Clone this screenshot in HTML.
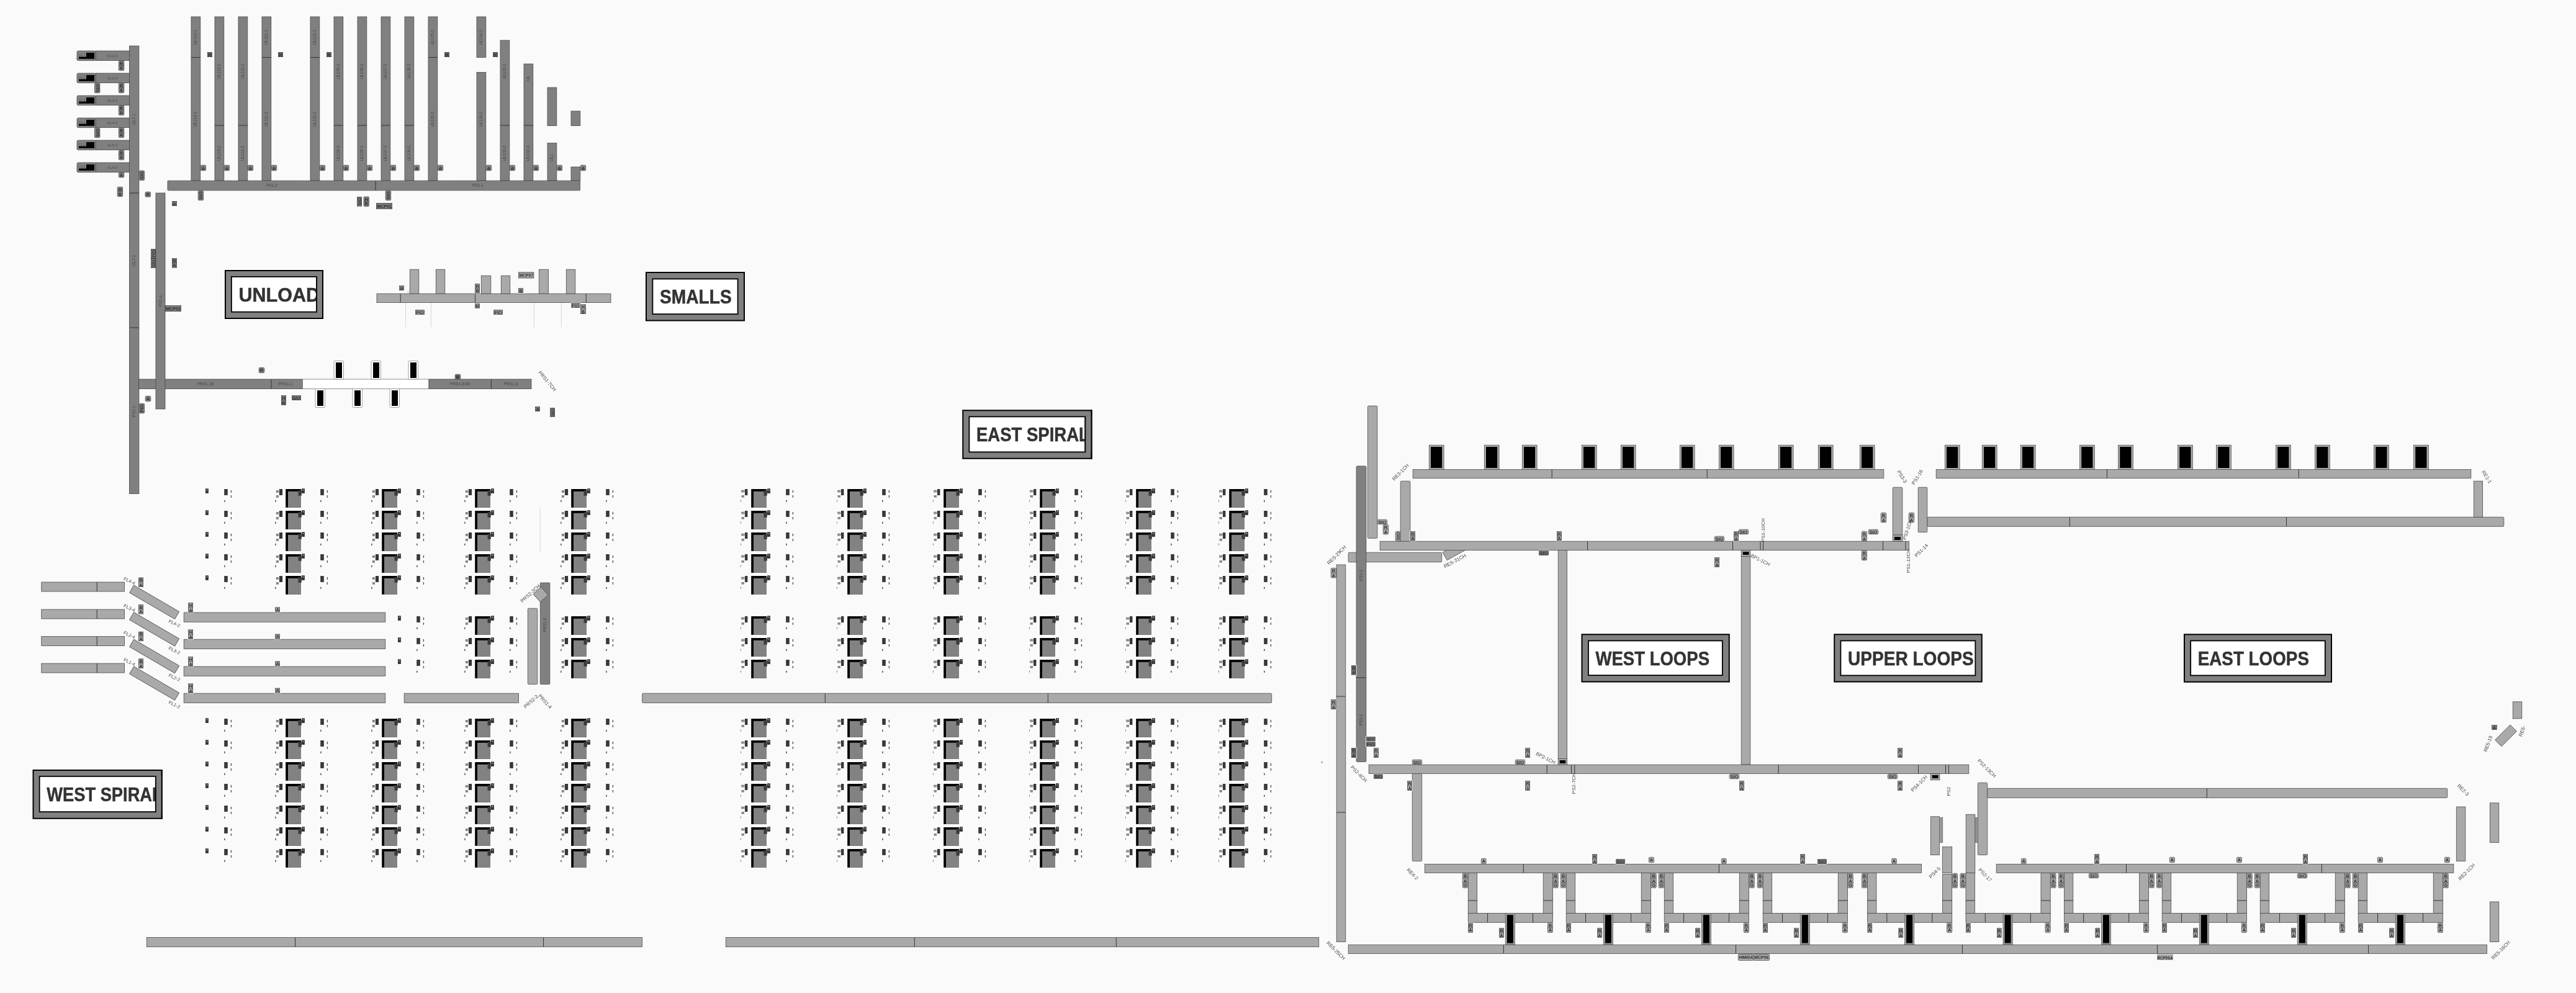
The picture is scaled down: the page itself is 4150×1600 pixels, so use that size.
<!DOCTYPE html>
<html><head><meta charset="utf-8"><title>Conveyor Overview</title>
<style>
html,body{margin:0;padding:0;background:#fafafa;}
body{width:4150px;height:1600px;overflow:hidden;font-family:"Liberation Sans",sans-serif;}
svg{display:block;font-family:"Liberation Sans",sans-serif;}
</style></head><body>
<svg width="4150" height="1600" viewBox="0 0 4150 1600">
<rect width="4150" height="1600" fill="#fafafa"/>
<g opacity="0.999">
<rect x="124" y="82" width="30.3" height="15.6" fill="#808080" stroke="#4a4a4a" stroke-width="0.8" rx="2"/>
<rect x="154.3" y="82" width="54.1" height="15.6" fill="#808080" stroke="#4a4a4a" stroke-width="0.8"/>
<text x="181" y="92" font-size="6" fill="#4c4c4c" text-anchor="middle">GL1-3</text>
<rect x="127" y="85" width="25" height="9.8" fill="#000"/>
<rect x="124.6" y="82.6" width="14.4" height="9" fill="#808080"/>
<text x="132" y="90.6" font-size="6" fill="#5a5a5a" text-anchor="middle">GL1</text>
<rect x="191.3" y="98.1" width="8.5" height="15.5" fill="#808080" stroke="#555" stroke-width="0.8" rx="1.5"/>
<text x="195.55" y="104.65" font-size="7.5" fill="#2e2e2e" font-weight="bold" text-anchor="middle">R</text>
<path d="M191.3 105.85L199.8 105.85" stroke="#444" stroke-width="0.7"/>
<text x="195.55" y="112.4" font-size="7.5" fill="#2e2e2e" font-weight="bold" text-anchor="middle">A</text>
<rect x="124" y="118" width="30.3" height="15.6" fill="#808080" stroke="#4a4a4a" stroke-width="0.8" rx="2"/>
<rect x="154.3" y="118" width="54.1" height="15.6" fill="#808080" stroke="#4a4a4a" stroke-width="0.8"/>
<text x="181" y="128" font-size="6" fill="#4c4c4c" text-anchor="middle">GL2-3</text>
<rect x="127" y="121" width="25" height="9.8" fill="#000"/>
<rect x="124.6" y="118.6" width="14.4" height="9" fill="#808080"/>
<text x="132" y="126.6" font-size="6" fill="#5a5a5a" text-anchor="middle">GL2</text>
<rect x="191.3" y="134.1" width="8.5" height="15.5" fill="#808080" stroke="#555" stroke-width="0.8" rx="1.5"/>
<text x="195.55" y="140.65" font-size="7.5" fill="#2e2e2e" font-weight="bold" text-anchor="middle">R</text>
<path d="M191.3 141.85L199.8 141.85" stroke="#444" stroke-width="0.7"/>
<text x="195.55" y="148.4" font-size="7.5" fill="#2e2e2e" font-weight="bold" text-anchor="middle">A</text>
<rect x="152.4" y="134.2" width="8.5" height="15.5" fill="#808080" stroke="#555" stroke-width="0.8" rx="1.5"/>
<text x="159.6" y="141.95" font-size="7.5" font-weight="bold" fill="#2e2e2e" text-anchor="middle" textLength="13" lengthAdjust="spacingAndGlyphs" transform="rotate(-90 159.6 141.95)">SIO</text>
<rect x="124" y="154" width="30.3" height="15.6" fill="#808080" stroke="#4a4a4a" stroke-width="0.8" rx="2"/>
<rect x="154.3" y="154" width="54.1" height="15.6" fill="#808080" stroke="#4a4a4a" stroke-width="0.8"/>
<text x="181" y="164" font-size="6" fill="#4c4c4c" text-anchor="middle">GL3-3</text>
<rect x="127" y="157" width="25" height="9.8" fill="#000"/>
<rect x="124.6" y="154.6" width="14.4" height="9" fill="#808080"/>
<text x="132" y="162.6" font-size="6" fill="#5a5a5a" text-anchor="middle">GL3</text>
<rect x="191.3" y="170.1" width="8.5" height="15.5" fill="#808080" stroke="#555" stroke-width="0.8" rx="1.5"/>
<text x="195.55" y="176.65" font-size="7.5" fill="#2e2e2e" font-weight="bold" text-anchor="middle">R</text>
<path d="M191.3 177.85L199.8 177.85" stroke="#444" stroke-width="0.7"/>
<text x="195.55" y="184.4" font-size="7.5" fill="#2e2e2e" font-weight="bold" text-anchor="middle">A</text>
<rect x="124" y="190" width="30.3" height="15.6" fill="#808080" stroke="#4a4a4a" stroke-width="0.8" rx="2"/>
<rect x="154.3" y="190" width="54.1" height="15.6" fill="#808080" stroke="#4a4a4a" stroke-width="0.8"/>
<text x="181" y="200" font-size="6" fill="#4c4c4c" text-anchor="middle">GL4-3</text>
<rect x="127" y="193" width="25" height="9.8" fill="#000"/>
<rect x="124.6" y="190.6" width="14.4" height="9" fill="#808080"/>
<text x="132" y="198.6" font-size="6" fill="#5a5a5a" text-anchor="middle">GL4</text>
<rect x="191.3" y="206.1" width="8.5" height="15.5" fill="#808080" stroke="#555" stroke-width="0.8" rx="1.5"/>
<text x="195.55" y="212.65" font-size="7.5" fill="#2e2e2e" font-weight="bold" text-anchor="middle">R</text>
<path d="M191.3 213.85L199.8 213.85" stroke="#444" stroke-width="0.7"/>
<text x="195.55" y="220.4" font-size="7.5" fill="#2e2e2e" font-weight="bold" text-anchor="middle">A</text>
<rect x="152.4" y="206.2" width="8.5" height="15.5" fill="#808080" stroke="#555" stroke-width="0.8" rx="1.5"/>
<text x="159.6" y="213.95" font-size="7.5" font-weight="bold" fill="#2e2e2e" text-anchor="middle" textLength="13" lengthAdjust="spacingAndGlyphs" transform="rotate(-90 159.6 213.95)">SIO</text>
<rect x="124" y="226" width="30.3" height="15.6" fill="#808080" stroke="#4a4a4a" stroke-width="0.8" rx="2"/>
<rect x="154.3" y="226" width="54.1" height="15.6" fill="#808080" stroke="#4a4a4a" stroke-width="0.8"/>
<text x="181" y="236" font-size="6" fill="#4c4c4c" text-anchor="middle">GL5-3</text>
<rect x="127" y="229" width="25" height="9.8" fill="#000"/>
<rect x="124.6" y="226.6" width="14.4" height="9" fill="#808080"/>
<text x="132" y="234.6" font-size="6" fill="#5a5a5a" text-anchor="middle">GL5</text>
<rect x="191.3" y="242.1" width="8.5" height="15.5" fill="#808080" stroke="#555" stroke-width="0.8" rx="1.5"/>
<text x="195.55" y="248.65" font-size="7.5" fill="#2e2e2e" font-weight="bold" text-anchor="middle">R</text>
<path d="M191.3 249.85L199.8 249.85" stroke="#444" stroke-width="0.7"/>
<text x="195.55" y="256.4" font-size="7.5" fill="#2e2e2e" font-weight="bold" text-anchor="middle">A</text>
<rect x="124" y="262" width="30.3" height="15.6" fill="#808080" stroke="#4a4a4a" stroke-width="0.8" rx="2"/>
<rect x="154.3" y="262" width="54.1" height="15.6" fill="#808080" stroke="#4a4a4a" stroke-width="0.8"/>
<text x="181" y="272" font-size="6" fill="#4c4c4c" text-anchor="middle">GL6-3</text>
<rect x="127" y="265" width="25" height="9.8" fill="#000"/>
<rect x="124.6" y="262.6" width="14.4" height="9" fill="#808080"/>
<text x="132" y="270.6" font-size="6" fill="#5a5a5a" text-anchor="middle">GL6</text>
<rect x="191.3" y="278.1" width="8.5" height="7.75" fill="#808080" stroke="#555" stroke-width="0.8" rx="1.5"/>
<text x="195.55" y="284.65" font-size="7.5" fill="#2e2e2e" font-weight="bold" text-anchor="middle">A</text>
<path d="M121 94.5h3" stroke="#e0a868" stroke-width="0.8"/>
<rect x="208.4" y="74" width="15.5" height="721.5" fill="#808080" stroke="#4a4a4a" stroke-width="0.8"/>
<path d="M208.4 311L223.9 311" stroke="#333" stroke-width="1"/>
<path d="M208.4 528L223.9 528" stroke="#333" stroke-width="1"/>
<text x="218.15" y="192" font-size="6.5" fill="#464646" text-anchor="middle" transform="rotate(-90 218.15 192)">GL7-1</text>
<text x="218.15" y="420" font-size="6.5" fill="#464646" text-anchor="middle" transform="rotate(-90 218.15 420)">GL7-2</text>
<text x="218.15" y="663" font-size="6.5" fill="#464646" text-anchor="middle" transform="rotate(-90 218.15 663)">PS2-1</text>
<rect x="308" y="27" width="14.8" height="264" fill="#808080" stroke="#4a4a4a" stroke-width="0.8"/>
<path d="M308 92.5L322.8 92.5" stroke="#333" stroke-width="1"/>
<text x="317.4" y="60" font-size="6.5" fill="#464646" text-anchor="middle" transform="rotate(-90 317.4 60)">UL114-1</text>
<text x="317.4" y="192" font-size="6.5" fill="#464646" text-anchor="middle" transform="rotate(-90 317.4 192)">UL114-2</text>
<rect x="323.2" y="266.2" width="8.5" height="8.6" fill="#808080" stroke="#555" stroke-width="0.8" rx="1.5"/>
<text x="327.45" y="273.6" font-size="7.5" fill="#2e2e2e" font-weight="bold" text-anchor="middle">A</text>
<rect x="346" y="27" width="14.8" height="264" fill="#808080" stroke="#4a4a4a" stroke-width="0.8"/>
<path d="M346 202L360.8 202" stroke="#333" stroke-width="1"/>
<text x="355.4" y="115" font-size="6.5" fill="#464646" text-anchor="middle" transform="rotate(-90 355.4 115)">UL113-1</text>
<text x="355.4" y="247" font-size="6.5" fill="#464646" text-anchor="middle" transform="rotate(-90 355.4 247)">UL113-2</text>
<rect x="361.2" y="266.2" width="8.5" height="8.6" fill="#808080" stroke="#555" stroke-width="0.8" rx="1.5"/>
<text x="365.45" y="273.6" font-size="7.5" fill="#2e2e2e" font-weight="bold" text-anchor="middle">A</text>
<rect x="384" y="27" width="14.8" height="264" fill="#808080" stroke="#4a4a4a" stroke-width="0.8"/>
<path d="M384 202L398.8 202" stroke="#333" stroke-width="1"/>
<text x="393.4" y="115" font-size="6.5" fill="#464646" text-anchor="middle" transform="rotate(-90 393.4 115)">UL112-1</text>
<text x="393.4" y="247" font-size="6.5" fill="#464646" text-anchor="middle" transform="rotate(-90 393.4 247)">UL112-2</text>
<rect x="399.2" y="266.2" width="8.5" height="8.6" fill="#808080" stroke="#555" stroke-width="0.8" rx="1.5"/>
<text x="403.45" y="273.6" font-size="7.5" fill="#2e2e2e" font-weight="bold" text-anchor="middle">A</text>
<rect x="422" y="27" width="14.8" height="264" fill="#808080" stroke="#4a4a4a" stroke-width="0.8"/>
<path d="M422 92.5L436.8 92.5" stroke="#333" stroke-width="1"/>
<text x="431.4" y="60" font-size="6.5" fill="#464646" text-anchor="middle" transform="rotate(-90 431.4 60)">UL111-1</text>
<text x="431.4" y="192" font-size="6.5" fill="#464646" text-anchor="middle" transform="rotate(-90 431.4 192)">UL111-2</text>
<rect x="437.2" y="266.2" width="8.5" height="8.6" fill="#808080" stroke="#555" stroke-width="0.8" rx="1.5"/>
<text x="441.45" y="273.6" font-size="7.5" fill="#2e2e2e" font-weight="bold" text-anchor="middle">A</text>
<rect x="500" y="27" width="14.8" height="264" fill="#808080" stroke="#4a4a4a" stroke-width="0.8"/>
<path d="M500 92.5L514.8 92.5" stroke="#333" stroke-width="1"/>
<text x="509.4" y="60" font-size="6.5" fill="#464646" text-anchor="middle" transform="rotate(-90 509.4 60)">UL110-1</text>
<text x="509.4" y="192" font-size="6.5" fill="#464646" text-anchor="middle" transform="rotate(-90 509.4 192)">UL110-2</text>
<rect x="515.2" y="266.2" width="8.5" height="8.6" fill="#808080" stroke="#555" stroke-width="0.8" rx="1.5"/>
<text x="519.45" y="273.6" font-size="7.5" fill="#2e2e2e" font-weight="bold" text-anchor="middle">A</text>
<rect x="538" y="27" width="14.8" height="264" fill="#808080" stroke="#4a4a4a" stroke-width="0.8"/>
<path d="M538 202L552.8 202" stroke="#333" stroke-width="1"/>
<text x="547.4" y="115" font-size="6.5" fill="#464646" text-anchor="middle" transform="rotate(-90 547.4 115)">UL109-1</text>
<text x="547.4" y="247" font-size="6.5" fill="#464646" text-anchor="middle" transform="rotate(-90 547.4 247)">UL109-2</text>
<rect x="553.2" y="266.2" width="8.5" height="8.6" fill="#808080" stroke="#555" stroke-width="0.8" rx="1.5"/>
<text x="557.45" y="273.6" font-size="7.5" fill="#2e2e2e" font-weight="bold" text-anchor="middle">A</text>
<rect x="576" y="27" width="14.8" height="264" fill="#808080" stroke="#4a4a4a" stroke-width="0.8"/>
<path d="M576 202L590.8 202" stroke="#333" stroke-width="1"/>
<text x="585.4" y="115" font-size="6.5" fill="#464646" text-anchor="middle" transform="rotate(-90 585.4 115)">UL108-1</text>
<text x="585.4" y="247" font-size="6.5" fill="#464646" text-anchor="middle" transform="rotate(-90 585.4 247)">UL108-2</text>
<rect x="591.2" y="266.2" width="8.5" height="8.6" fill="#808080" stroke="#555" stroke-width="0.8" rx="1.5"/>
<text x="595.45" y="273.6" font-size="7.5" fill="#2e2e2e" font-weight="bold" text-anchor="middle">A</text>
<rect x="614" y="27" width="14.8" height="264" fill="#808080" stroke="#4a4a4a" stroke-width="0.8"/>
<path d="M614 202L628.8 202" stroke="#333" stroke-width="1"/>
<text x="623.4" y="115" font-size="6.5" fill="#464646" text-anchor="middle" transform="rotate(-90 623.4 115)">UL107-1</text>
<text x="623.4" y="247" font-size="6.5" fill="#464646" text-anchor="middle" transform="rotate(-90 623.4 247)">UL107-2</text>
<rect x="629.2" y="266.2" width="8.5" height="8.6" fill="#808080" stroke="#555" stroke-width="0.8" rx="1.5"/>
<text x="633.45" y="273.6" font-size="7.5" fill="#2e2e2e" font-weight="bold" text-anchor="middle">A</text>
<rect x="652" y="27" width="14.8" height="264" fill="#808080" stroke="#4a4a4a" stroke-width="0.8"/>
<path d="M652 202L666.8 202" stroke="#333" stroke-width="1"/>
<text x="661.4" y="115" font-size="6.5" fill="#464646" text-anchor="middle" transform="rotate(-90 661.4 115)">UL106-1</text>
<text x="661.4" y="247" font-size="6.5" fill="#464646" text-anchor="middle" transform="rotate(-90 661.4 247)">UL106-2</text>
<rect x="667.2" y="266.2" width="8.5" height="8.6" fill="#808080" stroke="#555" stroke-width="0.8" rx="1.5"/>
<text x="671.45" y="273.6" font-size="7.5" fill="#2e2e2e" font-weight="bold" text-anchor="middle">A</text>
<rect x="690" y="27" width="14.8" height="264" fill="#808080" stroke="#4a4a4a" stroke-width="0.8"/>
<path d="M690 92.5L704.8 92.5" stroke="#333" stroke-width="1"/>
<text x="699.4" y="60" font-size="6.5" fill="#464646" text-anchor="middle" transform="rotate(-90 699.4 60)">UL105-1</text>
<text x="699.4" y="192" font-size="6.5" fill="#464646" text-anchor="middle" transform="rotate(-90 699.4 192)">UL105-2</text>
<rect x="705.2" y="266.2" width="8.5" height="8.6" fill="#808080" stroke="#555" stroke-width="0.8" rx="1.5"/>
<text x="709.45" y="273.6" font-size="7.5" fill="#2e2e2e" font-weight="bold" text-anchor="middle">A</text>
<rect x="768" y="27" width="14.8" height="65.5" fill="#808080" stroke="#4a4a4a" stroke-width="0.8"/>
<text x="777.4" y="60" font-size="6.5" fill="#464646" text-anchor="middle" transform="rotate(-90 777.4 60)">UL104-1</text>
<rect x="768" y="116.5" width="14.8" height="174.5" fill="#808080" stroke="#4a4a4a" stroke-width="0.8"/>
<text x="777.4" y="192" font-size="6.5" fill="#464646" text-anchor="middle" transform="rotate(-90 777.4 192)">UL104-2</text>
<rect x="783.2" y="266.2" width="8.5" height="8.6" fill="#808080" stroke="#555" stroke-width="0.8" rx="1.5"/>
<text x="787.45" y="273.6" font-size="7.5" fill="#2e2e2e" font-weight="bold" text-anchor="middle">A</text>
<rect x="806" y="65" width="14.8" height="226" fill="#808080" stroke="#4a4a4a" stroke-width="0.8"/>
<path d="M806 202L820.8 202" stroke="#333" stroke-width="1"/>
<text x="815.4" y="115" font-size="6.5" fill="#464646" text-anchor="middle" transform="rotate(-90 815.4 115)">UL103-1</text>
<text x="815.4" y="247" font-size="6.5" fill="#464646" text-anchor="middle" transform="rotate(-90 815.4 247)">UL103-2</text>
<rect x="821.2" y="266.2" width="8.5" height="8.6" fill="#808080" stroke="#555" stroke-width="0.8" rx="1.5"/>
<text x="825.45" y="273.6" font-size="7.5" fill="#2e2e2e" font-weight="bold" text-anchor="middle">A</text>
<rect x="844" y="103" width="14.8" height="188" fill="#808080" stroke="#4a4a4a" stroke-width="0.8"/>
<path d="M844 202L858.8 202" stroke="#333" stroke-width="1"/>
<text x="853.4" y="126" font-size="6.5" fill="#464646" text-anchor="middle" transform="rotate(-90 853.4 126)">UL</text>
<text x="853.4" y="247" font-size="6.5" fill="#464646" text-anchor="middle" transform="rotate(-90 853.4 247)">UL102-2</text>
<rect x="859.2" y="266.2" width="8.5" height="8.6" fill="#808080" stroke="#555" stroke-width="0.8" rx="1.5"/>
<text x="863.45" y="273.6" font-size="7.5" fill="#2e2e2e" font-weight="bold" text-anchor="middle">A</text>
<rect x="882" y="141" width="14.8" height="61.5" fill="#808080" stroke="#4a4a4a" stroke-width="0.8"/>
<rect x="882" y="230.5" width="14.8" height="60.5" fill="#808080" stroke="#4a4a4a" stroke-width="0.8"/>
<text x="891.4" y="254" font-size="6.5" fill="#464646" text-anchor="middle" transform="rotate(-90 891.4 254)">UL1</text>
<rect x="897.2" y="266.2" width="8.5" height="8.6" fill="#808080" stroke="#555" stroke-width="0.8" rx="1.5"/>
<text x="901.45" y="273.6" font-size="7.5" fill="#2e2e2e" font-weight="bold" text-anchor="middle">A</text>
<rect x="920" y="179" width="14.8" height="23.5" fill="#808080" stroke="#4a4a4a" stroke-width="0.8"/>
<rect x="920" y="269" width="14.8" height="22" fill="#808080" stroke="#4a4a4a" stroke-width="0.8"/>
<rect x="935.2" y="266.2" width="8.5" height="8.6" fill="#808080" stroke="#555" stroke-width="0.8" rx="1.5"/>
<text x="939.45" y="273.6" font-size="7.5" fill="#2e2e2e" font-weight="bold" text-anchor="middle">A</text>
<rect x="333.2" y="83.2" width="9.6" height="9.6" fill="#ffffff"/>
<rect x="334.4" y="84.4" width="7.2" height="7.2" fill="#6e6e6e" stroke="#3a3a3a" stroke-width="0.8"/>
<text x="338" y="90.7" font-size="7.5" fill="#2e2e2e" font-weight="bold" text-anchor="middle">R</text>
<rect x="447.2" y="83.2" width="9.6" height="9.6" fill="#ffffff"/>
<rect x="448.4" y="84.4" width="7.2" height="7.2" fill="#6e6e6e" stroke="#3a3a3a" stroke-width="0.8"/>
<text x="452" y="90.7" font-size="7.5" fill="#2e2e2e" font-weight="bold" text-anchor="middle">R</text>
<rect x="525.2" y="83.2" width="9.6" height="9.6" fill="#ffffff"/>
<rect x="526.4" y="84.4" width="7.2" height="7.2" fill="#6e6e6e" stroke="#3a3a3a" stroke-width="0.8"/>
<text x="530" y="90.7" font-size="7.5" fill="#2e2e2e" font-weight="bold" text-anchor="middle">R</text>
<rect x="715.2" y="83.2" width="9.6" height="9.6" fill="#ffffff"/>
<rect x="716.4" y="84.4" width="7.2" height="7.2" fill="#6e6e6e" stroke="#3a3a3a" stroke-width="0.8"/>
<text x="720" y="90.7" font-size="7.5" fill="#2e2e2e" font-weight="bold" text-anchor="middle">R</text>
<rect x="793.2" y="83.2" width="9.6" height="9.6" fill="#ffffff"/>
<rect x="794.4" y="84.4" width="7.2" height="7.2" fill="#6e6e6e" stroke="#3a3a3a" stroke-width="0.8"/>
<text x="798" y="90.7" font-size="7.5" fill="#2e2e2e" font-weight="bold" text-anchor="middle">R</text>
<rect x="270" y="291.2" width="664.5" height="15.6" fill="#808080" stroke="#4a4a4a" stroke-width="0.8" rx="1"/>
<path d="M605 291.2L605 306.8" stroke="#333" stroke-width="1"/>
<text x="438" y="301" font-size="6.5" fill="#464646" text-anchor="middle">PS1-2</text>
<text x="770" y="301" font-size="6.5" fill="#464646" text-anchor="middle">PS1-1</text>
<rect x="224.2" y="275" width="8.5" height="15.5" fill="#808080" stroke="#555" stroke-width="0.8" rx="1.5"/>
<text x="231.4" y="282.75" font-size="7.5" font-weight="bold" fill="#2e2e2e" text-anchor="middle" textLength="13" lengthAdjust="spacingAndGlyphs" transform="rotate(-90 231.4 282.75)">SIO</text>
<rect x="189.2" y="301.2" width="8.5" height="15.5" fill="#808080" stroke="#555" stroke-width="0.8" rx="1.5"/>
<text x="193.45" y="307.75" font-size="7.5" fill="#2e2e2e" font-weight="bold" text-anchor="middle">H</text>
<path d="M189.2 308.95L197.7 308.95" stroke="#444" stroke-width="0.7"/>
<text x="193.45" y="315.5" font-size="7.5" fill="#2e2e2e" font-weight="bold" text-anchor="middle">R</text>
<rect x="234" y="309.2" width="8.6" height="8" fill="#808080" stroke="#555" stroke-width="0.8" rx="1.5"/>
<text x="238.3" y="315.9" font-size="7.5" fill="#2e2e2e" font-weight="bold" text-anchor="middle">R</text>
<rect x="276.2" y="323.2" width="9.6" height="9.6" fill="#ffffff"/>
<rect x="277.4" y="324.4" width="7.2" height="7.2" fill="#808080" stroke="#3a3a3a" stroke-width="0.8"/>
<text x="281" y="330.7" font-size="7.5" fill="#2e2e2e" font-weight="bold" text-anchor="middle">A</text>
<rect x="319.2" y="307.2" width="8.5" height="15.5" fill="#808080" stroke="#555" stroke-width="0.8" rx="1.5"/>
<text x="326.4" y="314.95" font-size="7.5" font-weight="bold" fill="#2e2e2e" text-anchor="middle" textLength="13" lengthAdjust="spacingAndGlyphs" transform="rotate(-90 326.4 314.95)">SIO</text>
<rect x="574.2" y="316.2" width="9.6" height="17.1" fill="#ffffff"/>
<rect x="575.4" y="317.4" width="7.2" height="14.7" fill="#808080" stroke="#3a3a3a" stroke-width="0.8"/>
<text x="581.7" y="324.75" font-size="7.5" font-weight="bold" fill="#2e2e2e" text-anchor="middle" textLength="12.5" lengthAdjust="spacingAndGlyphs" transform="rotate(-90 581.7 324.75)">SIO</text>
<rect x="586" y="317" width="8.5" height="15.5" fill="#808080" stroke="#555" stroke-width="0.8" rx="1.5"/>
<text x="590.25" y="323.55" font-size="7.5" fill="#2e2e2e" font-weight="bold" text-anchor="middle">H</text>
<path d="M586 324.75L594.5 324.75" stroke="#444" stroke-width="0.7"/>
<text x="590.25" y="331.3" font-size="7.5" fill="#2e2e2e" font-weight="bold" text-anchor="middle">R</text>
<rect x="621.2" y="307.2" width="8.5" height="15.5" fill="#808080" stroke="#555" stroke-width="0.8" rx="1.5"/>
<text x="628.4" y="314.95" font-size="7.5" font-weight="bold" fill="#2e2e2e" text-anchor="middle" textLength="13" lengthAdjust="spacingAndGlyphs" transform="rotate(-90 628.4 314.95)">SIO</text>
<rect x="605.2" y="326.2" width="27.6" height="11.6" fill="#ffffff"/>
<rect x="606.4" y="327.4" width="25.2" height="9.2" fill="#808080" stroke="#3a3a3a" stroke-width="0.8"/>
<text x="619" y="334.88" font-size="8" fill="#2e2e2e" font-weight="bold" text-anchor="middle" textLength="23.5" lengthAdjust="spacingAndGlyphs">MCP01</text>
<rect x="242.2" y="400.2" width="9.6" height="32.6" fill="#ffffff"/>
<rect x="243.4" y="401.4" width="7.2" height="30.2" fill="#808080" stroke="#3a3a3a" stroke-width="0.8"/>
<text x="249.7" y="408.75" font-size="7.5" font-weight="bold" fill="#2e2e2e" text-anchor="middle" textLength="12.5" lengthAdjust="spacingAndGlyphs" transform="rotate(-90 249.7 408.75)">FIO</text>
<path d="M243 416.5L251 416.5" stroke="#2a2a2a" stroke-width="1"/>
<text x="249.7" y="424.25" font-size="7.5" font-weight="bold" fill="#2e2e2e" text-anchor="middle" textLength="12.5" lengthAdjust="spacingAndGlyphs" transform="rotate(-90 249.7 424.25)">SIO</text>
<rect x="276.2" y="415.2" width="9.6" height="17.1" fill="#ffffff"/>
<rect x="277.4" y="416.4" width="7.2" height="14.7" fill="#808080" stroke="#3a3a3a" stroke-width="0.8"/>
<text x="281" y="422.55" font-size="7.5" fill="#2e2e2e" font-weight="bold" text-anchor="middle">R</text>
<path d="M277 423.75L285 423.75" stroke="#444" stroke-width="0.7"/>
<text x="281" y="430.3" font-size="7.5" fill="#2e2e2e" font-weight="bold" text-anchor="middle">A</text>
<rect x="265.2" y="491.2" width="27.6" height="11.6" fill="#ffffff"/>
<rect x="266.4" y="492.4" width="25.2" height="9.2" fill="#808080" stroke="#3a3a3a" stroke-width="0.8"/>
<text x="279" y="499.88" font-size="8" fill="#2e2e2e" font-weight="bold" text-anchor="middle" textLength="23.5" lengthAdjust="spacingAndGlyphs">MCP02</text>
<rect x="223.5" y="611" width="264" height="15.5" fill="#808080" stroke="#4a4a4a" stroke-width="0.8"/>
<path d="M437 611L437 626.5" stroke="#333" stroke-width="1"/>
<text x="331" y="620.75" font-size="6.5" fill="#464646" text-anchor="middle">PRS1-1B</text>
<text x="460" y="620.75" font-size="6.5" fill="#464646" text-anchor="middle">PRS1-1</text>
<rect x="251" y="311" width="15" height="348" fill="#808080" stroke="#4a4a4a" stroke-width="0.8"/>
<text x="260.5" y="485" font-size="6.5" fill="#464646" text-anchor="middle" transform="rotate(-90 260.5 485)">PS1-4</text>
<rect x="487.5" y="611" width="203.5" height="15.5" fill="#ffffff" stroke="#777" stroke-width="0.8"/>
<rect x="691" y="611" width="165" height="15.5" fill="#808080" stroke="#4a4a4a" stroke-width="0.8"/>
<path d="M791.3 611L791.3 626.5" stroke="#333" stroke-width="1"/>
<text x="741" y="620.75" font-size="6.5" fill="#464646" text-anchor="middle">PRS1-8GB</text>
<text x="823" y="620.75" font-size="6.5" fill="#464646" text-anchor="middle">PRS1-8</text>
<rect x="538" y="581.5" width="15.5" height="29.5" fill="#fff" stroke="#888" stroke-width="0.8" rx="1.5"/>
<rect x="541" y="584" width="10" height="25" fill="#000"/>
<rect x="598" y="581.5" width="15.5" height="29.5" fill="#fff" stroke="#888" stroke-width="0.8" rx="1.5"/>
<rect x="601" y="584" width="10" height="25" fill="#000"/>
<rect x="658" y="581.5" width="15.5" height="29.5" fill="#fff" stroke="#888" stroke-width="0.8" rx="1.5"/>
<rect x="661" y="584" width="10" height="25" fill="#000"/>
<rect x="508" y="626.5" width="15.5" height="30" fill="#fff" stroke="#888" stroke-width="0.8" rx="1.5"/>
<rect x="511" y="629" width="10" height="25" fill="#000"/>
<rect x="568" y="626.5" width="15.5" height="30" fill="#fff" stroke="#888" stroke-width="0.8" rx="1.5"/>
<rect x="571" y="629" width="10" height="25" fill="#000"/>
<rect x="628" y="626.5" width="15.5" height="30" fill="#fff" stroke="#888" stroke-width="0.8" rx="1.5"/>
<rect x="631" y="629" width="10" height="25" fill="#000"/>
<rect x="417.2" y="592.3" width="8.6" height="8.4" fill="#808080" stroke="#555" stroke-width="0.8" rx="1.5"/>
<text x="421.5" y="599.2" font-size="7.5" fill="#2e2e2e" font-weight="bold" text-anchor="middle">R</text>
<rect x="733.2" y="603.2" width="8.6" height="7.8" fill="#707070" stroke="#555" stroke-width="0.8" rx="1.5"/>
<text x="737.5" y="609.8" font-size="7.5" fill="#2e2e2e" font-weight="bold" text-anchor="middle">B</text>
<rect x="234.2" y="638.2" width="8.6" height="8.4" fill="#808080" stroke="#555" stroke-width="0.8" rx="1.5"/>
<text x="238.5" y="645.1" font-size="7.5" fill="#2e2e2e" font-weight="bold" text-anchor="middle">A</text>
<rect x="224.2" y="650.3" width="8.5" height="15.5" fill="#808080" stroke="#555" stroke-width="0.8" rx="1.5"/>
<text x="231.4" y="658.05" font-size="7.5" font-weight="bold" fill="#2e2e2e" text-anchor="middle" textLength="13" lengthAdjust="spacingAndGlyphs" transform="rotate(-90 231.4 658.05)">FIO</text>
<rect x="452.2" y="636.4" width="9.6" height="17.1" fill="#ffffff"/>
<rect x="453.4" y="637.6" width="7.2" height="14.7" fill="#808080" stroke="#3a3a3a" stroke-width="0.8"/>
<text x="457" y="643.75" font-size="7.5" fill="#2e2e2e" font-weight="bold" text-anchor="middle">H</text>
<path d="M453 644.95L461 644.95" stroke="#444" stroke-width="0.7"/>
<text x="457" y="651.5" font-size="7.5" fill="#2e2e2e" font-weight="bold" text-anchor="middle">R</text>
<rect x="469.2" y="636.4" width="16.6" height="9.4" fill="#ffffff"/>
<rect x="470.4" y="637.6" width="14.2" height="7" fill="#808080" stroke="#3a3a3a" stroke-width="0.8"/>
<text x="477.5" y="643.8" font-size="7.5" fill="#2e2e2e" font-weight="bold" text-anchor="middle" textLength="12.5" lengthAdjust="spacingAndGlyphs">SIO</text>
<rect x="861.4" y="654.4" width="9.4" height="9.4" fill="#ffffff"/>
<rect x="862.6" y="655.6" width="7" height="7" fill="#808080" stroke="#3a3a3a" stroke-width="0.8"/>
<text x="866.1" y="661.8" font-size="7.5" fill="#2e2e2e" font-weight="bold" text-anchor="middle">A</text>
<rect x="885.4" y="656.4" width="9.4" height="16.2" fill="#ffffff"/>
<rect x="886.6" y="657.6" width="7" height="13.8" fill="#808080" stroke="#3a3a3a" stroke-width="0.8"/>
<text x="892.7" y="664.5" font-size="7.5" font-weight="bold" fill="#2e2e2e" text-anchor="middle" textLength="11.6" lengthAdjust="spacingAndGlyphs" transform="rotate(-90 892.7 664.5)">SIO</text>
<text x="881.5" y="614" font-size="8" fill="#484848" text-anchor="middle" transform="rotate(50 881.5 614)" dominant-baseline="central">PRS1-7CH</text>
<rect x="607" y="473.2" width="377" height="14.4" fill="#a9a9a9" stroke="#4a4a4a" stroke-width="0.8"/>
<path d="M645.2 473.2L645.2 487.6" stroke="#333" stroke-width="1"/>
<path d="M765.5 473.2L765.5 487.6" stroke="#333" stroke-width="1"/>
<path d="M944.2 473.2L944.2 487.6" stroke="#333" stroke-width="1"/>
<rect x="660.3" y="434.2" width="14.5" height="39" fill="#a9a9a9" stroke="#4a4a4a" stroke-width="0.8"/>
<rect x="702.3" y="434.2" width="14.5" height="39" fill="#a9a9a9" stroke="#4a4a4a" stroke-width="0.8"/>
<rect x="775.3" y="444.2" width="15.5" height="29" fill="#a9a9a9" stroke="#4a4a4a" stroke-width="0.8"/>
<rect x="807.3" y="444.2" width="14.5" height="29" fill="#a9a9a9" stroke="#4a4a4a" stroke-width="0.8"/>
<rect x="868.3" y="434.2" width="15.2" height="39" fill="#a9a9a9" stroke="#4a4a4a" stroke-width="0.8"/>
<rect x="912.3" y="434.2" width="14.5" height="39" fill="#a9a9a9" stroke="#4a4a4a" stroke-width="0.8"/>
<path d="M653.6 488L653.6 527" stroke="#d0d0d0" stroke-width="0.8"/>
<path d="M694.5 488L694.5 527" stroke="#d0d0d0" stroke-width="0.8"/>
<path d="M860.3 488L860.3 527" stroke="#d0d0d0" stroke-width="0.8"/>
<path d="M904.3 488L904.3 527" stroke="#d0d0d0" stroke-width="0.8"/>
<rect x="656.3" y="468.8" width="2.6" height="3" fill="#d8d8d8"/>
<rect x="642.4" y="459.4" width="9.4" height="9.4" fill="#ffffff"/>
<rect x="643.6" y="460.6" width="7" height="7" fill="#a9a9a9" stroke="#3a3a3a" stroke-width="0.8"/>
<text x="647.1" y="466.8" font-size="7.5" fill="#2e2e2e" font-weight="bold" text-anchor="middle">B</text>
<rect x="764.4" y="456.4" width="9.4" height="17" fill="#ffffff"/>
<rect x="765.6" y="457.6" width="7" height="14.6" fill="#a9a9a9" stroke="#3a3a3a" stroke-width="0.8"/>
<text x="769.1" y="463.7" font-size="7.5" fill="#2e2e2e" font-weight="bold" text-anchor="middle">R</text>
<path d="M765.2 464.9L773 464.9" stroke="#444" stroke-width="0.7"/>
<text x="769.1" y="471.4" font-size="7.5" fill="#2e2e2e" font-weight="bold" text-anchor="middle">B</text>
<rect x="764.4" y="488.2" width="9.4" height="9.2" fill="#ffffff"/>
<rect x="765.6" y="489.4" width="7" height="6.8" fill="#a9a9a9" stroke="#3a3a3a" stroke-width="0.8"/>
<text x="769.1" y="495.5" font-size="7.5" fill="#2e2e2e" font-weight="bold" text-anchor="middle">R</text>
<rect x="668.4" y="498.4" width="16.4" height="9.4" fill="#ffffff"/>
<rect x="669.6" y="499.6" width="14" height="7" fill="#a9a9a9" stroke="#3a3a3a" stroke-width="0.8"/>
<text x="676.6" y="505.8" font-size="7.5" fill="#2e2e2e" font-weight="bold" text-anchor="middle" textLength="12.3" lengthAdjust="spacingAndGlyphs">FIO</text>
<rect x="794.4" y="498.4" width="16.4" height="9.4" fill="#ffffff"/>
<rect x="795.6" y="499.6" width="14" height="7" fill="#a9a9a9" stroke="#3a3a3a" stroke-width="0.8"/>
<text x="802.6" y="505.8" font-size="7.5" fill="#2e2e2e" font-weight="bold" text-anchor="middle" textLength="12.3" lengthAdjust="spacingAndGlyphs">FIO</text>
<rect x="834.4" y="463.4" width="9.4" height="9.4" fill="#ffffff"/>
<rect x="835.6" y="464.6" width="7" height="7" fill="#a9a9a9" stroke="#3a3a3a" stroke-width="0.8"/>
<text x="839.1" y="470.8" font-size="7.5" fill="#2e2e2e" font-weight="bold" text-anchor="middle">B</text>
<rect x="834.4" y="437.6" width="26.6" height="11.6" fill="#ffffff"/>
<rect x="835.6" y="438.8" width="24.2" height="9.2" fill="#a9a9a9" stroke="#3a3a3a" stroke-width="0.8"/>
<text x="847.7" y="446.28" font-size="8" fill="#2e2e2e" font-weight="bold" text-anchor="middle" textLength="22.5" lengthAdjust="spacingAndGlyphs">MCP07</text>
<rect x="919.5" y="487.4" width="16.2" height="9.2" fill="#ffffff"/>
<rect x="920.7" y="488.6" width="13.8" height="6.8" fill="#a9a9a9" stroke="#3a3a3a" stroke-width="0.8"/>
<text x="927.6" y="494.7" font-size="7.5" fill="#2e2e2e" font-weight="bold" text-anchor="middle" textLength="12.1" lengthAdjust="spacingAndGlyphs">FIO</text>
<rect x="934.4" y="489.6" width="10.2" height="17.2" fill="#ffffff"/>
<rect x="935.6" y="490.8" width="7.8" height="14.8" fill="#a9a9a9" stroke="#3a3a3a" stroke-width="0.8"/>
<text x="939.5" y="497" font-size="7.5" fill="#2e2e2e" font-weight="bold" text-anchor="middle">H</text>
<path d="M935.2 498.2L943.8 498.2" stroke="#444" stroke-width="0.7"/>
<text x="939.5" y="504.8" font-size="7.5" fill="#2e2e2e" font-weight="bold" text-anchor="middle">B</text>
<rect x="363" y="436" width="157" height="77" fill="#808080" stroke="#000" stroke-width="2"/>
<rect x="372.9" y="445.9" width="137.2" height="56.7" fill="#ffffff" stroke="#000" stroke-width="1.8"/>
<text x="384.5" y="485.8" font-size="31.2" font-weight="bold" fill="#333" stroke="#333" stroke-width="0.5" textLength="130.6" lengthAdjust="spacingAndGlyphs">UNLOAD</text>
<rect x="509.2" y="445" width="11.8" height="58.5" fill="#808080"/>
<rect x="509.2" y="445" width="1.8" height="58.5" fill="#000"/>
<rect x="519" y="435" width="2" height="79" fill="#000"/>
<rect x="1041" y="439" width="158" height="77.5" fill="#808080" stroke="#000" stroke-width="2"/>
<rect x="1051.4" y="449.4" width="137.2" height="56.7" fill="#ffffff" stroke="#000" stroke-width="1.8"/>
<text x="1063" y="489.3" font-size="31.2" font-weight="bold" fill="#333" stroke="#333" stroke-width="0.5" textLength="115.7" lengthAdjust="spacingAndGlyphs">SMALLS</text>
<rect x="53.5" y="1241" width="207.25" height="77.75" fill="#808080" stroke="#000" stroke-width="2"/>
<rect x="63.65" y="1250.9" width="187.2" height="57.2" fill="#ffffff" stroke="#000" stroke-width="1.8"/>
<text x="75.25" y="1290.8" font-size="31.2" font-weight="bold" fill="#333" stroke="#333" stroke-width="0.5" textLength="186.5" lengthAdjust="spacingAndGlyphs">WEST SPIRAL</text>
<rect x="249.95" y="1250" width="11.8" height="59" fill="#808080"/>
<rect x="249.95" y="1250" width="1.8" height="59" fill="#000"/>
<rect x="259.75" y="1240" width="2" height="79.75" fill="#000"/>
<rect x="1551.25" y="661.25" width="207.25" height="77.5" fill="#808080" stroke="#000" stroke-width="2"/>
<rect x="1561.4" y="671.4" width="186.95" height="56.95" fill="#ffffff" stroke="#000" stroke-width="1.8"/>
<text x="1573" y="711.3" font-size="31.2" font-weight="bold" fill="#333" stroke="#333" stroke-width="0.5" textLength="181.8" lengthAdjust="spacingAndGlyphs">EAST SPIRAL</text>
<rect x="1747.45" y="670.5" width="12.05" height="58.75" fill="#808080"/>
<rect x="1747.45" y="670.5" width="1.8" height="58.75" fill="#000"/>
<rect x="1757.5" y="660.25" width="2" height="79.5" fill="#000"/>
<rect x="2548.5" y="1022.25" width="237.25" height="76.25" fill="#808080" stroke="#000" stroke-width="2"/>
<rect x="2558.9" y="1032.4" width="215.95" height="55.7" fill="#ffffff" stroke="#000" stroke-width="1.8"/>
<text x="2570.5" y="1072.3" font-size="31.2" font-weight="bold" fill="#333" stroke="#333" stroke-width="0.5" textLength="183.5" lengthAdjust="spacingAndGlyphs">WEST LOOPS</text>
<rect x="2955.25" y="1022.25" width="237.5" height="76.25" fill="#808080" stroke="#000" stroke-width="2"/>
<rect x="2965.4" y="1032.4" width="216.95" height="55.95" fill="#ffffff" stroke="#000" stroke-width="1.8"/>
<text x="2977" y="1072.3" font-size="31.2" font-weight="bold" fill="#333" stroke="#333" stroke-width="0.5" textLength="202.7" lengthAdjust="spacingAndGlyphs">UPPER LOOPS</text>
<rect x="3519" y="1022.25" width="237" height="76.5" fill="#808080" stroke="#000" stroke-width="2"/>
<rect x="3529.15" y="1032.4" width="216.7" height="55.95" fill="#ffffff" stroke="#000" stroke-width="1.8"/>
<text x="3540.75" y="1072.3" font-size="31.2" font-weight="bold" fill="#333" stroke="#333" stroke-width="0.5" textLength="179.2" lengthAdjust="spacingAndGlyphs">EAST LOOPS</text>
<rect x="331" y="787.2" width="4.9" height="7.7" fill="#353535"/>
<rect x="332.4" y="788.6" width="2.2" height="2" fill="#888"/>
<rect x="361.2" y="788" width="5.6" height="9.9" fill="#383838"/>
<rect x="371.7" y="789.9" width="1.4" height="4" fill="#555"/>
<rect x="371.7" y="798" width="1.4" height="3.8" fill="#555"/>
<rect x="361" y="805.8" width="1.8" height="3" fill="#666"/>
<rect x="444.8" y="790" width="4.2" height="3.9" fill="#888"/>
<rect x="444.8" y="798" width="4.2" height="3.8" fill="#888"/>
<rect x="449.9" y="788" width="5.2" height="9.9" fill="#353535"/>
<rect x="443" y="805.8" width="1.8" height="3" fill="#666"/>
<rect x="460.2" y="788" width="24.8" height="29.9" fill="#000"/>
<rect x="464" y="791.8" width="21" height="26.1" fill="#828282"/>
<rect x="480.5" y="790" width="5.3" height="8.7" fill="#3a3a3a"/>
<rect x="486" y="787.2" width="4.9" height="7.7" fill="#353535"/>
<rect x="487.4" y="788.6" width="2.2" height="2" fill="#888"/>
<rect x="516.2" y="788" width="5.6" height="9.9" fill="#383838"/>
<rect x="526.7" y="789.9" width="1.4" height="4" fill="#555"/>
<rect x="526.7" y="798" width="1.4" height="3.8" fill="#555"/>
<rect x="516" y="805.8" width="1.8" height="3" fill="#666"/>
<rect x="599.8" y="790" width="4.2" height="3.9" fill="#888"/>
<rect x="599.8" y="798" width="4.2" height="3.8" fill="#888"/>
<rect x="604.9" y="788" width="5.2" height="9.9" fill="#353535"/>
<rect x="598" y="805.8" width="1.8" height="3" fill="#666"/>
<rect x="615.2" y="788" width="24.8" height="29.9" fill="#000"/>
<rect x="619" y="791.8" width="21" height="26.1" fill="#828282"/>
<rect x="635.5" y="790" width="5.3" height="8.7" fill="#3a3a3a"/>
<rect x="641" y="787.2" width="4.9" height="7.7" fill="#353535"/>
<rect x="642.4" y="788.6" width="2.2" height="2" fill="#888"/>
<rect x="671.2" y="788" width="5.6" height="9.9" fill="#383838"/>
<rect x="681.7" y="789.9" width="1.4" height="4" fill="#555"/>
<rect x="681.7" y="798" width="1.4" height="3.8" fill="#555"/>
<rect x="671" y="805.8" width="1.8" height="3" fill="#666"/>
<rect x="749.8" y="790" width="4.2" height="3.9" fill="#888"/>
<rect x="749.8" y="798" width="4.2" height="3.8" fill="#888"/>
<rect x="754.9" y="788" width="5.2" height="9.9" fill="#353535"/>
<rect x="748" y="805.8" width="1.8" height="3" fill="#666"/>
<rect x="765.2" y="788" width="24.8" height="29.9" fill="#000"/>
<rect x="769" y="791.8" width="21" height="26.1" fill="#828282"/>
<rect x="785.5" y="790" width="5.3" height="8.7" fill="#3a3a3a"/>
<rect x="791" y="787.2" width="4.9" height="7.7" fill="#353535"/>
<rect x="792.4" y="788.6" width="2.2" height="2" fill="#888"/>
<rect x="821.2" y="788" width="5.6" height="9.9" fill="#383838"/>
<rect x="831.7" y="789.9" width="1.4" height="4" fill="#555"/>
<rect x="831.7" y="798" width="1.4" height="3.8" fill="#555"/>
<rect x="821" y="805.8" width="1.8" height="3" fill="#666"/>
<rect x="904.8" y="790" width="4.2" height="3.9" fill="#888"/>
<rect x="904.8" y="798" width="4.2" height="3.8" fill="#888"/>
<rect x="909.9" y="788" width="5.2" height="9.9" fill="#353535"/>
<rect x="903" y="805.8" width="1.8" height="3" fill="#666"/>
<rect x="920.2" y="788" width="24.8" height="29.9" fill="#000"/>
<rect x="924" y="791.8" width="21" height="26.1" fill="#828282"/>
<rect x="940.5" y="790" width="5.3" height="8.7" fill="#3a3a3a"/>
<rect x="946" y="787.2" width="4.9" height="7.7" fill="#353535"/>
<rect x="947.4" y="788.6" width="2.2" height="2" fill="#888"/>
<rect x="976.2" y="788" width="5.6" height="9.9" fill="#383838"/>
<rect x="986.7" y="789.9" width="1.4" height="4" fill="#555"/>
<rect x="986.7" y="798" width="1.4" height="3.8" fill="#555"/>
<rect x="976" y="805.8" width="1.8" height="3" fill="#666"/>
<rect x="331" y="822.2" width="4.9" height="7.7" fill="#353535"/>
<rect x="332.4" y="823.6" width="2.2" height="2" fill="#888"/>
<rect x="361.2" y="823" width="5.6" height="9.9" fill="#383838"/>
<rect x="371.7" y="824.9" width="1.4" height="4" fill="#555"/>
<rect x="371.7" y="833" width="1.4" height="3.8" fill="#555"/>
<rect x="361" y="840.8" width="1.8" height="3" fill="#666"/>
<rect x="444.8" y="825" width="4.2" height="3.9" fill="#888"/>
<rect x="444.8" y="833" width="4.2" height="3.8" fill="#888"/>
<rect x="449.9" y="823" width="5.2" height="9.9" fill="#353535"/>
<rect x="443" y="840.8" width="1.8" height="3" fill="#666"/>
<rect x="460.2" y="823" width="24.8" height="29.9" fill="#000"/>
<rect x="464" y="826.8" width="21" height="26.1" fill="#828282"/>
<rect x="480.5" y="825" width="5.3" height="8.7" fill="#3a3a3a"/>
<rect x="486" y="822.2" width="4.9" height="7.7" fill="#353535"/>
<rect x="487.4" y="823.6" width="2.2" height="2" fill="#888"/>
<rect x="516.2" y="823" width="5.6" height="9.9" fill="#383838"/>
<rect x="526.7" y="824.9" width="1.4" height="4" fill="#555"/>
<rect x="526.7" y="833" width="1.4" height="3.8" fill="#555"/>
<rect x="516" y="840.8" width="1.8" height="3" fill="#666"/>
<rect x="599.8" y="825" width="4.2" height="3.9" fill="#888"/>
<rect x="599.8" y="833" width="4.2" height="3.8" fill="#888"/>
<rect x="604.9" y="823" width="5.2" height="9.9" fill="#353535"/>
<rect x="598" y="840.8" width="1.8" height="3" fill="#666"/>
<rect x="615.2" y="823" width="24.8" height="29.9" fill="#000"/>
<rect x="619" y="826.8" width="21" height="26.1" fill="#828282"/>
<rect x="635.5" y="825" width="5.3" height="8.7" fill="#3a3a3a"/>
<rect x="641" y="822.2" width="4.9" height="7.7" fill="#353535"/>
<rect x="642.4" y="823.6" width="2.2" height="2" fill="#888"/>
<rect x="671.2" y="823" width="5.6" height="9.9" fill="#383838"/>
<rect x="681.7" y="824.9" width="1.4" height="4" fill="#555"/>
<rect x="681.7" y="833" width="1.4" height="3.8" fill="#555"/>
<rect x="671" y="840.8" width="1.8" height="3" fill="#666"/>
<rect x="749.8" y="825" width="4.2" height="3.9" fill="#888"/>
<rect x="749.8" y="833" width="4.2" height="3.8" fill="#888"/>
<rect x="754.9" y="823" width="5.2" height="9.9" fill="#353535"/>
<rect x="748" y="840.8" width="1.8" height="3" fill="#666"/>
<rect x="765.2" y="823" width="24.8" height="29.9" fill="#000"/>
<rect x="769" y="826.8" width="21" height="26.1" fill="#828282"/>
<rect x="785.5" y="825" width="5.3" height="8.7" fill="#3a3a3a"/>
<rect x="791" y="822.2" width="4.9" height="7.7" fill="#353535"/>
<rect x="792.4" y="823.6" width="2.2" height="2" fill="#888"/>
<rect x="821.2" y="823" width="5.6" height="9.9" fill="#383838"/>
<rect x="831.7" y="824.9" width="1.4" height="4" fill="#555"/>
<rect x="831.7" y="833" width="1.4" height="3.8" fill="#555"/>
<rect x="821" y="840.8" width="1.8" height="3" fill="#666"/>
<rect x="904.8" y="825" width="4.2" height="3.9" fill="#888"/>
<rect x="904.8" y="833" width="4.2" height="3.8" fill="#888"/>
<rect x="909.9" y="823" width="5.2" height="9.9" fill="#353535"/>
<rect x="903" y="840.8" width="1.8" height="3" fill="#666"/>
<rect x="920.2" y="823" width="24.8" height="29.9" fill="#000"/>
<rect x="924" y="826.8" width="21" height="26.1" fill="#828282"/>
<rect x="940.5" y="825" width="5.3" height="8.7" fill="#3a3a3a"/>
<rect x="946" y="822.2" width="4.9" height="7.7" fill="#353535"/>
<rect x="947.4" y="823.6" width="2.2" height="2" fill="#888"/>
<rect x="976.2" y="823" width="5.6" height="9.9" fill="#383838"/>
<rect x="986.7" y="824.9" width="1.4" height="4" fill="#555"/>
<rect x="986.7" y="833" width="1.4" height="3.8" fill="#555"/>
<rect x="976" y="840.8" width="1.8" height="3" fill="#666"/>
<rect x="331" y="857.2" width="4.9" height="7.7" fill="#353535"/>
<rect x="332.4" y="858.6" width="2.2" height="2" fill="#888"/>
<rect x="361.2" y="858" width="5.6" height="9.9" fill="#383838"/>
<rect x="371.7" y="859.9" width="1.4" height="4" fill="#555"/>
<rect x="371.7" y="868" width="1.4" height="3.8" fill="#555"/>
<rect x="361" y="875.8" width="1.8" height="3" fill="#666"/>
<rect x="444.8" y="860" width="4.2" height="3.9" fill="#888"/>
<rect x="444.8" y="868" width="4.2" height="3.8" fill="#888"/>
<rect x="449.9" y="858" width="5.2" height="9.9" fill="#353535"/>
<rect x="443" y="875.8" width="1.8" height="3" fill="#666"/>
<rect x="460.2" y="858" width="24.8" height="29.9" fill="#000"/>
<rect x="464" y="861.8" width="21" height="26.1" fill="#828282"/>
<rect x="480.5" y="860" width="5.3" height="8.7" fill="#3a3a3a"/>
<rect x="486" y="857.2" width="4.9" height="7.7" fill="#353535"/>
<rect x="487.4" y="858.6" width="2.2" height="2" fill="#888"/>
<rect x="516.2" y="858" width="5.6" height="9.9" fill="#383838"/>
<rect x="526.7" y="859.9" width="1.4" height="4" fill="#555"/>
<rect x="526.7" y="868" width="1.4" height="3.8" fill="#555"/>
<rect x="516" y="875.8" width="1.8" height="3" fill="#666"/>
<rect x="599.8" y="860" width="4.2" height="3.9" fill="#888"/>
<rect x="599.8" y="868" width="4.2" height="3.8" fill="#888"/>
<rect x="604.9" y="858" width="5.2" height="9.9" fill="#353535"/>
<rect x="598" y="875.8" width="1.8" height="3" fill="#666"/>
<rect x="615.2" y="858" width="24.8" height="29.9" fill="#000"/>
<rect x="619" y="861.8" width="21" height="26.1" fill="#828282"/>
<rect x="635.5" y="860" width="5.3" height="8.7" fill="#3a3a3a"/>
<rect x="641" y="857.2" width="4.9" height="7.7" fill="#353535"/>
<rect x="642.4" y="858.6" width="2.2" height="2" fill="#888"/>
<rect x="671.2" y="858" width="5.6" height="9.9" fill="#383838"/>
<rect x="681.7" y="859.9" width="1.4" height="4" fill="#555"/>
<rect x="681.7" y="868" width="1.4" height="3.8" fill="#555"/>
<rect x="671" y="875.8" width="1.8" height="3" fill="#666"/>
<rect x="749.8" y="860" width="4.2" height="3.9" fill="#888"/>
<rect x="749.8" y="868" width="4.2" height="3.8" fill="#888"/>
<rect x="754.9" y="858" width="5.2" height="9.9" fill="#353535"/>
<rect x="748" y="875.8" width="1.8" height="3" fill="#666"/>
<rect x="765.2" y="858" width="24.8" height="29.9" fill="#000"/>
<rect x="769" y="861.8" width="21" height="26.1" fill="#828282"/>
<rect x="785.5" y="860" width="5.3" height="8.7" fill="#3a3a3a"/>
<rect x="791" y="857.2" width="4.9" height="7.7" fill="#353535"/>
<rect x="792.4" y="858.6" width="2.2" height="2" fill="#888"/>
<rect x="821.2" y="858" width="5.6" height="9.9" fill="#383838"/>
<rect x="831.7" y="859.9" width="1.4" height="4" fill="#555"/>
<rect x="831.7" y="868" width="1.4" height="3.8" fill="#555"/>
<rect x="821" y="875.8" width="1.8" height="3" fill="#666"/>
<rect x="904.8" y="860" width="4.2" height="3.9" fill="#888"/>
<rect x="904.8" y="868" width="4.2" height="3.8" fill="#888"/>
<rect x="909.9" y="858" width="5.2" height="9.9" fill="#353535"/>
<rect x="903" y="875.8" width="1.8" height="3" fill="#666"/>
<rect x="920.2" y="858" width="24.8" height="29.9" fill="#000"/>
<rect x="924" y="861.8" width="21" height="26.1" fill="#828282"/>
<rect x="940.5" y="860" width="5.3" height="8.7" fill="#3a3a3a"/>
<rect x="946" y="857.2" width="4.9" height="7.7" fill="#353535"/>
<rect x="947.4" y="858.6" width="2.2" height="2" fill="#888"/>
<rect x="976.2" y="858" width="5.6" height="9.9" fill="#383838"/>
<rect x="986.7" y="859.9" width="1.4" height="4" fill="#555"/>
<rect x="986.7" y="868" width="1.4" height="3.8" fill="#555"/>
<rect x="976" y="875.8" width="1.8" height="3" fill="#666"/>
<rect x="331" y="892.2" width="4.9" height="7.7" fill="#353535"/>
<rect x="332.4" y="893.6" width="2.2" height="2" fill="#888"/>
<rect x="361.2" y="893" width="5.6" height="9.9" fill="#383838"/>
<rect x="371.7" y="894.9" width="1.4" height="4" fill="#555"/>
<rect x="371.7" y="903" width="1.4" height="3.8" fill="#555"/>
<rect x="361" y="910.8" width="1.8" height="3" fill="#666"/>
<rect x="444.8" y="895" width="4.2" height="3.9" fill="#888"/>
<rect x="444.8" y="903" width="4.2" height="3.8" fill="#888"/>
<rect x="449.9" y="893" width="5.2" height="9.9" fill="#353535"/>
<rect x="443" y="910.8" width="1.8" height="3" fill="#666"/>
<rect x="460.2" y="893" width="24.8" height="29.9" fill="#000"/>
<rect x="464" y="896.8" width="21" height="26.1" fill="#828282"/>
<rect x="480.5" y="895" width="5.3" height="8.7" fill="#3a3a3a"/>
<rect x="486" y="892.2" width="4.9" height="7.7" fill="#353535"/>
<rect x="487.4" y="893.6" width="2.2" height="2" fill="#888"/>
<rect x="516.2" y="893" width="5.6" height="9.9" fill="#383838"/>
<rect x="526.7" y="894.9" width="1.4" height="4" fill="#555"/>
<rect x="526.7" y="903" width="1.4" height="3.8" fill="#555"/>
<rect x="516" y="910.8" width="1.8" height="3" fill="#666"/>
<rect x="599.8" y="895" width="4.2" height="3.9" fill="#888"/>
<rect x="599.8" y="903" width="4.2" height="3.8" fill="#888"/>
<rect x="604.9" y="893" width="5.2" height="9.9" fill="#353535"/>
<rect x="598" y="910.8" width="1.8" height="3" fill="#666"/>
<rect x="615.2" y="893" width="24.8" height="29.9" fill="#000"/>
<rect x="619" y="896.8" width="21" height="26.1" fill="#828282"/>
<rect x="635.5" y="895" width="5.3" height="8.7" fill="#3a3a3a"/>
<rect x="641" y="892.2" width="4.9" height="7.7" fill="#353535"/>
<rect x="642.4" y="893.6" width="2.2" height="2" fill="#888"/>
<rect x="671.2" y="893" width="5.6" height="9.9" fill="#383838"/>
<rect x="681.7" y="894.9" width="1.4" height="4" fill="#555"/>
<rect x="681.7" y="903" width="1.4" height="3.8" fill="#555"/>
<rect x="671" y="910.8" width="1.8" height="3" fill="#666"/>
<rect x="749.8" y="895" width="4.2" height="3.9" fill="#888"/>
<rect x="749.8" y="903" width="4.2" height="3.8" fill="#888"/>
<rect x="754.9" y="893" width="5.2" height="9.9" fill="#353535"/>
<rect x="748" y="910.8" width="1.8" height="3" fill="#666"/>
<rect x="765.2" y="893" width="24.8" height="29.9" fill="#000"/>
<rect x="769" y="896.8" width="21" height="26.1" fill="#828282"/>
<rect x="785.5" y="895" width="5.3" height="8.7" fill="#3a3a3a"/>
<rect x="791" y="892.2" width="4.9" height="7.7" fill="#353535"/>
<rect x="792.4" y="893.6" width="2.2" height="2" fill="#888"/>
<rect x="821.2" y="893" width="5.6" height="9.9" fill="#383838"/>
<rect x="831.7" y="894.9" width="1.4" height="4" fill="#555"/>
<rect x="831.7" y="903" width="1.4" height="3.8" fill="#555"/>
<rect x="821" y="910.8" width="1.8" height="3" fill="#666"/>
<rect x="904.8" y="895" width="4.2" height="3.9" fill="#888"/>
<rect x="904.8" y="903" width="4.2" height="3.8" fill="#888"/>
<rect x="909.9" y="893" width="5.2" height="9.9" fill="#353535"/>
<rect x="903" y="910.8" width="1.8" height="3" fill="#666"/>
<rect x="920.2" y="893" width="24.8" height="29.9" fill="#000"/>
<rect x="924" y="896.8" width="21" height="26.1" fill="#828282"/>
<rect x="940.5" y="895" width="5.3" height="8.7" fill="#3a3a3a"/>
<rect x="946" y="892.2" width="4.9" height="7.7" fill="#353535"/>
<rect x="947.4" y="893.6" width="2.2" height="2" fill="#888"/>
<rect x="976.2" y="893" width="5.6" height="9.9" fill="#383838"/>
<rect x="986.7" y="894.9" width="1.4" height="4" fill="#555"/>
<rect x="986.7" y="903" width="1.4" height="3.8" fill="#555"/>
<rect x="976" y="910.8" width="1.8" height="3" fill="#666"/>
<rect x="331" y="927.2" width="4.9" height="7.7" fill="#353535"/>
<rect x="332.4" y="928.6" width="2.2" height="2" fill="#888"/>
<rect x="361.2" y="928" width="5.6" height="9.9" fill="#383838"/>
<rect x="371.7" y="929.9" width="1.4" height="4" fill="#555"/>
<rect x="371.7" y="938" width="1.4" height="3.8" fill="#555"/>
<rect x="361" y="945.8" width="1.8" height="3" fill="#666"/>
<rect x="444.8" y="930" width="4.2" height="3.9" fill="#888"/>
<rect x="444.8" y="938" width="4.2" height="3.8" fill="#888"/>
<rect x="449.9" y="928" width="5.2" height="9.9" fill="#353535"/>
<rect x="443" y="945.8" width="1.8" height="3" fill="#666"/>
<rect x="460.2" y="928" width="24.8" height="29.9" fill="#000"/>
<rect x="464" y="931.8" width="21" height="26.1" fill="#828282"/>
<rect x="480.5" y="930" width="5.3" height="8.7" fill="#3a3a3a"/>
<rect x="486" y="927.2" width="4.9" height="7.7" fill="#353535"/>
<rect x="487.4" y="928.6" width="2.2" height="2" fill="#888"/>
<rect x="516.2" y="928" width="5.6" height="9.9" fill="#383838"/>
<rect x="526.7" y="929.9" width="1.4" height="4" fill="#555"/>
<rect x="526.7" y="938" width="1.4" height="3.8" fill="#555"/>
<rect x="516" y="945.8" width="1.8" height="3" fill="#666"/>
<rect x="599.8" y="930" width="4.2" height="3.9" fill="#888"/>
<rect x="599.8" y="938" width="4.2" height="3.8" fill="#888"/>
<rect x="604.9" y="928" width="5.2" height="9.9" fill="#353535"/>
<rect x="598" y="945.8" width="1.8" height="3" fill="#666"/>
<rect x="615.2" y="928" width="24.8" height="29.9" fill="#000"/>
<rect x="619" y="931.8" width="21" height="26.1" fill="#828282"/>
<rect x="635.5" y="930" width="5.3" height="8.7" fill="#3a3a3a"/>
<rect x="641" y="927.2" width="4.9" height="7.7" fill="#353535"/>
<rect x="642.4" y="928.6" width="2.2" height="2" fill="#888"/>
<rect x="671.2" y="928" width="5.6" height="9.9" fill="#383838"/>
<rect x="681.7" y="929.9" width="1.4" height="4" fill="#555"/>
<rect x="681.7" y="938" width="1.4" height="3.8" fill="#555"/>
<rect x="671" y="945.8" width="1.8" height="3" fill="#666"/>
<rect x="749.8" y="930" width="4.2" height="3.9" fill="#888"/>
<rect x="749.8" y="938" width="4.2" height="3.8" fill="#888"/>
<rect x="754.9" y="928" width="5.2" height="9.9" fill="#353535"/>
<rect x="748" y="945.8" width="1.8" height="3" fill="#666"/>
<rect x="765.2" y="928" width="24.8" height="29.9" fill="#000"/>
<rect x="769" y="931.8" width="21" height="26.1" fill="#828282"/>
<rect x="785.5" y="930" width="5.3" height="8.7" fill="#3a3a3a"/>
<rect x="791" y="927.2" width="4.9" height="7.7" fill="#353535"/>
<rect x="792.4" y="928.6" width="2.2" height="2" fill="#888"/>
<rect x="821.2" y="928" width="5.6" height="9.9" fill="#383838"/>
<rect x="831.7" y="929.9" width="1.4" height="4" fill="#555"/>
<rect x="831.7" y="938" width="1.4" height="3.8" fill="#555"/>
<rect x="821" y="945.8" width="1.8" height="3" fill="#666"/>
<rect x="904.8" y="930" width="4.2" height="3.9" fill="#888"/>
<rect x="904.8" y="938" width="4.2" height="3.8" fill="#888"/>
<rect x="909.9" y="928" width="5.2" height="9.9" fill="#353535"/>
<rect x="903" y="945.8" width="1.8" height="3" fill="#666"/>
<rect x="920.2" y="928" width="24.8" height="29.9" fill="#000"/>
<rect x="924" y="931.8" width="21" height="26.1" fill="#828282"/>
<rect x="940.5" y="930" width="5.3" height="8.7" fill="#3a3a3a"/>
<rect x="946" y="927.2" width="4.9" height="7.7" fill="#353535"/>
<rect x="947.4" y="928.6" width="2.2" height="2" fill="#888"/>
<rect x="976.2" y="928" width="5.6" height="9.9" fill="#383838"/>
<rect x="986.7" y="929.9" width="1.4" height="4" fill="#555"/>
<rect x="986.7" y="938" width="1.4" height="3.8" fill="#555"/>
<rect x="976" y="945.8" width="1.8" height="3" fill="#666"/>
<rect x="641" y="992.2" width="4.9" height="7.7" fill="#353535"/>
<rect x="642.4" y="993.6" width="2.2" height="2" fill="#888"/>
<rect x="671.2" y="993" width="5.6" height="9.9" fill="#383838"/>
<rect x="681.7" y="994.9" width="1.4" height="4" fill="#555"/>
<rect x="681.7" y="1003" width="1.4" height="3.8" fill="#555"/>
<rect x="671" y="1010.8" width="1.8" height="3" fill="#666"/>
<rect x="749.8" y="995" width="4.2" height="3.9" fill="#888"/>
<rect x="749.8" y="1003" width="4.2" height="3.8" fill="#888"/>
<rect x="754.9" y="993" width="5.2" height="9.9" fill="#353535"/>
<rect x="748" y="1010.8" width="1.8" height="3" fill="#666"/>
<rect x="765.2" y="993" width="24.8" height="29.9" fill="#000"/>
<rect x="769" y="996.8" width="21" height="26.1" fill="#828282"/>
<rect x="785.5" y="995" width="5.3" height="8.7" fill="#3a3a3a"/>
<rect x="791" y="992.2" width="4.9" height="7.7" fill="#353535"/>
<rect x="792.4" y="993.6" width="2.2" height="2" fill="#888"/>
<rect x="821.2" y="993" width="5.6" height="9.9" fill="#383838"/>
<rect x="831.7" y="994.9" width="1.4" height="4" fill="#555"/>
<rect x="831.7" y="1003" width="1.4" height="3.8" fill="#555"/>
<rect x="821" y="1010.8" width="1.8" height="3" fill="#666"/>
<rect x="904.8" y="995" width="4.2" height="3.9" fill="#888"/>
<rect x="904.8" y="1003" width="4.2" height="3.8" fill="#888"/>
<rect x="909.9" y="993" width="5.2" height="9.9" fill="#353535"/>
<rect x="903" y="1010.8" width="1.8" height="3" fill="#666"/>
<rect x="920.2" y="993" width="24.8" height="29.9" fill="#000"/>
<rect x="924" y="996.8" width="21" height="26.1" fill="#828282"/>
<rect x="940.5" y="995" width="5.3" height="8.7" fill="#3a3a3a"/>
<rect x="946" y="992.2" width="4.9" height="7.7" fill="#353535"/>
<rect x="947.4" y="993.6" width="2.2" height="2" fill="#888"/>
<rect x="976.2" y="993" width="5.6" height="9.9" fill="#383838"/>
<rect x="986.7" y="994.9" width="1.4" height="4" fill="#555"/>
<rect x="986.7" y="1003" width="1.4" height="3.8" fill="#555"/>
<rect x="976" y="1010.8" width="1.8" height="3" fill="#666"/>
<rect x="641" y="1027.2" width="4.9" height="7.7" fill="#353535"/>
<rect x="642.4" y="1028.6" width="2.2" height="2" fill="#888"/>
<rect x="671.2" y="1028" width="5.6" height="9.9" fill="#383838"/>
<rect x="681.7" y="1029.9" width="1.4" height="4" fill="#555"/>
<rect x="681.7" y="1038" width="1.4" height="3.8" fill="#555"/>
<rect x="671" y="1045.8" width="1.8" height="3" fill="#666"/>
<rect x="749.8" y="1030" width="4.2" height="3.9" fill="#888"/>
<rect x="749.8" y="1038" width="4.2" height="3.8" fill="#888"/>
<rect x="754.9" y="1028" width="5.2" height="9.9" fill="#353535"/>
<rect x="748" y="1045.8" width="1.8" height="3" fill="#666"/>
<rect x="765.2" y="1028" width="24.8" height="29.9" fill="#000"/>
<rect x="769" y="1031.8" width="21" height="26.1" fill="#828282"/>
<rect x="785.5" y="1030" width="5.3" height="8.7" fill="#3a3a3a"/>
<rect x="791" y="1027.2" width="4.9" height="7.7" fill="#353535"/>
<rect x="792.4" y="1028.6" width="2.2" height="2" fill="#888"/>
<rect x="821.2" y="1028" width="5.6" height="9.9" fill="#383838"/>
<rect x="831.7" y="1029.9" width="1.4" height="4" fill="#555"/>
<rect x="831.7" y="1038" width="1.4" height="3.8" fill="#555"/>
<rect x="821" y="1045.8" width="1.8" height="3" fill="#666"/>
<rect x="904.8" y="1030" width="4.2" height="3.9" fill="#888"/>
<rect x="904.8" y="1038" width="4.2" height="3.8" fill="#888"/>
<rect x="909.9" y="1028" width="5.2" height="9.9" fill="#353535"/>
<rect x="903" y="1045.8" width="1.8" height="3" fill="#666"/>
<rect x="920.2" y="1028" width="24.8" height="29.9" fill="#000"/>
<rect x="924" y="1031.8" width="21" height="26.1" fill="#828282"/>
<rect x="940.5" y="1030" width="5.3" height="8.7" fill="#3a3a3a"/>
<rect x="946" y="1027.2" width="4.9" height="7.7" fill="#353535"/>
<rect x="947.4" y="1028.6" width="2.2" height="2" fill="#888"/>
<rect x="976.2" y="1028" width="5.6" height="9.9" fill="#383838"/>
<rect x="986.7" y="1029.9" width="1.4" height="4" fill="#555"/>
<rect x="986.7" y="1038" width="1.4" height="3.8" fill="#555"/>
<rect x="976" y="1045.8" width="1.8" height="3" fill="#666"/>
<rect x="641" y="1062.2" width="4.9" height="7.7" fill="#353535"/>
<rect x="642.4" y="1063.6" width="2.2" height="2" fill="#888"/>
<rect x="671.2" y="1063" width="5.6" height="9.9" fill="#383838"/>
<rect x="681.7" y="1064.9" width="1.4" height="4" fill="#555"/>
<rect x="681.7" y="1073" width="1.4" height="3.8" fill="#555"/>
<rect x="671" y="1080.8" width="1.8" height="3" fill="#666"/>
<rect x="749.8" y="1065" width="4.2" height="3.9" fill="#888"/>
<rect x="749.8" y="1073" width="4.2" height="3.8" fill="#888"/>
<rect x="754.9" y="1063" width="5.2" height="9.9" fill="#353535"/>
<rect x="748" y="1080.8" width="1.8" height="3" fill="#666"/>
<rect x="765.2" y="1063" width="24.8" height="29.9" fill="#000"/>
<rect x="769" y="1066.8" width="21" height="26.1" fill="#828282"/>
<rect x="785.5" y="1065" width="5.3" height="8.7" fill="#3a3a3a"/>
<rect x="791" y="1062.2" width="4.9" height="7.7" fill="#353535"/>
<rect x="792.4" y="1063.6" width="2.2" height="2" fill="#888"/>
<rect x="821.2" y="1063" width="5.6" height="9.9" fill="#383838"/>
<rect x="831.7" y="1064.9" width="1.4" height="4" fill="#555"/>
<rect x="831.7" y="1073" width="1.4" height="3.8" fill="#555"/>
<rect x="821" y="1080.8" width="1.8" height="3" fill="#666"/>
<rect x="904.8" y="1065" width="4.2" height="3.9" fill="#888"/>
<rect x="904.8" y="1073" width="4.2" height="3.8" fill="#888"/>
<rect x="909.9" y="1063" width="5.2" height="9.9" fill="#353535"/>
<rect x="903" y="1080.8" width="1.8" height="3" fill="#666"/>
<rect x="920.2" y="1063" width="24.8" height="29.9" fill="#000"/>
<rect x="924" y="1066.8" width="21" height="26.1" fill="#828282"/>
<rect x="940.5" y="1065" width="5.3" height="8.7" fill="#3a3a3a"/>
<rect x="946" y="1062.2" width="4.9" height="7.7" fill="#353535"/>
<rect x="947.4" y="1063.6" width="2.2" height="2" fill="#888"/>
<rect x="976.2" y="1063" width="5.6" height="9.9" fill="#383838"/>
<rect x="986.7" y="1064.9" width="1.4" height="4" fill="#555"/>
<rect x="986.7" y="1073" width="1.4" height="3.8" fill="#555"/>
<rect x="976" y="1080.8" width="1.8" height="3" fill="#666"/>
<rect x="331" y="1157.2" width="4.9" height="7.7" fill="#353535"/>
<rect x="332.4" y="1158.6" width="2.2" height="2" fill="#888"/>
<rect x="361.2" y="1158" width="5.6" height="9.9" fill="#383838"/>
<rect x="371.7" y="1159.9" width="1.4" height="4" fill="#555"/>
<rect x="371.7" y="1168" width="1.4" height="3.8" fill="#555"/>
<rect x="361" y="1175.8" width="1.8" height="3" fill="#666"/>
<rect x="444.8" y="1160" width="4.2" height="3.9" fill="#888"/>
<rect x="444.8" y="1168" width="4.2" height="3.8" fill="#888"/>
<rect x="449.9" y="1158" width="5.2" height="9.9" fill="#353535"/>
<rect x="443" y="1175.8" width="1.8" height="3" fill="#666"/>
<rect x="460.2" y="1158" width="24.8" height="29.9" fill="#000"/>
<rect x="464" y="1161.8" width="21" height="26.1" fill="#828282"/>
<rect x="480.5" y="1160" width="5.3" height="8.7" fill="#3a3a3a"/>
<rect x="486" y="1157.2" width="4.9" height="7.7" fill="#353535"/>
<rect x="487.4" y="1158.6" width="2.2" height="2" fill="#888"/>
<rect x="516.2" y="1158" width="5.6" height="9.9" fill="#383838"/>
<rect x="526.7" y="1159.9" width="1.4" height="4" fill="#555"/>
<rect x="526.7" y="1168" width="1.4" height="3.8" fill="#555"/>
<rect x="516" y="1175.8" width="1.8" height="3" fill="#666"/>
<rect x="599.8" y="1160" width="4.2" height="3.9" fill="#888"/>
<rect x="599.8" y="1168" width="4.2" height="3.8" fill="#888"/>
<rect x="604.9" y="1158" width="5.2" height="9.9" fill="#353535"/>
<rect x="598" y="1175.8" width="1.8" height="3" fill="#666"/>
<rect x="615.2" y="1158" width="24.8" height="29.9" fill="#000"/>
<rect x="619" y="1161.8" width="21" height="26.1" fill="#828282"/>
<rect x="635.5" y="1160" width="5.3" height="8.7" fill="#3a3a3a"/>
<rect x="641" y="1157.2" width="4.9" height="7.7" fill="#353535"/>
<rect x="642.4" y="1158.6" width="2.2" height="2" fill="#888"/>
<rect x="671.2" y="1158" width="5.6" height="9.9" fill="#383838"/>
<rect x="681.7" y="1159.9" width="1.4" height="4" fill="#555"/>
<rect x="681.7" y="1168" width="1.4" height="3.8" fill="#555"/>
<rect x="671" y="1175.8" width="1.8" height="3" fill="#666"/>
<rect x="749.8" y="1160" width="4.2" height="3.9" fill="#888"/>
<rect x="749.8" y="1168" width="4.2" height="3.8" fill="#888"/>
<rect x="754.9" y="1158" width="5.2" height="9.9" fill="#353535"/>
<rect x="748" y="1175.8" width="1.8" height="3" fill="#666"/>
<rect x="765.2" y="1158" width="24.8" height="29.9" fill="#000"/>
<rect x="769" y="1161.8" width="21" height="26.1" fill="#828282"/>
<rect x="785.5" y="1160" width="5.3" height="8.7" fill="#3a3a3a"/>
<rect x="791" y="1157.2" width="4.9" height="7.7" fill="#353535"/>
<rect x="792.4" y="1158.6" width="2.2" height="2" fill="#888"/>
<rect x="821.2" y="1158" width="5.6" height="9.9" fill="#383838"/>
<rect x="831.7" y="1159.9" width="1.4" height="4" fill="#555"/>
<rect x="831.7" y="1168" width="1.4" height="3.8" fill="#555"/>
<rect x="821" y="1175.8" width="1.8" height="3" fill="#666"/>
<rect x="904.8" y="1160" width="4.2" height="3.9" fill="#888"/>
<rect x="904.8" y="1168" width="4.2" height="3.8" fill="#888"/>
<rect x="909.9" y="1158" width="5.2" height="9.9" fill="#353535"/>
<rect x="903" y="1175.8" width="1.8" height="3" fill="#666"/>
<rect x="920.2" y="1158" width="24.8" height="29.9" fill="#000"/>
<rect x="924" y="1161.8" width="21" height="26.1" fill="#828282"/>
<rect x="940.5" y="1160" width="5.3" height="8.7" fill="#3a3a3a"/>
<rect x="946" y="1157.2" width="4.9" height="7.7" fill="#353535"/>
<rect x="947.4" y="1158.6" width="2.2" height="2" fill="#888"/>
<rect x="976.2" y="1158" width="5.6" height="9.9" fill="#383838"/>
<rect x="986.7" y="1159.9" width="1.4" height="4" fill="#555"/>
<rect x="986.7" y="1168" width="1.4" height="3.8" fill="#555"/>
<rect x="976" y="1175.8" width="1.8" height="3" fill="#666"/>
<rect x="331" y="1192.2" width="4.9" height="7.7" fill="#353535"/>
<rect x="332.4" y="1193.6" width="2.2" height="2" fill="#888"/>
<rect x="361.2" y="1193" width="5.6" height="9.9" fill="#383838"/>
<rect x="371.7" y="1194.9" width="1.4" height="4" fill="#555"/>
<rect x="371.7" y="1203" width="1.4" height="3.8" fill="#555"/>
<rect x="361" y="1210.8" width="1.8" height="3" fill="#666"/>
<rect x="444.8" y="1195" width="4.2" height="3.9" fill="#888"/>
<rect x="444.8" y="1203" width="4.2" height="3.8" fill="#888"/>
<rect x="449.9" y="1193" width="5.2" height="9.9" fill="#353535"/>
<rect x="443" y="1210.8" width="1.8" height="3" fill="#666"/>
<rect x="460.2" y="1193" width="24.8" height="29.9" fill="#000"/>
<rect x="464" y="1196.8" width="21" height="26.1" fill="#828282"/>
<rect x="480.5" y="1195" width="5.3" height="8.7" fill="#3a3a3a"/>
<rect x="486" y="1192.2" width="4.9" height="7.7" fill="#353535"/>
<rect x="487.4" y="1193.6" width="2.2" height="2" fill="#888"/>
<rect x="516.2" y="1193" width="5.6" height="9.9" fill="#383838"/>
<rect x="526.7" y="1194.9" width="1.4" height="4" fill="#555"/>
<rect x="526.7" y="1203" width="1.4" height="3.8" fill="#555"/>
<rect x="516" y="1210.8" width="1.8" height="3" fill="#666"/>
<rect x="599.8" y="1195" width="4.2" height="3.9" fill="#888"/>
<rect x="599.8" y="1203" width="4.2" height="3.8" fill="#888"/>
<rect x="604.9" y="1193" width="5.2" height="9.9" fill="#353535"/>
<rect x="598" y="1210.8" width="1.8" height="3" fill="#666"/>
<rect x="615.2" y="1193" width="24.8" height="29.9" fill="#000"/>
<rect x="619" y="1196.8" width="21" height="26.1" fill="#828282"/>
<rect x="635.5" y="1195" width="5.3" height="8.7" fill="#3a3a3a"/>
<rect x="641" y="1192.2" width="4.9" height="7.7" fill="#353535"/>
<rect x="642.4" y="1193.6" width="2.2" height="2" fill="#888"/>
<rect x="671.2" y="1193" width="5.6" height="9.9" fill="#383838"/>
<rect x="681.7" y="1194.9" width="1.4" height="4" fill="#555"/>
<rect x="681.7" y="1203" width="1.4" height="3.8" fill="#555"/>
<rect x="671" y="1210.8" width="1.8" height="3" fill="#666"/>
<rect x="749.8" y="1195" width="4.2" height="3.9" fill="#888"/>
<rect x="749.8" y="1203" width="4.2" height="3.8" fill="#888"/>
<rect x="754.9" y="1193" width="5.2" height="9.9" fill="#353535"/>
<rect x="748" y="1210.8" width="1.8" height="3" fill="#666"/>
<rect x="765.2" y="1193" width="24.8" height="29.9" fill="#000"/>
<rect x="769" y="1196.8" width="21" height="26.1" fill="#828282"/>
<rect x="785.5" y="1195" width="5.3" height="8.7" fill="#3a3a3a"/>
<rect x="791" y="1192.2" width="4.9" height="7.7" fill="#353535"/>
<rect x="792.4" y="1193.6" width="2.2" height="2" fill="#888"/>
<rect x="821.2" y="1193" width="5.6" height="9.9" fill="#383838"/>
<rect x="831.7" y="1194.9" width="1.4" height="4" fill="#555"/>
<rect x="831.7" y="1203" width="1.4" height="3.8" fill="#555"/>
<rect x="821" y="1210.8" width="1.8" height="3" fill="#666"/>
<rect x="904.8" y="1195" width="4.2" height="3.9" fill="#888"/>
<rect x="904.8" y="1203" width="4.2" height="3.8" fill="#888"/>
<rect x="909.9" y="1193" width="5.2" height="9.9" fill="#353535"/>
<rect x="903" y="1210.8" width="1.8" height="3" fill="#666"/>
<rect x="920.2" y="1193" width="24.8" height="29.9" fill="#000"/>
<rect x="924" y="1196.8" width="21" height="26.1" fill="#828282"/>
<rect x="940.5" y="1195" width="5.3" height="8.7" fill="#3a3a3a"/>
<rect x="946" y="1192.2" width="4.9" height="7.7" fill="#353535"/>
<rect x="947.4" y="1193.6" width="2.2" height="2" fill="#888"/>
<rect x="976.2" y="1193" width="5.6" height="9.9" fill="#383838"/>
<rect x="986.7" y="1194.9" width="1.4" height="4" fill="#555"/>
<rect x="986.7" y="1203" width="1.4" height="3.8" fill="#555"/>
<rect x="976" y="1210.8" width="1.8" height="3" fill="#666"/>
<rect x="331" y="1227.2" width="4.9" height="7.7" fill="#353535"/>
<rect x="332.4" y="1228.6" width="2.2" height="2" fill="#888"/>
<rect x="361.2" y="1228" width="5.6" height="9.9" fill="#383838"/>
<rect x="371.7" y="1229.9" width="1.4" height="4" fill="#555"/>
<rect x="371.7" y="1238" width="1.4" height="3.8" fill="#555"/>
<rect x="361" y="1245.8" width="1.8" height="3" fill="#666"/>
<rect x="444.8" y="1230" width="4.2" height="3.9" fill="#888"/>
<rect x="444.8" y="1238" width="4.2" height="3.8" fill="#888"/>
<rect x="449.9" y="1228" width="5.2" height="9.9" fill="#353535"/>
<rect x="443" y="1245.8" width="1.8" height="3" fill="#666"/>
<rect x="460.2" y="1228" width="24.8" height="29.9" fill="#000"/>
<rect x="464" y="1231.8" width="21" height="26.1" fill="#828282"/>
<rect x="480.5" y="1230" width="5.3" height="8.7" fill="#3a3a3a"/>
<rect x="486" y="1227.2" width="4.9" height="7.7" fill="#353535"/>
<rect x="487.4" y="1228.6" width="2.2" height="2" fill="#888"/>
<rect x="516.2" y="1228" width="5.6" height="9.9" fill="#383838"/>
<rect x="526.7" y="1229.9" width="1.4" height="4" fill="#555"/>
<rect x="526.7" y="1238" width="1.4" height="3.8" fill="#555"/>
<rect x="516" y="1245.8" width="1.8" height="3" fill="#666"/>
<rect x="599.8" y="1230" width="4.2" height="3.9" fill="#888"/>
<rect x="599.8" y="1238" width="4.2" height="3.8" fill="#888"/>
<rect x="604.9" y="1228" width="5.2" height="9.9" fill="#353535"/>
<rect x="598" y="1245.8" width="1.8" height="3" fill="#666"/>
<rect x="615.2" y="1228" width="24.8" height="29.9" fill="#000"/>
<rect x="619" y="1231.8" width="21" height="26.1" fill="#828282"/>
<rect x="635.5" y="1230" width="5.3" height="8.7" fill="#3a3a3a"/>
<rect x="641" y="1227.2" width="4.9" height="7.7" fill="#353535"/>
<rect x="642.4" y="1228.6" width="2.2" height="2" fill="#888"/>
<rect x="671.2" y="1228" width="5.6" height="9.9" fill="#383838"/>
<rect x="681.7" y="1229.9" width="1.4" height="4" fill="#555"/>
<rect x="681.7" y="1238" width="1.4" height="3.8" fill="#555"/>
<rect x="671" y="1245.8" width="1.8" height="3" fill="#666"/>
<rect x="749.8" y="1230" width="4.2" height="3.9" fill="#888"/>
<rect x="749.8" y="1238" width="4.2" height="3.8" fill="#888"/>
<rect x="754.9" y="1228" width="5.2" height="9.9" fill="#353535"/>
<rect x="748" y="1245.8" width="1.8" height="3" fill="#666"/>
<rect x="765.2" y="1228" width="24.8" height="29.9" fill="#000"/>
<rect x="769" y="1231.8" width="21" height="26.1" fill="#828282"/>
<rect x="785.5" y="1230" width="5.3" height="8.7" fill="#3a3a3a"/>
<rect x="791" y="1227.2" width="4.9" height="7.7" fill="#353535"/>
<rect x="792.4" y="1228.6" width="2.2" height="2" fill="#888"/>
<rect x="821.2" y="1228" width="5.6" height="9.9" fill="#383838"/>
<rect x="831.7" y="1229.9" width="1.4" height="4" fill="#555"/>
<rect x="831.7" y="1238" width="1.4" height="3.8" fill="#555"/>
<rect x="821" y="1245.8" width="1.8" height="3" fill="#666"/>
<rect x="904.8" y="1230" width="4.2" height="3.9" fill="#888"/>
<rect x="904.8" y="1238" width="4.2" height="3.8" fill="#888"/>
<rect x="909.9" y="1228" width="5.2" height="9.9" fill="#353535"/>
<rect x="903" y="1245.8" width="1.8" height="3" fill="#666"/>
<rect x="920.2" y="1228" width="24.8" height="29.9" fill="#000"/>
<rect x="924" y="1231.8" width="21" height="26.1" fill="#828282"/>
<rect x="940.5" y="1230" width="5.3" height="8.7" fill="#3a3a3a"/>
<rect x="946" y="1227.2" width="4.9" height="7.7" fill="#353535"/>
<rect x="947.4" y="1228.6" width="2.2" height="2" fill="#888"/>
<rect x="976.2" y="1228" width="5.6" height="9.9" fill="#383838"/>
<rect x="986.7" y="1229.9" width="1.4" height="4" fill="#555"/>
<rect x="986.7" y="1238" width="1.4" height="3.8" fill="#555"/>
<rect x="976" y="1245.8" width="1.8" height="3" fill="#666"/>
<rect x="331" y="1262.2" width="4.9" height="7.7" fill="#353535"/>
<rect x="332.4" y="1263.6" width="2.2" height="2" fill="#888"/>
<rect x="361.2" y="1263" width="5.6" height="9.9" fill="#383838"/>
<rect x="371.7" y="1264.9" width="1.4" height="4" fill="#555"/>
<rect x="371.7" y="1273" width="1.4" height="3.8" fill="#555"/>
<rect x="361" y="1280.8" width="1.8" height="3" fill="#666"/>
<rect x="444.8" y="1265" width="4.2" height="3.9" fill="#888"/>
<rect x="444.8" y="1273" width="4.2" height="3.8" fill="#888"/>
<rect x="449.9" y="1263" width="5.2" height="9.9" fill="#353535"/>
<rect x="443" y="1280.8" width="1.8" height="3" fill="#666"/>
<rect x="460.2" y="1263" width="24.8" height="29.9" fill="#000"/>
<rect x="464" y="1266.8" width="21" height="26.1" fill="#828282"/>
<rect x="480.5" y="1265" width="5.3" height="8.7" fill="#3a3a3a"/>
<rect x="486" y="1262.2" width="4.9" height="7.7" fill="#353535"/>
<rect x="487.4" y="1263.6" width="2.2" height="2" fill="#888"/>
<rect x="516.2" y="1263" width="5.6" height="9.9" fill="#383838"/>
<rect x="526.7" y="1264.9" width="1.4" height="4" fill="#555"/>
<rect x="526.7" y="1273" width="1.4" height="3.8" fill="#555"/>
<rect x="516" y="1280.8" width="1.8" height="3" fill="#666"/>
<rect x="599.8" y="1265" width="4.2" height="3.9" fill="#888"/>
<rect x="599.8" y="1273" width="4.2" height="3.8" fill="#888"/>
<rect x="604.9" y="1263" width="5.2" height="9.9" fill="#353535"/>
<rect x="598" y="1280.8" width="1.8" height="3" fill="#666"/>
<rect x="615.2" y="1263" width="24.8" height="29.9" fill="#000"/>
<rect x="619" y="1266.8" width="21" height="26.1" fill="#828282"/>
<rect x="635.5" y="1265" width="5.3" height="8.7" fill="#3a3a3a"/>
<rect x="641" y="1262.2" width="4.9" height="7.7" fill="#353535"/>
<rect x="642.4" y="1263.6" width="2.2" height="2" fill="#888"/>
<rect x="671.2" y="1263" width="5.6" height="9.9" fill="#383838"/>
<rect x="681.7" y="1264.9" width="1.4" height="4" fill="#555"/>
<rect x="681.7" y="1273" width="1.4" height="3.8" fill="#555"/>
<rect x="671" y="1280.8" width="1.8" height="3" fill="#666"/>
<rect x="749.8" y="1265" width="4.2" height="3.9" fill="#888"/>
<rect x="749.8" y="1273" width="4.2" height="3.8" fill="#888"/>
<rect x="754.9" y="1263" width="5.2" height="9.9" fill="#353535"/>
<rect x="748" y="1280.8" width="1.8" height="3" fill="#666"/>
<rect x="765.2" y="1263" width="24.8" height="29.9" fill="#000"/>
<rect x="769" y="1266.8" width="21" height="26.1" fill="#828282"/>
<rect x="785.5" y="1265" width="5.3" height="8.7" fill="#3a3a3a"/>
<rect x="791" y="1262.2" width="4.9" height="7.7" fill="#353535"/>
<rect x="792.4" y="1263.6" width="2.2" height="2" fill="#888"/>
<rect x="821.2" y="1263" width="5.6" height="9.9" fill="#383838"/>
<rect x="831.7" y="1264.9" width="1.4" height="4" fill="#555"/>
<rect x="831.7" y="1273" width="1.4" height="3.8" fill="#555"/>
<rect x="821" y="1280.8" width="1.8" height="3" fill="#666"/>
<rect x="904.8" y="1265" width="4.2" height="3.9" fill="#888"/>
<rect x="904.8" y="1273" width="4.2" height="3.8" fill="#888"/>
<rect x="909.9" y="1263" width="5.2" height="9.9" fill="#353535"/>
<rect x="903" y="1280.8" width="1.8" height="3" fill="#666"/>
<rect x="920.2" y="1263" width="24.8" height="29.9" fill="#000"/>
<rect x="924" y="1266.8" width="21" height="26.1" fill="#828282"/>
<rect x="940.5" y="1265" width="5.3" height="8.7" fill="#3a3a3a"/>
<rect x="946" y="1262.2" width="4.9" height="7.7" fill="#353535"/>
<rect x="947.4" y="1263.6" width="2.2" height="2" fill="#888"/>
<rect x="976.2" y="1263" width="5.6" height="9.9" fill="#383838"/>
<rect x="986.7" y="1264.9" width="1.4" height="4" fill="#555"/>
<rect x="986.7" y="1273" width="1.4" height="3.8" fill="#555"/>
<rect x="976" y="1280.8" width="1.8" height="3" fill="#666"/>
<rect x="331" y="1297.2" width="4.9" height="7.7" fill="#353535"/>
<rect x="332.4" y="1298.6" width="2.2" height="2" fill="#888"/>
<rect x="361.2" y="1298" width="5.6" height="9.9" fill="#383838"/>
<rect x="371.7" y="1299.9" width="1.4" height="4" fill="#555"/>
<rect x="371.7" y="1308" width="1.4" height="3.8" fill="#555"/>
<rect x="361" y="1315.8" width="1.8" height="3" fill="#666"/>
<rect x="444.8" y="1300" width="4.2" height="3.9" fill="#888"/>
<rect x="444.8" y="1308" width="4.2" height="3.8" fill="#888"/>
<rect x="449.9" y="1298" width="5.2" height="9.9" fill="#353535"/>
<rect x="443" y="1315.8" width="1.8" height="3" fill="#666"/>
<rect x="460.2" y="1298" width="24.8" height="29.9" fill="#000"/>
<rect x="464" y="1301.8" width="21" height="26.1" fill="#828282"/>
<rect x="480.5" y="1300" width="5.3" height="8.7" fill="#3a3a3a"/>
<rect x="486" y="1297.2" width="4.9" height="7.7" fill="#353535"/>
<rect x="487.4" y="1298.6" width="2.2" height="2" fill="#888"/>
<rect x="516.2" y="1298" width="5.6" height="9.9" fill="#383838"/>
<rect x="526.7" y="1299.9" width="1.4" height="4" fill="#555"/>
<rect x="526.7" y="1308" width="1.4" height="3.8" fill="#555"/>
<rect x="516" y="1315.8" width="1.8" height="3" fill="#666"/>
<rect x="599.8" y="1300" width="4.2" height="3.9" fill="#888"/>
<rect x="599.8" y="1308" width="4.2" height="3.8" fill="#888"/>
<rect x="604.9" y="1298" width="5.2" height="9.9" fill="#353535"/>
<rect x="598" y="1315.8" width="1.8" height="3" fill="#666"/>
<rect x="615.2" y="1298" width="24.8" height="29.9" fill="#000"/>
<rect x="619" y="1301.8" width="21" height="26.1" fill="#828282"/>
<rect x="635.5" y="1300" width="5.3" height="8.7" fill="#3a3a3a"/>
<rect x="641" y="1297.2" width="4.9" height="7.7" fill="#353535"/>
<rect x="642.4" y="1298.6" width="2.2" height="2" fill="#888"/>
<rect x="671.2" y="1298" width="5.6" height="9.9" fill="#383838"/>
<rect x="681.7" y="1299.9" width="1.4" height="4" fill="#555"/>
<rect x="681.7" y="1308" width="1.4" height="3.8" fill="#555"/>
<rect x="671" y="1315.8" width="1.8" height="3" fill="#666"/>
<rect x="749.8" y="1300" width="4.2" height="3.9" fill="#888"/>
<rect x="749.8" y="1308" width="4.2" height="3.8" fill="#888"/>
<rect x="754.9" y="1298" width="5.2" height="9.9" fill="#353535"/>
<rect x="748" y="1315.8" width="1.8" height="3" fill="#666"/>
<rect x="765.2" y="1298" width="24.8" height="29.9" fill="#000"/>
<rect x="769" y="1301.8" width="21" height="26.1" fill="#828282"/>
<rect x="785.5" y="1300" width="5.3" height="8.7" fill="#3a3a3a"/>
<rect x="791" y="1297.2" width="4.9" height="7.7" fill="#353535"/>
<rect x="792.4" y="1298.6" width="2.2" height="2" fill="#888"/>
<rect x="821.2" y="1298" width="5.6" height="9.9" fill="#383838"/>
<rect x="831.7" y="1299.9" width="1.4" height="4" fill="#555"/>
<rect x="831.7" y="1308" width="1.4" height="3.8" fill="#555"/>
<rect x="821" y="1315.8" width="1.8" height="3" fill="#666"/>
<rect x="904.8" y="1300" width="4.2" height="3.9" fill="#888"/>
<rect x="904.8" y="1308" width="4.2" height="3.8" fill="#888"/>
<rect x="909.9" y="1298" width="5.2" height="9.9" fill="#353535"/>
<rect x="903" y="1315.8" width="1.8" height="3" fill="#666"/>
<rect x="920.2" y="1298" width="24.8" height="29.9" fill="#000"/>
<rect x="924" y="1301.8" width="21" height="26.1" fill="#828282"/>
<rect x="940.5" y="1300" width="5.3" height="8.7" fill="#3a3a3a"/>
<rect x="946" y="1297.2" width="4.9" height="7.7" fill="#353535"/>
<rect x="947.4" y="1298.6" width="2.2" height="2" fill="#888"/>
<rect x="976.2" y="1298" width="5.6" height="9.9" fill="#383838"/>
<rect x="986.7" y="1299.9" width="1.4" height="4" fill="#555"/>
<rect x="986.7" y="1308" width="1.4" height="3.8" fill="#555"/>
<rect x="976" y="1315.8" width="1.8" height="3" fill="#666"/>
<rect x="331" y="1332.2" width="4.9" height="7.7" fill="#353535"/>
<rect x="332.4" y="1333.6" width="2.2" height="2" fill="#888"/>
<rect x="361.2" y="1333" width="5.6" height="9.9" fill="#383838"/>
<rect x="371.7" y="1334.9" width="1.4" height="4" fill="#555"/>
<rect x="371.7" y="1343" width="1.4" height="3.8" fill="#555"/>
<rect x="361" y="1350.8" width="1.8" height="3" fill="#666"/>
<rect x="444.8" y="1335" width="4.2" height="3.9" fill="#888"/>
<rect x="444.8" y="1343" width="4.2" height="3.8" fill="#888"/>
<rect x="449.9" y="1333" width="5.2" height="9.9" fill="#353535"/>
<rect x="443" y="1350.8" width="1.8" height="3" fill="#666"/>
<rect x="460.2" y="1333" width="24.8" height="29.9" fill="#000"/>
<rect x="464" y="1336.8" width="21" height="26.1" fill="#828282"/>
<rect x="480.5" y="1335" width="5.3" height="8.7" fill="#3a3a3a"/>
<rect x="486" y="1332.2" width="4.9" height="7.7" fill="#353535"/>
<rect x="487.4" y="1333.6" width="2.2" height="2" fill="#888"/>
<rect x="516.2" y="1333" width="5.6" height="9.9" fill="#383838"/>
<rect x="526.7" y="1334.9" width="1.4" height="4" fill="#555"/>
<rect x="526.7" y="1343" width="1.4" height="3.8" fill="#555"/>
<rect x="516" y="1350.8" width="1.8" height="3" fill="#666"/>
<rect x="599.8" y="1335" width="4.2" height="3.9" fill="#888"/>
<rect x="599.8" y="1343" width="4.2" height="3.8" fill="#888"/>
<rect x="604.9" y="1333" width="5.2" height="9.9" fill="#353535"/>
<rect x="598" y="1350.8" width="1.8" height="3" fill="#666"/>
<rect x="615.2" y="1333" width="24.8" height="29.9" fill="#000"/>
<rect x="619" y="1336.8" width="21" height="26.1" fill="#828282"/>
<rect x="635.5" y="1335" width="5.3" height="8.7" fill="#3a3a3a"/>
<rect x="641" y="1332.2" width="4.9" height="7.7" fill="#353535"/>
<rect x="642.4" y="1333.6" width="2.2" height="2" fill="#888"/>
<rect x="671.2" y="1333" width="5.6" height="9.9" fill="#383838"/>
<rect x="681.7" y="1334.9" width="1.4" height="4" fill="#555"/>
<rect x="681.7" y="1343" width="1.4" height="3.8" fill="#555"/>
<rect x="671" y="1350.8" width="1.8" height="3" fill="#666"/>
<rect x="749.8" y="1335" width="4.2" height="3.9" fill="#888"/>
<rect x="749.8" y="1343" width="4.2" height="3.8" fill="#888"/>
<rect x="754.9" y="1333" width="5.2" height="9.9" fill="#353535"/>
<rect x="748" y="1350.8" width="1.8" height="3" fill="#666"/>
<rect x="765.2" y="1333" width="24.8" height="29.9" fill="#000"/>
<rect x="769" y="1336.8" width="21" height="26.1" fill="#828282"/>
<rect x="785.5" y="1335" width="5.3" height="8.7" fill="#3a3a3a"/>
<rect x="791" y="1332.2" width="4.9" height="7.7" fill="#353535"/>
<rect x="792.4" y="1333.6" width="2.2" height="2" fill="#888"/>
<rect x="821.2" y="1333" width="5.6" height="9.9" fill="#383838"/>
<rect x="831.7" y="1334.9" width="1.4" height="4" fill="#555"/>
<rect x="831.7" y="1343" width="1.4" height="3.8" fill="#555"/>
<rect x="821" y="1350.8" width="1.8" height="3" fill="#666"/>
<rect x="904.8" y="1335" width="4.2" height="3.9" fill="#888"/>
<rect x="904.8" y="1343" width="4.2" height="3.8" fill="#888"/>
<rect x="909.9" y="1333" width="5.2" height="9.9" fill="#353535"/>
<rect x="903" y="1350.8" width="1.8" height="3" fill="#666"/>
<rect x="920.2" y="1333" width="24.8" height="29.9" fill="#000"/>
<rect x="924" y="1336.8" width="21" height="26.1" fill="#828282"/>
<rect x="940.5" y="1335" width="5.3" height="8.7" fill="#3a3a3a"/>
<rect x="946" y="1332.2" width="4.9" height="7.7" fill="#353535"/>
<rect x="947.4" y="1333.6" width="2.2" height="2" fill="#888"/>
<rect x="976.2" y="1333" width="5.6" height="9.9" fill="#383838"/>
<rect x="986.7" y="1334.9" width="1.4" height="4" fill="#555"/>
<rect x="986.7" y="1343" width="1.4" height="3.8" fill="#555"/>
<rect x="976" y="1350.8" width="1.8" height="3" fill="#666"/>
<rect x="331" y="1367.2" width="4.9" height="7.7" fill="#353535"/>
<rect x="332.4" y="1368.6" width="2.2" height="2" fill="#888"/>
<rect x="361.2" y="1368" width="5.6" height="9.9" fill="#383838"/>
<rect x="371.7" y="1369.9" width="1.4" height="4" fill="#555"/>
<rect x="371.7" y="1378" width="1.4" height="3.8" fill="#555"/>
<rect x="361" y="1385.8" width="1.8" height="3" fill="#666"/>
<rect x="444.8" y="1370" width="4.2" height="3.9" fill="#888"/>
<rect x="444.8" y="1378" width="4.2" height="3.8" fill="#888"/>
<rect x="449.9" y="1368" width="5.2" height="9.9" fill="#353535"/>
<rect x="443" y="1385.8" width="1.8" height="3" fill="#666"/>
<rect x="460.2" y="1368" width="24.8" height="29.9" fill="#000"/>
<rect x="464" y="1371.8" width="21" height="26.1" fill="#828282"/>
<rect x="480.5" y="1370" width="5.3" height="8.7" fill="#3a3a3a"/>
<rect x="486" y="1367.2" width="4.9" height="7.7" fill="#353535"/>
<rect x="487.4" y="1368.6" width="2.2" height="2" fill="#888"/>
<rect x="516.2" y="1368" width="5.6" height="9.9" fill="#383838"/>
<rect x="526.7" y="1369.9" width="1.4" height="4" fill="#555"/>
<rect x="526.7" y="1378" width="1.4" height="3.8" fill="#555"/>
<rect x="516" y="1385.8" width="1.8" height="3" fill="#666"/>
<rect x="599.8" y="1370" width="4.2" height="3.9" fill="#888"/>
<rect x="599.8" y="1378" width="4.2" height="3.8" fill="#888"/>
<rect x="604.9" y="1368" width="5.2" height="9.9" fill="#353535"/>
<rect x="598" y="1385.8" width="1.8" height="3" fill="#666"/>
<rect x="615.2" y="1368" width="24.8" height="29.9" fill="#000"/>
<rect x="619" y="1371.8" width="21" height="26.1" fill="#828282"/>
<rect x="635.5" y="1370" width="5.3" height="8.7" fill="#3a3a3a"/>
<rect x="641" y="1367.2" width="4.9" height="7.7" fill="#353535"/>
<rect x="642.4" y="1368.6" width="2.2" height="2" fill="#888"/>
<rect x="671.2" y="1368" width="5.6" height="9.9" fill="#383838"/>
<rect x="681.7" y="1369.9" width="1.4" height="4" fill="#555"/>
<rect x="681.7" y="1378" width="1.4" height="3.8" fill="#555"/>
<rect x="671" y="1385.8" width="1.8" height="3" fill="#666"/>
<rect x="749.8" y="1370" width="4.2" height="3.9" fill="#888"/>
<rect x="749.8" y="1378" width="4.2" height="3.8" fill="#888"/>
<rect x="754.9" y="1368" width="5.2" height="9.9" fill="#353535"/>
<rect x="748" y="1385.8" width="1.8" height="3" fill="#666"/>
<rect x="765.2" y="1368" width="24.8" height="29.9" fill="#000"/>
<rect x="769" y="1371.8" width="21" height="26.1" fill="#828282"/>
<rect x="785.5" y="1370" width="5.3" height="8.7" fill="#3a3a3a"/>
<rect x="791" y="1367.2" width="4.9" height="7.7" fill="#353535"/>
<rect x="792.4" y="1368.6" width="2.2" height="2" fill="#888"/>
<rect x="821.2" y="1368" width="5.6" height="9.9" fill="#383838"/>
<rect x="831.7" y="1369.9" width="1.4" height="4" fill="#555"/>
<rect x="831.7" y="1378" width="1.4" height="3.8" fill="#555"/>
<rect x="821" y="1385.8" width="1.8" height="3" fill="#666"/>
<rect x="904.8" y="1370" width="4.2" height="3.9" fill="#888"/>
<rect x="904.8" y="1378" width="4.2" height="3.8" fill="#888"/>
<rect x="909.9" y="1368" width="5.2" height="9.9" fill="#353535"/>
<rect x="903" y="1385.8" width="1.8" height="3" fill="#666"/>
<rect x="920.2" y="1368" width="24.8" height="29.9" fill="#000"/>
<rect x="924" y="1371.8" width="21" height="26.1" fill="#828282"/>
<rect x="940.5" y="1370" width="5.3" height="8.7" fill="#3a3a3a"/>
<rect x="946" y="1367.2" width="4.9" height="7.7" fill="#353535"/>
<rect x="947.4" y="1368.6" width="2.2" height="2" fill="#888"/>
<rect x="976.2" y="1368" width="5.6" height="9.9" fill="#383838"/>
<rect x="986.7" y="1369.9" width="1.4" height="4" fill="#555"/>
<rect x="986.7" y="1378" width="1.4" height="3.8" fill="#555"/>
<rect x="976" y="1385.8" width="1.8" height="3" fill="#666"/>
<rect x="1194" y="789.6" width="5.5" height="3.8" fill="#909090"/>
<rect x="1194.5" y="798" width="4.5" height="3.6" fill="#8a8a8a"/>
<rect x="1200" y="788" width="4.4" height="10" fill="#383838"/>
<rect x="1193" y="805.6" width="1" height="3" fill="#777"/>
<rect x="1210.2" y="788" width="24.8" height="29.9" fill="#000"/>
<rect x="1214" y="791.8" width="21" height="26.1" fill="#828282"/>
<rect x="1230.5" y="790" width="5.3" height="8.7" fill="#3a3a3a"/>
<rect x="1236" y="787.2" width="4.9" height="7.7" fill="#353535"/>
<rect x="1237.4" y="788.6" width="2.2" height="2" fill="#888"/>
<rect x="1266.2" y="788" width="5.6" height="9.9" fill="#383838"/>
<rect x="1276.7" y="789.9" width="1.4" height="4" fill="#555"/>
<rect x="1276.7" y="798" width="1.4" height="3.8" fill="#555"/>
<rect x="1266" y="805.8" width="1.8" height="3" fill="#666"/>
<rect x="1349" y="789.6" width="5.5" height="3.8" fill="#909090"/>
<rect x="1349.5" y="798" width="4.5" height="3.6" fill="#8a8a8a"/>
<rect x="1355" y="788" width="4.4" height="10" fill="#383838"/>
<rect x="1348" y="805.6" width="1" height="3" fill="#777"/>
<rect x="1365.2" y="788" width="24.8" height="29.9" fill="#000"/>
<rect x="1369" y="791.8" width="21" height="26.1" fill="#828282"/>
<rect x="1385.5" y="790" width="5.3" height="8.7" fill="#3a3a3a"/>
<rect x="1391" y="787.2" width="4.9" height="7.7" fill="#353535"/>
<rect x="1392.4" y="788.6" width="2.2" height="2" fill="#888"/>
<rect x="1421.2" y="788" width="5.6" height="9.9" fill="#383838"/>
<rect x="1431.7" y="789.9" width="1.4" height="4" fill="#555"/>
<rect x="1431.7" y="798" width="1.4" height="3.8" fill="#555"/>
<rect x="1421" y="805.8" width="1.8" height="3" fill="#666"/>
<rect x="1504" y="789.6" width="5.5" height="3.8" fill="#909090"/>
<rect x="1504.5" y="798" width="4.5" height="3.6" fill="#8a8a8a"/>
<rect x="1510" y="788" width="4.4" height="10" fill="#383838"/>
<rect x="1503" y="805.6" width="1" height="3" fill="#777"/>
<rect x="1520.2" y="788" width="24.8" height="29.9" fill="#000"/>
<rect x="1524" y="791.8" width="21" height="26.1" fill="#828282"/>
<rect x="1540.5" y="790" width="5.3" height="8.7" fill="#3a3a3a"/>
<rect x="1546" y="787.2" width="4.9" height="7.7" fill="#353535"/>
<rect x="1547.4" y="788.6" width="2.2" height="2" fill="#888"/>
<rect x="1576.2" y="788" width="5.6" height="9.9" fill="#383838"/>
<rect x="1586.7" y="789.9" width="1.4" height="4" fill="#555"/>
<rect x="1586.7" y="798" width="1.4" height="3.8" fill="#555"/>
<rect x="1576" y="805.8" width="1.8" height="3" fill="#666"/>
<rect x="1659" y="789.6" width="5.5" height="3.8" fill="#909090"/>
<rect x="1659.5" y="798" width="4.5" height="3.6" fill="#8a8a8a"/>
<rect x="1665" y="788" width="4.4" height="10" fill="#383838"/>
<rect x="1658" y="805.6" width="1" height="3" fill="#777"/>
<rect x="1675.2" y="788" width="24.8" height="29.9" fill="#000"/>
<rect x="1679" y="791.8" width="21" height="26.1" fill="#828282"/>
<rect x="1695.5" y="790" width="5.3" height="8.7" fill="#3a3a3a"/>
<rect x="1701" y="787.2" width="4.9" height="7.7" fill="#353535"/>
<rect x="1702.4" y="788.6" width="2.2" height="2" fill="#888"/>
<rect x="1731.2" y="788" width="5.6" height="9.9" fill="#383838"/>
<rect x="1741.7" y="789.9" width="1.4" height="4" fill="#555"/>
<rect x="1741.7" y="798" width="1.4" height="3.8" fill="#555"/>
<rect x="1731" y="805.8" width="1.8" height="3" fill="#666"/>
<rect x="1814" y="789.6" width="5.5" height="3.8" fill="#909090"/>
<rect x="1814.5" y="798" width="4.5" height="3.6" fill="#8a8a8a"/>
<rect x="1820" y="788" width="4.4" height="10" fill="#383838"/>
<rect x="1813" y="805.6" width="1" height="3" fill="#777"/>
<rect x="1830.2" y="788" width="24.8" height="29.9" fill="#000"/>
<rect x="1834" y="791.8" width="21" height="26.1" fill="#828282"/>
<rect x="1850.5" y="790" width="5.3" height="8.7" fill="#3a3a3a"/>
<rect x="1856" y="787.2" width="4.9" height="7.7" fill="#353535"/>
<rect x="1857.4" y="788.6" width="2.2" height="2" fill="#888"/>
<rect x="1886.2" y="788" width="5.6" height="9.9" fill="#383838"/>
<rect x="1896.7" y="789.9" width="1.4" height="4" fill="#555"/>
<rect x="1896.7" y="798" width="1.4" height="3.8" fill="#555"/>
<rect x="1886" y="805.8" width="1.8" height="3" fill="#666"/>
<rect x="1964" y="789.6" width="5.5" height="3.8" fill="#909090"/>
<rect x="1964.5" y="798" width="4.5" height="3.6" fill="#8a8a8a"/>
<rect x="1970" y="788" width="4.4" height="10" fill="#383838"/>
<rect x="1963" y="805.6" width="1" height="3" fill="#777"/>
<rect x="1980.2" y="788" width="24.8" height="29.9" fill="#000"/>
<rect x="1984" y="791.8" width="21" height="26.1" fill="#828282"/>
<rect x="2000.5" y="790" width="5.3" height="8.7" fill="#3a3a3a"/>
<rect x="2006" y="787.2" width="4.9" height="7.7" fill="#353535"/>
<rect x="2007.4" y="788.6" width="2.2" height="2" fill="#888"/>
<rect x="2036.2" y="788" width="5.6" height="9.9" fill="#383838"/>
<rect x="2046.7" y="789.9" width="1.4" height="4" fill="#555"/>
<rect x="2046.7" y="798" width="1.4" height="3.8" fill="#555"/>
<rect x="2036" y="805.8" width="1.8" height="3" fill="#666"/>
<rect x="1194" y="824.6" width="5.5" height="3.8" fill="#909090"/>
<rect x="1194.5" y="833" width="4.5" height="3.6" fill="#8a8a8a"/>
<rect x="1200" y="823" width="4.4" height="10" fill="#383838"/>
<rect x="1193" y="840.6" width="1" height="3" fill="#777"/>
<rect x="1210.2" y="823" width="24.8" height="29.9" fill="#000"/>
<rect x="1214" y="826.8" width="21" height="26.1" fill="#828282"/>
<rect x="1230.5" y="825" width="5.3" height="8.7" fill="#3a3a3a"/>
<rect x="1236" y="822.2" width="4.9" height="7.7" fill="#353535"/>
<rect x="1237.4" y="823.6" width="2.2" height="2" fill="#888"/>
<rect x="1266.2" y="823" width="5.6" height="9.9" fill="#383838"/>
<rect x="1276.7" y="824.9" width="1.4" height="4" fill="#555"/>
<rect x="1276.7" y="833" width="1.4" height="3.8" fill="#555"/>
<rect x="1266" y="840.8" width="1.8" height="3" fill="#666"/>
<rect x="1349" y="824.6" width="5.5" height="3.8" fill="#909090"/>
<rect x="1349.5" y="833" width="4.5" height="3.6" fill="#8a8a8a"/>
<rect x="1355" y="823" width="4.4" height="10" fill="#383838"/>
<rect x="1348" y="840.6" width="1" height="3" fill="#777"/>
<rect x="1365.2" y="823" width="24.8" height="29.9" fill="#000"/>
<rect x="1369" y="826.8" width="21" height="26.1" fill="#828282"/>
<rect x="1385.5" y="825" width="5.3" height="8.7" fill="#3a3a3a"/>
<rect x="1391" y="822.2" width="4.9" height="7.7" fill="#353535"/>
<rect x="1392.4" y="823.6" width="2.2" height="2" fill="#888"/>
<rect x="1421.2" y="823" width="5.6" height="9.9" fill="#383838"/>
<rect x="1431.7" y="824.9" width="1.4" height="4" fill="#555"/>
<rect x="1431.7" y="833" width="1.4" height="3.8" fill="#555"/>
<rect x="1421" y="840.8" width="1.8" height="3" fill="#666"/>
<rect x="1504" y="824.6" width="5.5" height="3.8" fill="#909090"/>
<rect x="1504.5" y="833" width="4.5" height="3.6" fill="#8a8a8a"/>
<rect x="1510" y="823" width="4.4" height="10" fill="#383838"/>
<rect x="1503" y="840.6" width="1" height="3" fill="#777"/>
<rect x="1520.2" y="823" width="24.8" height="29.9" fill="#000"/>
<rect x="1524" y="826.8" width="21" height="26.1" fill="#828282"/>
<rect x="1540.5" y="825" width="5.3" height="8.7" fill="#3a3a3a"/>
<rect x="1546" y="822.2" width="4.9" height="7.7" fill="#353535"/>
<rect x="1547.4" y="823.6" width="2.2" height="2" fill="#888"/>
<rect x="1576.2" y="823" width="5.6" height="9.9" fill="#383838"/>
<rect x="1586.7" y="824.9" width="1.4" height="4" fill="#555"/>
<rect x="1586.7" y="833" width="1.4" height="3.8" fill="#555"/>
<rect x="1576" y="840.8" width="1.8" height="3" fill="#666"/>
<rect x="1659" y="824.6" width="5.5" height="3.8" fill="#909090"/>
<rect x="1659.5" y="833" width="4.5" height="3.6" fill="#8a8a8a"/>
<rect x="1665" y="823" width="4.4" height="10" fill="#383838"/>
<rect x="1658" y="840.6" width="1" height="3" fill="#777"/>
<rect x="1675.2" y="823" width="24.8" height="29.9" fill="#000"/>
<rect x="1679" y="826.8" width="21" height="26.1" fill="#828282"/>
<rect x="1695.5" y="825" width="5.3" height="8.7" fill="#3a3a3a"/>
<rect x="1701" y="822.2" width="4.9" height="7.7" fill="#353535"/>
<rect x="1702.4" y="823.6" width="2.2" height="2" fill="#888"/>
<rect x="1731.2" y="823" width="5.6" height="9.9" fill="#383838"/>
<rect x="1741.7" y="824.9" width="1.4" height="4" fill="#555"/>
<rect x="1741.7" y="833" width="1.4" height="3.8" fill="#555"/>
<rect x="1731" y="840.8" width="1.8" height="3" fill="#666"/>
<rect x="1814" y="824.6" width="5.5" height="3.8" fill="#909090"/>
<rect x="1814.5" y="833" width="4.5" height="3.6" fill="#8a8a8a"/>
<rect x="1820" y="823" width="4.4" height="10" fill="#383838"/>
<rect x="1813" y="840.6" width="1" height="3" fill="#777"/>
<rect x="1830.2" y="823" width="24.8" height="29.9" fill="#000"/>
<rect x="1834" y="826.8" width="21" height="26.1" fill="#828282"/>
<rect x="1850.5" y="825" width="5.3" height="8.7" fill="#3a3a3a"/>
<rect x="1856" y="822.2" width="4.9" height="7.7" fill="#353535"/>
<rect x="1857.4" y="823.6" width="2.2" height="2" fill="#888"/>
<rect x="1886.2" y="823" width="5.6" height="9.9" fill="#383838"/>
<rect x="1896.7" y="824.9" width="1.4" height="4" fill="#555"/>
<rect x="1896.7" y="833" width="1.4" height="3.8" fill="#555"/>
<rect x="1886" y="840.8" width="1.8" height="3" fill="#666"/>
<rect x="1964" y="824.6" width="5.5" height="3.8" fill="#909090"/>
<rect x="1964.5" y="833" width="4.5" height="3.6" fill="#8a8a8a"/>
<rect x="1970" y="823" width="4.4" height="10" fill="#383838"/>
<rect x="1963" y="840.6" width="1" height="3" fill="#777"/>
<rect x="1980.2" y="823" width="24.8" height="29.9" fill="#000"/>
<rect x="1984" y="826.8" width="21" height="26.1" fill="#828282"/>
<rect x="2000.5" y="825" width="5.3" height="8.7" fill="#3a3a3a"/>
<rect x="2006" y="822.2" width="4.9" height="7.7" fill="#353535"/>
<rect x="2007.4" y="823.6" width="2.2" height="2" fill="#888"/>
<rect x="2036.2" y="823" width="5.6" height="9.9" fill="#383838"/>
<rect x="2046.7" y="824.9" width="1.4" height="4" fill="#555"/>
<rect x="2046.7" y="833" width="1.4" height="3.8" fill="#555"/>
<rect x="2036" y="840.8" width="1.8" height="3" fill="#666"/>
<rect x="1194" y="859.6" width="5.5" height="3.8" fill="#909090"/>
<rect x="1194.5" y="868" width="4.5" height="3.6" fill="#8a8a8a"/>
<rect x="1200" y="858" width="4.4" height="10" fill="#383838"/>
<rect x="1193" y="875.6" width="1" height="3" fill="#777"/>
<rect x="1210.2" y="858" width="24.8" height="29.9" fill="#000"/>
<rect x="1214" y="861.8" width="21" height="26.1" fill="#828282"/>
<rect x="1230.5" y="860" width="5.3" height="8.7" fill="#3a3a3a"/>
<rect x="1236" y="857.2" width="4.9" height="7.7" fill="#353535"/>
<rect x="1237.4" y="858.6" width="2.2" height="2" fill="#888"/>
<rect x="1266.2" y="858" width="5.6" height="9.9" fill="#383838"/>
<rect x="1276.7" y="859.9" width="1.4" height="4" fill="#555"/>
<rect x="1276.7" y="868" width="1.4" height="3.8" fill="#555"/>
<rect x="1266" y="875.8" width="1.8" height="3" fill="#666"/>
<rect x="1349" y="859.6" width="5.5" height="3.8" fill="#909090"/>
<rect x="1349.5" y="868" width="4.5" height="3.6" fill="#8a8a8a"/>
<rect x="1355" y="858" width="4.4" height="10" fill="#383838"/>
<rect x="1348" y="875.6" width="1" height="3" fill="#777"/>
<rect x="1365.2" y="858" width="24.8" height="29.9" fill="#000"/>
<rect x="1369" y="861.8" width="21" height="26.1" fill="#828282"/>
<rect x="1385.5" y="860" width="5.3" height="8.7" fill="#3a3a3a"/>
<rect x="1391" y="857.2" width="4.9" height="7.7" fill="#353535"/>
<rect x="1392.4" y="858.6" width="2.2" height="2" fill="#888"/>
<rect x="1421.2" y="858" width="5.6" height="9.9" fill="#383838"/>
<rect x="1431.7" y="859.9" width="1.4" height="4" fill="#555"/>
<rect x="1431.7" y="868" width="1.4" height="3.8" fill="#555"/>
<rect x="1421" y="875.8" width="1.8" height="3" fill="#666"/>
<rect x="1504" y="859.6" width="5.5" height="3.8" fill="#909090"/>
<rect x="1504.5" y="868" width="4.5" height="3.6" fill="#8a8a8a"/>
<rect x="1510" y="858" width="4.4" height="10" fill="#383838"/>
<rect x="1503" y="875.6" width="1" height="3" fill="#777"/>
<rect x="1520.2" y="858" width="24.8" height="29.9" fill="#000"/>
<rect x="1524" y="861.8" width="21" height="26.1" fill="#828282"/>
<rect x="1540.5" y="860" width="5.3" height="8.7" fill="#3a3a3a"/>
<rect x="1546" y="857.2" width="4.9" height="7.7" fill="#353535"/>
<rect x="1547.4" y="858.6" width="2.2" height="2" fill="#888"/>
<rect x="1576.2" y="858" width="5.6" height="9.9" fill="#383838"/>
<rect x="1586.7" y="859.9" width="1.4" height="4" fill="#555"/>
<rect x="1586.7" y="868" width="1.4" height="3.8" fill="#555"/>
<rect x="1576" y="875.8" width="1.8" height="3" fill="#666"/>
<rect x="1659" y="859.6" width="5.5" height="3.8" fill="#909090"/>
<rect x="1659.5" y="868" width="4.5" height="3.6" fill="#8a8a8a"/>
<rect x="1665" y="858" width="4.4" height="10" fill="#383838"/>
<rect x="1658" y="875.6" width="1" height="3" fill="#777"/>
<rect x="1675.2" y="858" width="24.8" height="29.9" fill="#000"/>
<rect x="1679" y="861.8" width="21" height="26.1" fill="#828282"/>
<rect x="1695.5" y="860" width="5.3" height="8.7" fill="#3a3a3a"/>
<rect x="1701" y="857.2" width="4.9" height="7.7" fill="#353535"/>
<rect x="1702.4" y="858.6" width="2.2" height="2" fill="#888"/>
<rect x="1731.2" y="858" width="5.6" height="9.9" fill="#383838"/>
<rect x="1741.7" y="859.9" width="1.4" height="4" fill="#555"/>
<rect x="1741.7" y="868" width="1.4" height="3.8" fill="#555"/>
<rect x="1731" y="875.8" width="1.8" height="3" fill="#666"/>
<rect x="1814" y="859.6" width="5.5" height="3.8" fill="#909090"/>
<rect x="1814.5" y="868" width="4.5" height="3.6" fill="#8a8a8a"/>
<rect x="1820" y="858" width="4.4" height="10" fill="#383838"/>
<rect x="1813" y="875.6" width="1" height="3" fill="#777"/>
<rect x="1830.2" y="858" width="24.8" height="29.9" fill="#000"/>
<rect x="1834" y="861.8" width="21" height="26.1" fill="#828282"/>
<rect x="1850.5" y="860" width="5.3" height="8.7" fill="#3a3a3a"/>
<rect x="1856" y="857.2" width="4.9" height="7.7" fill="#353535"/>
<rect x="1857.4" y="858.6" width="2.2" height="2" fill="#888"/>
<rect x="1886.2" y="858" width="5.6" height="9.9" fill="#383838"/>
<rect x="1896.7" y="859.9" width="1.4" height="4" fill="#555"/>
<rect x="1896.7" y="868" width="1.4" height="3.8" fill="#555"/>
<rect x="1886" y="875.8" width="1.8" height="3" fill="#666"/>
<rect x="1964" y="859.6" width="5.5" height="3.8" fill="#909090"/>
<rect x="1964.5" y="868" width="4.5" height="3.6" fill="#8a8a8a"/>
<rect x="1970" y="858" width="4.4" height="10" fill="#383838"/>
<rect x="1963" y="875.6" width="1" height="3" fill="#777"/>
<rect x="1980.2" y="858" width="24.8" height="29.9" fill="#000"/>
<rect x="1984" y="861.8" width="21" height="26.1" fill="#828282"/>
<rect x="2000.5" y="860" width="5.3" height="8.7" fill="#3a3a3a"/>
<rect x="2006" y="857.2" width="4.9" height="7.7" fill="#353535"/>
<rect x="2007.4" y="858.6" width="2.2" height="2" fill="#888"/>
<rect x="2036.2" y="858" width="5.6" height="9.9" fill="#383838"/>
<rect x="2046.7" y="859.9" width="1.4" height="4" fill="#555"/>
<rect x="2046.7" y="868" width="1.4" height="3.8" fill="#555"/>
<rect x="2036" y="875.8" width="1.8" height="3" fill="#666"/>
<rect x="1194" y="894.6" width="5.5" height="3.8" fill="#909090"/>
<rect x="1194.5" y="903" width="4.5" height="3.6" fill="#8a8a8a"/>
<rect x="1200" y="893" width="4.4" height="10" fill="#383838"/>
<rect x="1193" y="910.6" width="1" height="3" fill="#777"/>
<rect x="1210.2" y="893" width="24.8" height="29.9" fill="#000"/>
<rect x="1214" y="896.8" width="21" height="26.1" fill="#828282"/>
<rect x="1230.5" y="895" width="5.3" height="8.7" fill="#3a3a3a"/>
<rect x="1236" y="892.2" width="4.9" height="7.7" fill="#353535"/>
<rect x="1237.4" y="893.6" width="2.2" height="2" fill="#888"/>
<rect x="1266.2" y="893" width="5.6" height="9.9" fill="#383838"/>
<rect x="1276.7" y="894.9" width="1.4" height="4" fill="#555"/>
<rect x="1276.7" y="903" width="1.4" height="3.8" fill="#555"/>
<rect x="1266" y="910.8" width="1.8" height="3" fill="#666"/>
<rect x="1349" y="894.6" width="5.5" height="3.8" fill="#909090"/>
<rect x="1349.5" y="903" width="4.5" height="3.6" fill="#8a8a8a"/>
<rect x="1355" y="893" width="4.4" height="10" fill="#383838"/>
<rect x="1348" y="910.6" width="1" height="3" fill="#777"/>
<rect x="1365.2" y="893" width="24.8" height="29.9" fill="#000"/>
<rect x="1369" y="896.8" width="21" height="26.1" fill="#828282"/>
<rect x="1385.5" y="895" width="5.3" height="8.7" fill="#3a3a3a"/>
<rect x="1391" y="892.2" width="4.9" height="7.7" fill="#353535"/>
<rect x="1392.4" y="893.6" width="2.2" height="2" fill="#888"/>
<rect x="1421.2" y="893" width="5.6" height="9.9" fill="#383838"/>
<rect x="1431.7" y="894.9" width="1.4" height="4" fill="#555"/>
<rect x="1431.7" y="903" width="1.4" height="3.8" fill="#555"/>
<rect x="1421" y="910.8" width="1.8" height="3" fill="#666"/>
<rect x="1504" y="894.6" width="5.5" height="3.8" fill="#909090"/>
<rect x="1504.5" y="903" width="4.5" height="3.6" fill="#8a8a8a"/>
<rect x="1510" y="893" width="4.4" height="10" fill="#383838"/>
<rect x="1503" y="910.6" width="1" height="3" fill="#777"/>
<rect x="1520.2" y="893" width="24.8" height="29.9" fill="#000"/>
<rect x="1524" y="896.8" width="21" height="26.1" fill="#828282"/>
<rect x="1540.5" y="895" width="5.3" height="8.7" fill="#3a3a3a"/>
<rect x="1546" y="892.2" width="4.9" height="7.7" fill="#353535"/>
<rect x="1547.4" y="893.6" width="2.2" height="2" fill="#888"/>
<rect x="1576.2" y="893" width="5.6" height="9.9" fill="#383838"/>
<rect x="1586.7" y="894.9" width="1.4" height="4" fill="#555"/>
<rect x="1586.7" y="903" width="1.4" height="3.8" fill="#555"/>
<rect x="1576" y="910.8" width="1.8" height="3" fill="#666"/>
<rect x="1659" y="894.6" width="5.5" height="3.8" fill="#909090"/>
<rect x="1659.5" y="903" width="4.5" height="3.6" fill="#8a8a8a"/>
<rect x="1665" y="893" width="4.4" height="10" fill="#383838"/>
<rect x="1658" y="910.6" width="1" height="3" fill="#777"/>
<rect x="1675.2" y="893" width="24.8" height="29.9" fill="#000"/>
<rect x="1679" y="896.8" width="21" height="26.1" fill="#828282"/>
<rect x="1695.5" y="895" width="5.3" height="8.7" fill="#3a3a3a"/>
<rect x="1701" y="892.2" width="4.9" height="7.7" fill="#353535"/>
<rect x="1702.4" y="893.6" width="2.2" height="2" fill="#888"/>
<rect x="1731.2" y="893" width="5.6" height="9.9" fill="#383838"/>
<rect x="1741.7" y="894.9" width="1.4" height="4" fill="#555"/>
<rect x="1741.7" y="903" width="1.4" height="3.8" fill="#555"/>
<rect x="1731" y="910.8" width="1.8" height="3" fill="#666"/>
<rect x="1814" y="894.6" width="5.5" height="3.8" fill="#909090"/>
<rect x="1814.5" y="903" width="4.5" height="3.6" fill="#8a8a8a"/>
<rect x="1820" y="893" width="4.4" height="10" fill="#383838"/>
<rect x="1813" y="910.6" width="1" height="3" fill="#777"/>
<rect x="1830.2" y="893" width="24.8" height="29.9" fill="#000"/>
<rect x="1834" y="896.8" width="21" height="26.1" fill="#828282"/>
<rect x="1850.5" y="895" width="5.3" height="8.7" fill="#3a3a3a"/>
<rect x="1856" y="892.2" width="4.9" height="7.7" fill="#353535"/>
<rect x="1857.4" y="893.6" width="2.2" height="2" fill="#888"/>
<rect x="1886.2" y="893" width="5.6" height="9.9" fill="#383838"/>
<rect x="1896.7" y="894.9" width="1.4" height="4" fill="#555"/>
<rect x="1896.7" y="903" width="1.4" height="3.8" fill="#555"/>
<rect x="1886" y="910.8" width="1.8" height="3" fill="#666"/>
<rect x="1964" y="894.6" width="5.5" height="3.8" fill="#909090"/>
<rect x="1964.5" y="903" width="4.5" height="3.6" fill="#8a8a8a"/>
<rect x="1970" y="893" width="4.4" height="10" fill="#383838"/>
<rect x="1963" y="910.6" width="1" height="3" fill="#777"/>
<rect x="1980.2" y="893" width="24.8" height="29.9" fill="#000"/>
<rect x="1984" y="896.8" width="21" height="26.1" fill="#828282"/>
<rect x="2000.5" y="895" width="5.3" height="8.7" fill="#3a3a3a"/>
<rect x="2006" y="892.2" width="4.9" height="7.7" fill="#353535"/>
<rect x="2007.4" y="893.6" width="2.2" height="2" fill="#888"/>
<rect x="2036.2" y="893" width="5.6" height="9.9" fill="#383838"/>
<rect x="2046.7" y="894.9" width="1.4" height="4" fill="#555"/>
<rect x="2046.7" y="903" width="1.4" height="3.8" fill="#555"/>
<rect x="2036" y="910.8" width="1.8" height="3" fill="#666"/>
<rect x="1194" y="929.6" width="5.5" height="3.8" fill="#909090"/>
<rect x="1194.5" y="938" width="4.5" height="3.6" fill="#8a8a8a"/>
<rect x="1200" y="928" width="4.4" height="10" fill="#383838"/>
<rect x="1193" y="945.6" width="1" height="3" fill="#777"/>
<rect x="1210.2" y="928" width="24.8" height="29.9" fill="#000"/>
<rect x="1214" y="931.8" width="21" height="26.1" fill="#828282"/>
<rect x="1230.5" y="930" width="5.3" height="8.7" fill="#3a3a3a"/>
<rect x="1236" y="927.2" width="4.9" height="7.7" fill="#353535"/>
<rect x="1237.4" y="928.6" width="2.2" height="2" fill="#888"/>
<rect x="1266.2" y="928" width="5.6" height="9.9" fill="#383838"/>
<rect x="1276.7" y="929.9" width="1.4" height="4" fill="#555"/>
<rect x="1276.7" y="938" width="1.4" height="3.8" fill="#555"/>
<rect x="1266" y="945.8" width="1.8" height="3" fill="#666"/>
<rect x="1349" y="929.6" width="5.5" height="3.8" fill="#909090"/>
<rect x="1349.5" y="938" width="4.5" height="3.6" fill="#8a8a8a"/>
<rect x="1355" y="928" width="4.4" height="10" fill="#383838"/>
<rect x="1348" y="945.6" width="1" height="3" fill="#777"/>
<rect x="1365.2" y="928" width="24.8" height="29.9" fill="#000"/>
<rect x="1369" y="931.8" width="21" height="26.1" fill="#828282"/>
<rect x="1385.5" y="930" width="5.3" height="8.7" fill="#3a3a3a"/>
<rect x="1391" y="927.2" width="4.9" height="7.7" fill="#353535"/>
<rect x="1392.4" y="928.6" width="2.2" height="2" fill="#888"/>
<rect x="1421.2" y="928" width="5.6" height="9.9" fill="#383838"/>
<rect x="1431.7" y="929.9" width="1.4" height="4" fill="#555"/>
<rect x="1431.7" y="938" width="1.4" height="3.8" fill="#555"/>
<rect x="1421" y="945.8" width="1.8" height="3" fill="#666"/>
<rect x="1504" y="929.6" width="5.5" height="3.8" fill="#909090"/>
<rect x="1504.5" y="938" width="4.5" height="3.6" fill="#8a8a8a"/>
<rect x="1510" y="928" width="4.4" height="10" fill="#383838"/>
<rect x="1503" y="945.6" width="1" height="3" fill="#777"/>
<rect x="1520.2" y="928" width="24.8" height="29.9" fill="#000"/>
<rect x="1524" y="931.8" width="21" height="26.1" fill="#828282"/>
<rect x="1540.5" y="930" width="5.3" height="8.7" fill="#3a3a3a"/>
<rect x="1546" y="927.2" width="4.9" height="7.7" fill="#353535"/>
<rect x="1547.4" y="928.6" width="2.2" height="2" fill="#888"/>
<rect x="1576.2" y="928" width="5.6" height="9.9" fill="#383838"/>
<rect x="1586.7" y="929.9" width="1.4" height="4" fill="#555"/>
<rect x="1586.7" y="938" width="1.4" height="3.8" fill="#555"/>
<rect x="1576" y="945.8" width="1.8" height="3" fill="#666"/>
<rect x="1659" y="929.6" width="5.5" height="3.8" fill="#909090"/>
<rect x="1659.5" y="938" width="4.5" height="3.6" fill="#8a8a8a"/>
<rect x="1665" y="928" width="4.4" height="10" fill="#383838"/>
<rect x="1658" y="945.6" width="1" height="3" fill="#777"/>
<rect x="1675.2" y="928" width="24.8" height="29.9" fill="#000"/>
<rect x="1679" y="931.8" width="21" height="26.1" fill="#828282"/>
<rect x="1695.5" y="930" width="5.3" height="8.7" fill="#3a3a3a"/>
<rect x="1701" y="927.2" width="4.9" height="7.7" fill="#353535"/>
<rect x="1702.4" y="928.6" width="2.2" height="2" fill="#888"/>
<rect x="1731.2" y="928" width="5.6" height="9.9" fill="#383838"/>
<rect x="1741.7" y="929.9" width="1.4" height="4" fill="#555"/>
<rect x="1741.7" y="938" width="1.4" height="3.8" fill="#555"/>
<rect x="1731" y="945.8" width="1.8" height="3" fill="#666"/>
<rect x="1814" y="929.6" width="5.5" height="3.8" fill="#909090"/>
<rect x="1814.5" y="938" width="4.5" height="3.6" fill="#8a8a8a"/>
<rect x="1820" y="928" width="4.4" height="10" fill="#383838"/>
<rect x="1813" y="945.6" width="1" height="3" fill="#777"/>
<rect x="1830.2" y="928" width="24.8" height="29.9" fill="#000"/>
<rect x="1834" y="931.8" width="21" height="26.1" fill="#828282"/>
<rect x="1850.5" y="930" width="5.3" height="8.7" fill="#3a3a3a"/>
<rect x="1856" y="927.2" width="4.9" height="7.7" fill="#353535"/>
<rect x="1857.4" y="928.6" width="2.2" height="2" fill="#888"/>
<rect x="1886.2" y="928" width="5.6" height="9.9" fill="#383838"/>
<rect x="1896.7" y="929.9" width="1.4" height="4" fill="#555"/>
<rect x="1896.7" y="938" width="1.4" height="3.8" fill="#555"/>
<rect x="1886" y="945.8" width="1.8" height="3" fill="#666"/>
<rect x="1964" y="929.6" width="5.5" height="3.8" fill="#909090"/>
<rect x="1964.5" y="938" width="4.5" height="3.6" fill="#8a8a8a"/>
<rect x="1970" y="928" width="4.4" height="10" fill="#383838"/>
<rect x="1963" y="945.6" width="1" height="3" fill="#777"/>
<rect x="1980.2" y="928" width="24.8" height="29.9" fill="#000"/>
<rect x="1984" y="931.8" width="21" height="26.1" fill="#828282"/>
<rect x="2000.5" y="930" width="5.3" height="8.7" fill="#3a3a3a"/>
<rect x="2006" y="927.2" width="4.9" height="7.7" fill="#353535"/>
<rect x="2007.4" y="928.6" width="2.2" height="2" fill="#888"/>
<rect x="2036.2" y="928" width="5.6" height="9.9" fill="#383838"/>
<rect x="2046.7" y="929.9" width="1.4" height="4" fill="#555"/>
<rect x="2046.7" y="938" width="1.4" height="3.8" fill="#555"/>
<rect x="2036" y="945.8" width="1.8" height="3" fill="#666"/>
<rect x="1194" y="994.6" width="5.5" height="3.8" fill="#909090"/>
<rect x="1194.5" y="1003" width="4.5" height="3.6" fill="#8a8a8a"/>
<rect x="1200" y="993" width="4.4" height="10" fill="#383838"/>
<rect x="1193" y="1010.6" width="1" height="3" fill="#777"/>
<rect x="1210.2" y="993" width="24.8" height="29.9" fill="#000"/>
<rect x="1214" y="996.8" width="21" height="26.1" fill="#828282"/>
<rect x="1230.5" y="995" width="5.3" height="8.7" fill="#3a3a3a"/>
<rect x="1236" y="992.2" width="4.9" height="7.7" fill="#353535"/>
<rect x="1237.4" y="993.6" width="2.2" height="2" fill="#888"/>
<rect x="1266.2" y="993" width="5.6" height="9.9" fill="#383838"/>
<rect x="1276.7" y="994.9" width="1.4" height="4" fill="#555"/>
<rect x="1276.7" y="1003" width="1.4" height="3.8" fill="#555"/>
<rect x="1266" y="1010.8" width="1.8" height="3" fill="#666"/>
<rect x="1349" y="994.6" width="5.5" height="3.8" fill="#909090"/>
<rect x="1349.5" y="1003" width="4.5" height="3.6" fill="#8a8a8a"/>
<rect x="1355" y="993" width="4.4" height="10" fill="#383838"/>
<rect x="1348" y="1010.6" width="1" height="3" fill="#777"/>
<rect x="1365.2" y="993" width="24.8" height="29.9" fill="#000"/>
<rect x="1369" y="996.8" width="21" height="26.1" fill="#828282"/>
<rect x="1385.5" y="995" width="5.3" height="8.7" fill="#3a3a3a"/>
<rect x="1391" y="992.2" width="4.9" height="7.7" fill="#353535"/>
<rect x="1392.4" y="993.6" width="2.2" height="2" fill="#888"/>
<rect x="1421.2" y="993" width="5.6" height="9.9" fill="#383838"/>
<rect x="1431.7" y="994.9" width="1.4" height="4" fill="#555"/>
<rect x="1431.7" y="1003" width="1.4" height="3.8" fill="#555"/>
<rect x="1421" y="1010.8" width="1.8" height="3" fill="#666"/>
<rect x="1504" y="994.6" width="5.5" height="3.8" fill="#909090"/>
<rect x="1504.5" y="1003" width="4.5" height="3.6" fill="#8a8a8a"/>
<rect x="1510" y="993" width="4.4" height="10" fill="#383838"/>
<rect x="1503" y="1010.6" width="1" height="3" fill="#777"/>
<rect x="1520.2" y="993" width="24.8" height="29.9" fill="#000"/>
<rect x="1524" y="996.8" width="21" height="26.1" fill="#828282"/>
<rect x="1540.5" y="995" width="5.3" height="8.7" fill="#3a3a3a"/>
<rect x="1546" y="992.2" width="4.9" height="7.7" fill="#353535"/>
<rect x="1547.4" y="993.6" width="2.2" height="2" fill="#888"/>
<rect x="1576.2" y="993" width="5.6" height="9.9" fill="#383838"/>
<rect x="1586.7" y="994.9" width="1.4" height="4" fill="#555"/>
<rect x="1586.7" y="1003" width="1.4" height="3.8" fill="#555"/>
<rect x="1576" y="1010.8" width="1.8" height="3" fill="#666"/>
<rect x="1659" y="994.6" width="5.5" height="3.8" fill="#909090"/>
<rect x="1659.5" y="1003" width="4.5" height="3.6" fill="#8a8a8a"/>
<rect x="1665" y="993" width="4.4" height="10" fill="#383838"/>
<rect x="1658" y="1010.6" width="1" height="3" fill="#777"/>
<rect x="1675.2" y="993" width="24.8" height="29.9" fill="#000"/>
<rect x="1679" y="996.8" width="21" height="26.1" fill="#828282"/>
<rect x="1695.5" y="995" width="5.3" height="8.7" fill="#3a3a3a"/>
<rect x="1701" y="992.2" width="4.9" height="7.7" fill="#353535"/>
<rect x="1702.4" y="993.6" width="2.2" height="2" fill="#888"/>
<rect x="1731.2" y="993" width="5.6" height="9.9" fill="#383838"/>
<rect x="1741.7" y="994.9" width="1.4" height="4" fill="#555"/>
<rect x="1741.7" y="1003" width="1.4" height="3.8" fill="#555"/>
<rect x="1731" y="1010.8" width="1.8" height="3" fill="#666"/>
<rect x="1814" y="994.6" width="5.5" height="3.8" fill="#909090"/>
<rect x="1814.5" y="1003" width="4.5" height="3.6" fill="#8a8a8a"/>
<rect x="1820" y="993" width="4.4" height="10" fill="#383838"/>
<rect x="1813" y="1010.6" width="1" height="3" fill="#777"/>
<rect x="1830.2" y="993" width="24.8" height="29.9" fill="#000"/>
<rect x="1834" y="996.8" width="21" height="26.1" fill="#828282"/>
<rect x="1850.5" y="995" width="5.3" height="8.7" fill="#3a3a3a"/>
<rect x="1856" y="992.2" width="4.9" height="7.7" fill="#353535"/>
<rect x="1857.4" y="993.6" width="2.2" height="2" fill="#888"/>
<rect x="1886.2" y="993" width="5.6" height="9.9" fill="#383838"/>
<rect x="1896.7" y="994.9" width="1.4" height="4" fill="#555"/>
<rect x="1896.7" y="1003" width="1.4" height="3.8" fill="#555"/>
<rect x="1886" y="1010.8" width="1.8" height="3" fill="#666"/>
<rect x="1964" y="994.6" width="5.5" height="3.8" fill="#909090"/>
<rect x="1964.5" y="1003" width="4.5" height="3.6" fill="#8a8a8a"/>
<rect x="1970" y="993" width="4.4" height="10" fill="#383838"/>
<rect x="1963" y="1010.6" width="1" height="3" fill="#777"/>
<rect x="1980.2" y="993" width="24.8" height="29.9" fill="#000"/>
<rect x="1984" y="996.8" width="21" height="26.1" fill="#828282"/>
<rect x="2000.5" y="995" width="5.3" height="8.7" fill="#3a3a3a"/>
<rect x="2006" y="992.2" width="4.9" height="7.7" fill="#353535"/>
<rect x="2007.4" y="993.6" width="2.2" height="2" fill="#888"/>
<rect x="2036.2" y="993" width="5.6" height="9.9" fill="#383838"/>
<rect x="2046.7" y="994.9" width="1.4" height="4" fill="#555"/>
<rect x="2046.7" y="1003" width="1.4" height="3.8" fill="#555"/>
<rect x="2036" y="1010.8" width="1.8" height="3" fill="#666"/>
<rect x="1194" y="1029.6" width="5.5" height="3.8" fill="#909090"/>
<rect x="1194.5" y="1038" width="4.5" height="3.6" fill="#8a8a8a"/>
<rect x="1200" y="1028" width="4.4" height="10" fill="#383838"/>
<rect x="1193" y="1045.6" width="1" height="3" fill="#777"/>
<rect x="1210.2" y="1028" width="24.8" height="29.9" fill="#000"/>
<rect x="1214" y="1031.8" width="21" height="26.1" fill="#828282"/>
<rect x="1230.5" y="1030" width="5.3" height="8.7" fill="#3a3a3a"/>
<rect x="1236" y="1027.2" width="4.9" height="7.7" fill="#353535"/>
<rect x="1237.4" y="1028.6" width="2.2" height="2" fill="#888"/>
<rect x="1266.2" y="1028" width="5.6" height="9.9" fill="#383838"/>
<rect x="1276.7" y="1029.9" width="1.4" height="4" fill="#555"/>
<rect x="1276.7" y="1038" width="1.4" height="3.8" fill="#555"/>
<rect x="1266" y="1045.8" width="1.8" height="3" fill="#666"/>
<rect x="1349" y="1029.6" width="5.5" height="3.8" fill="#909090"/>
<rect x="1349.5" y="1038" width="4.5" height="3.6" fill="#8a8a8a"/>
<rect x="1355" y="1028" width="4.4" height="10" fill="#383838"/>
<rect x="1348" y="1045.6" width="1" height="3" fill="#777"/>
<rect x="1365.2" y="1028" width="24.8" height="29.9" fill="#000"/>
<rect x="1369" y="1031.8" width="21" height="26.1" fill="#828282"/>
<rect x="1385.5" y="1030" width="5.3" height="8.7" fill="#3a3a3a"/>
<rect x="1391" y="1027.2" width="4.9" height="7.7" fill="#353535"/>
<rect x="1392.4" y="1028.6" width="2.2" height="2" fill="#888"/>
<rect x="1421.2" y="1028" width="5.6" height="9.9" fill="#383838"/>
<rect x="1431.7" y="1029.9" width="1.4" height="4" fill="#555"/>
<rect x="1431.7" y="1038" width="1.4" height="3.8" fill="#555"/>
<rect x="1421" y="1045.8" width="1.8" height="3" fill="#666"/>
<rect x="1504" y="1029.6" width="5.5" height="3.8" fill="#909090"/>
<rect x="1504.5" y="1038" width="4.5" height="3.6" fill="#8a8a8a"/>
<rect x="1510" y="1028" width="4.4" height="10" fill="#383838"/>
<rect x="1503" y="1045.6" width="1" height="3" fill="#777"/>
<rect x="1520.2" y="1028" width="24.8" height="29.9" fill="#000"/>
<rect x="1524" y="1031.8" width="21" height="26.1" fill="#828282"/>
<rect x="1540.5" y="1030" width="5.3" height="8.7" fill="#3a3a3a"/>
<rect x="1546" y="1027.2" width="4.9" height="7.7" fill="#353535"/>
<rect x="1547.4" y="1028.6" width="2.2" height="2" fill="#888"/>
<rect x="1576.2" y="1028" width="5.6" height="9.9" fill="#383838"/>
<rect x="1586.7" y="1029.9" width="1.4" height="4" fill="#555"/>
<rect x="1586.7" y="1038" width="1.4" height="3.8" fill="#555"/>
<rect x="1576" y="1045.8" width="1.8" height="3" fill="#666"/>
<rect x="1659" y="1029.6" width="5.5" height="3.8" fill="#909090"/>
<rect x="1659.5" y="1038" width="4.5" height="3.6" fill="#8a8a8a"/>
<rect x="1665" y="1028" width="4.4" height="10" fill="#383838"/>
<rect x="1658" y="1045.6" width="1" height="3" fill="#777"/>
<rect x="1675.2" y="1028" width="24.8" height="29.9" fill="#000"/>
<rect x="1679" y="1031.8" width="21" height="26.1" fill="#828282"/>
<rect x="1695.5" y="1030" width="5.3" height="8.7" fill="#3a3a3a"/>
<rect x="1701" y="1027.2" width="4.9" height="7.7" fill="#353535"/>
<rect x="1702.4" y="1028.6" width="2.2" height="2" fill="#888"/>
<rect x="1731.2" y="1028" width="5.6" height="9.9" fill="#383838"/>
<rect x="1741.7" y="1029.9" width="1.4" height="4" fill="#555"/>
<rect x="1741.7" y="1038" width="1.4" height="3.8" fill="#555"/>
<rect x="1731" y="1045.8" width="1.8" height="3" fill="#666"/>
<rect x="1814" y="1029.6" width="5.5" height="3.8" fill="#909090"/>
<rect x="1814.5" y="1038" width="4.5" height="3.6" fill="#8a8a8a"/>
<rect x="1820" y="1028" width="4.4" height="10" fill="#383838"/>
<rect x="1813" y="1045.6" width="1" height="3" fill="#777"/>
<rect x="1830.2" y="1028" width="24.8" height="29.9" fill="#000"/>
<rect x="1834" y="1031.8" width="21" height="26.1" fill="#828282"/>
<rect x="1850.5" y="1030" width="5.3" height="8.7" fill="#3a3a3a"/>
<rect x="1856" y="1027.2" width="4.9" height="7.7" fill="#353535"/>
<rect x="1857.4" y="1028.6" width="2.2" height="2" fill="#888"/>
<rect x="1886.2" y="1028" width="5.6" height="9.9" fill="#383838"/>
<rect x="1896.7" y="1029.9" width="1.4" height="4" fill="#555"/>
<rect x="1896.7" y="1038" width="1.4" height="3.8" fill="#555"/>
<rect x="1886" y="1045.8" width="1.8" height="3" fill="#666"/>
<rect x="1964" y="1029.6" width="5.5" height="3.8" fill="#909090"/>
<rect x="1964.5" y="1038" width="4.5" height="3.6" fill="#8a8a8a"/>
<rect x="1970" y="1028" width="4.4" height="10" fill="#383838"/>
<rect x="1963" y="1045.6" width="1" height="3" fill="#777"/>
<rect x="1980.2" y="1028" width="24.8" height="29.9" fill="#000"/>
<rect x="1984" y="1031.8" width="21" height="26.1" fill="#828282"/>
<rect x="2000.5" y="1030" width="5.3" height="8.7" fill="#3a3a3a"/>
<rect x="2006" y="1027.2" width="4.9" height="7.7" fill="#353535"/>
<rect x="2007.4" y="1028.6" width="2.2" height="2" fill="#888"/>
<rect x="2036.2" y="1028" width="5.6" height="9.9" fill="#383838"/>
<rect x="2046.7" y="1029.9" width="1.4" height="4" fill="#555"/>
<rect x="2046.7" y="1038" width="1.4" height="3.8" fill="#555"/>
<rect x="2036" y="1045.8" width="1.8" height="3" fill="#666"/>
<rect x="1194" y="1064.6" width="5.5" height="3.8" fill="#909090"/>
<rect x="1194.5" y="1073" width="4.5" height="3.6" fill="#8a8a8a"/>
<rect x="1200" y="1063" width="4.4" height="10" fill="#383838"/>
<rect x="1193" y="1080.6" width="1" height="3" fill="#777"/>
<rect x="1210.2" y="1063" width="24.8" height="29.9" fill="#000"/>
<rect x="1214" y="1066.8" width="21" height="26.1" fill="#828282"/>
<rect x="1230.5" y="1065" width="5.3" height="8.7" fill="#3a3a3a"/>
<rect x="1236" y="1062.2" width="4.9" height="7.7" fill="#353535"/>
<rect x="1237.4" y="1063.6" width="2.2" height="2" fill="#888"/>
<rect x="1266.2" y="1063" width="5.6" height="9.9" fill="#383838"/>
<rect x="1276.7" y="1064.9" width="1.4" height="4" fill="#555"/>
<rect x="1276.7" y="1073" width="1.4" height="3.8" fill="#555"/>
<rect x="1266" y="1080.8" width="1.8" height="3" fill="#666"/>
<rect x="1349" y="1064.6" width="5.5" height="3.8" fill="#909090"/>
<rect x="1349.5" y="1073" width="4.5" height="3.6" fill="#8a8a8a"/>
<rect x="1355" y="1063" width="4.4" height="10" fill="#383838"/>
<rect x="1348" y="1080.6" width="1" height="3" fill="#777"/>
<rect x="1365.2" y="1063" width="24.8" height="29.9" fill="#000"/>
<rect x="1369" y="1066.8" width="21" height="26.1" fill="#828282"/>
<rect x="1385.5" y="1065" width="5.3" height="8.7" fill="#3a3a3a"/>
<rect x="1391" y="1062.2" width="4.9" height="7.7" fill="#353535"/>
<rect x="1392.4" y="1063.6" width="2.2" height="2" fill="#888"/>
<rect x="1421.2" y="1063" width="5.6" height="9.9" fill="#383838"/>
<rect x="1431.7" y="1064.9" width="1.4" height="4" fill="#555"/>
<rect x="1431.7" y="1073" width="1.4" height="3.8" fill="#555"/>
<rect x="1421" y="1080.8" width="1.8" height="3" fill="#666"/>
<rect x="1504" y="1064.6" width="5.5" height="3.8" fill="#909090"/>
<rect x="1504.5" y="1073" width="4.5" height="3.6" fill="#8a8a8a"/>
<rect x="1510" y="1063" width="4.4" height="10" fill="#383838"/>
<rect x="1503" y="1080.6" width="1" height="3" fill="#777"/>
<rect x="1520.2" y="1063" width="24.8" height="29.9" fill="#000"/>
<rect x="1524" y="1066.8" width="21" height="26.1" fill="#828282"/>
<rect x="1540.5" y="1065" width="5.3" height="8.7" fill="#3a3a3a"/>
<rect x="1546" y="1062.2" width="4.9" height="7.7" fill="#353535"/>
<rect x="1547.4" y="1063.6" width="2.2" height="2" fill="#888"/>
<rect x="1576.2" y="1063" width="5.6" height="9.9" fill="#383838"/>
<rect x="1586.7" y="1064.9" width="1.4" height="4" fill="#555"/>
<rect x="1586.7" y="1073" width="1.4" height="3.8" fill="#555"/>
<rect x="1576" y="1080.8" width="1.8" height="3" fill="#666"/>
<rect x="1659" y="1064.6" width="5.5" height="3.8" fill="#909090"/>
<rect x="1659.5" y="1073" width="4.5" height="3.6" fill="#8a8a8a"/>
<rect x="1665" y="1063" width="4.4" height="10" fill="#383838"/>
<rect x="1658" y="1080.6" width="1" height="3" fill="#777"/>
<rect x="1675.2" y="1063" width="24.8" height="29.9" fill="#000"/>
<rect x="1679" y="1066.8" width="21" height="26.1" fill="#828282"/>
<rect x="1695.5" y="1065" width="5.3" height="8.7" fill="#3a3a3a"/>
<rect x="1701" y="1062.2" width="4.9" height="7.7" fill="#353535"/>
<rect x="1702.4" y="1063.6" width="2.2" height="2" fill="#888"/>
<rect x="1731.2" y="1063" width="5.6" height="9.9" fill="#383838"/>
<rect x="1741.7" y="1064.9" width="1.4" height="4" fill="#555"/>
<rect x="1741.7" y="1073" width="1.4" height="3.8" fill="#555"/>
<rect x="1731" y="1080.8" width="1.8" height="3" fill="#666"/>
<rect x="1814" y="1064.6" width="5.5" height="3.8" fill="#909090"/>
<rect x="1814.5" y="1073" width="4.5" height="3.6" fill="#8a8a8a"/>
<rect x="1820" y="1063" width="4.4" height="10" fill="#383838"/>
<rect x="1813" y="1080.6" width="1" height="3" fill="#777"/>
<rect x="1830.2" y="1063" width="24.8" height="29.9" fill="#000"/>
<rect x="1834" y="1066.8" width="21" height="26.1" fill="#828282"/>
<rect x="1850.5" y="1065" width="5.3" height="8.7" fill="#3a3a3a"/>
<rect x="1856" y="1062.2" width="4.9" height="7.7" fill="#353535"/>
<rect x="1857.4" y="1063.6" width="2.2" height="2" fill="#888"/>
<rect x="1886.2" y="1063" width="5.6" height="9.9" fill="#383838"/>
<rect x="1896.7" y="1064.9" width="1.4" height="4" fill="#555"/>
<rect x="1896.7" y="1073" width="1.4" height="3.8" fill="#555"/>
<rect x="1886" y="1080.8" width="1.8" height="3" fill="#666"/>
<rect x="1964" y="1064.6" width="5.5" height="3.8" fill="#909090"/>
<rect x="1964.5" y="1073" width="4.5" height="3.6" fill="#8a8a8a"/>
<rect x="1970" y="1063" width="4.4" height="10" fill="#383838"/>
<rect x="1963" y="1080.6" width="1" height="3" fill="#777"/>
<rect x="1980.2" y="1063" width="24.8" height="29.9" fill="#000"/>
<rect x="1984" y="1066.8" width="21" height="26.1" fill="#828282"/>
<rect x="2000.5" y="1065" width="5.3" height="8.7" fill="#3a3a3a"/>
<rect x="2006" y="1062.2" width="4.9" height="7.7" fill="#353535"/>
<rect x="2007.4" y="1063.6" width="2.2" height="2" fill="#888"/>
<rect x="2036.2" y="1063" width="5.6" height="9.9" fill="#383838"/>
<rect x="2046.7" y="1064.9" width="1.4" height="4" fill="#555"/>
<rect x="2046.7" y="1073" width="1.4" height="3.8" fill="#555"/>
<rect x="2036" y="1080.8" width="1.8" height="3" fill="#666"/>
<rect x="1194" y="1159.6" width="5.5" height="3.8" fill="#909090"/>
<rect x="1194.5" y="1168" width="4.5" height="3.6" fill="#8a8a8a"/>
<rect x="1200" y="1158" width="4.4" height="10" fill="#383838"/>
<rect x="1193" y="1175.6" width="1" height="3" fill="#777"/>
<rect x="1210.2" y="1158" width="24.8" height="29.9" fill="#000"/>
<rect x="1214" y="1161.8" width="21" height="26.1" fill="#828282"/>
<rect x="1230.5" y="1160" width="5.3" height="8.7" fill="#3a3a3a"/>
<rect x="1236" y="1157.2" width="4.9" height="7.7" fill="#353535"/>
<rect x="1237.4" y="1158.6" width="2.2" height="2" fill="#888"/>
<rect x="1266.2" y="1158" width="5.6" height="9.9" fill="#383838"/>
<rect x="1276.7" y="1159.9" width="1.4" height="4" fill="#555"/>
<rect x="1276.7" y="1168" width="1.4" height="3.8" fill="#555"/>
<rect x="1266" y="1175.8" width="1.8" height="3" fill="#666"/>
<rect x="1349" y="1159.6" width="5.5" height="3.8" fill="#909090"/>
<rect x="1349.5" y="1168" width="4.5" height="3.6" fill="#8a8a8a"/>
<rect x="1355" y="1158" width="4.4" height="10" fill="#383838"/>
<rect x="1348" y="1175.6" width="1" height="3" fill="#777"/>
<rect x="1365.2" y="1158" width="24.8" height="29.9" fill="#000"/>
<rect x="1369" y="1161.8" width="21" height="26.1" fill="#828282"/>
<rect x="1385.5" y="1160" width="5.3" height="8.7" fill="#3a3a3a"/>
<rect x="1391" y="1157.2" width="4.9" height="7.7" fill="#353535"/>
<rect x="1392.4" y="1158.6" width="2.2" height="2" fill="#888"/>
<rect x="1421.2" y="1158" width="5.6" height="9.9" fill="#383838"/>
<rect x="1431.7" y="1159.9" width="1.4" height="4" fill="#555"/>
<rect x="1431.7" y="1168" width="1.4" height="3.8" fill="#555"/>
<rect x="1421" y="1175.8" width="1.8" height="3" fill="#666"/>
<rect x="1504" y="1159.6" width="5.5" height="3.8" fill="#909090"/>
<rect x="1504.5" y="1168" width="4.5" height="3.6" fill="#8a8a8a"/>
<rect x="1510" y="1158" width="4.4" height="10" fill="#383838"/>
<rect x="1503" y="1175.6" width="1" height="3" fill="#777"/>
<rect x="1520.2" y="1158" width="24.8" height="29.9" fill="#000"/>
<rect x="1524" y="1161.8" width="21" height="26.1" fill="#828282"/>
<rect x="1540.5" y="1160" width="5.3" height="8.7" fill="#3a3a3a"/>
<rect x="1546" y="1157.2" width="4.9" height="7.7" fill="#353535"/>
<rect x="1547.4" y="1158.6" width="2.2" height="2" fill="#888"/>
<rect x="1576.2" y="1158" width="5.6" height="9.9" fill="#383838"/>
<rect x="1586.7" y="1159.9" width="1.4" height="4" fill="#555"/>
<rect x="1586.7" y="1168" width="1.4" height="3.8" fill="#555"/>
<rect x="1576" y="1175.8" width="1.8" height="3" fill="#666"/>
<rect x="1659" y="1159.6" width="5.5" height="3.8" fill="#909090"/>
<rect x="1659.5" y="1168" width="4.5" height="3.6" fill="#8a8a8a"/>
<rect x="1665" y="1158" width="4.4" height="10" fill="#383838"/>
<rect x="1658" y="1175.6" width="1" height="3" fill="#777"/>
<rect x="1675.2" y="1158" width="24.8" height="29.9" fill="#000"/>
<rect x="1679" y="1161.8" width="21" height="26.1" fill="#828282"/>
<rect x="1695.5" y="1160" width="5.3" height="8.7" fill="#3a3a3a"/>
<rect x="1701" y="1157.2" width="4.9" height="7.7" fill="#353535"/>
<rect x="1702.4" y="1158.6" width="2.2" height="2" fill="#888"/>
<rect x="1731.2" y="1158" width="5.6" height="9.9" fill="#383838"/>
<rect x="1741.7" y="1159.9" width="1.4" height="4" fill="#555"/>
<rect x="1741.7" y="1168" width="1.4" height="3.8" fill="#555"/>
<rect x="1731" y="1175.8" width="1.8" height="3" fill="#666"/>
<rect x="1814" y="1159.6" width="5.5" height="3.8" fill="#909090"/>
<rect x="1814.5" y="1168" width="4.5" height="3.6" fill="#8a8a8a"/>
<rect x="1820" y="1158" width="4.4" height="10" fill="#383838"/>
<rect x="1813" y="1175.6" width="1" height="3" fill="#777"/>
<rect x="1830.2" y="1158" width="24.8" height="29.9" fill="#000"/>
<rect x="1834" y="1161.8" width="21" height="26.1" fill="#828282"/>
<rect x="1850.5" y="1160" width="5.3" height="8.7" fill="#3a3a3a"/>
<rect x="1856" y="1157.2" width="4.9" height="7.7" fill="#353535"/>
<rect x="1857.4" y="1158.6" width="2.2" height="2" fill="#888"/>
<rect x="1886.2" y="1158" width="5.6" height="9.9" fill="#383838"/>
<rect x="1896.7" y="1159.9" width="1.4" height="4" fill="#555"/>
<rect x="1896.7" y="1168" width="1.4" height="3.8" fill="#555"/>
<rect x="1886" y="1175.8" width="1.8" height="3" fill="#666"/>
<rect x="1964" y="1159.6" width="5.5" height="3.8" fill="#909090"/>
<rect x="1964.5" y="1168" width="4.5" height="3.6" fill="#8a8a8a"/>
<rect x="1970" y="1158" width="4.4" height="10" fill="#383838"/>
<rect x="1963" y="1175.6" width="1" height="3" fill="#777"/>
<rect x="1980.2" y="1158" width="24.8" height="29.9" fill="#000"/>
<rect x="1984" y="1161.8" width="21" height="26.1" fill="#828282"/>
<rect x="2000.5" y="1160" width="5.3" height="8.7" fill="#3a3a3a"/>
<rect x="2006" y="1157.2" width="4.9" height="7.7" fill="#353535"/>
<rect x="2007.4" y="1158.6" width="2.2" height="2" fill="#888"/>
<rect x="2036.2" y="1158" width="5.6" height="9.9" fill="#383838"/>
<rect x="2046.7" y="1159.9" width="1.4" height="4" fill="#555"/>
<rect x="2046.7" y="1168" width="1.4" height="3.8" fill="#555"/>
<rect x="2036" y="1175.8" width="1.8" height="3" fill="#666"/>
<rect x="1194" y="1194.6" width="5.5" height="3.8" fill="#909090"/>
<rect x="1194.5" y="1203" width="4.5" height="3.6" fill="#8a8a8a"/>
<rect x="1200" y="1193" width="4.4" height="10" fill="#383838"/>
<rect x="1193" y="1210.6" width="1" height="3" fill="#777"/>
<rect x="1210.2" y="1193" width="24.8" height="29.9" fill="#000"/>
<rect x="1214" y="1196.8" width="21" height="26.1" fill="#828282"/>
<rect x="1230.5" y="1195" width="5.3" height="8.7" fill="#3a3a3a"/>
<rect x="1236" y="1192.2" width="4.9" height="7.7" fill="#353535"/>
<rect x="1237.4" y="1193.6" width="2.2" height="2" fill="#888"/>
<rect x="1266.2" y="1193" width="5.6" height="9.9" fill="#383838"/>
<rect x="1276.7" y="1194.9" width="1.4" height="4" fill="#555"/>
<rect x="1276.7" y="1203" width="1.4" height="3.8" fill="#555"/>
<rect x="1266" y="1210.8" width="1.8" height="3" fill="#666"/>
<rect x="1349" y="1194.6" width="5.5" height="3.8" fill="#909090"/>
<rect x="1349.5" y="1203" width="4.5" height="3.6" fill="#8a8a8a"/>
<rect x="1355" y="1193" width="4.4" height="10" fill="#383838"/>
<rect x="1348" y="1210.6" width="1" height="3" fill="#777"/>
<rect x="1365.2" y="1193" width="24.8" height="29.9" fill="#000"/>
<rect x="1369" y="1196.8" width="21" height="26.1" fill="#828282"/>
<rect x="1385.5" y="1195" width="5.3" height="8.7" fill="#3a3a3a"/>
<rect x="1391" y="1192.2" width="4.9" height="7.7" fill="#353535"/>
<rect x="1392.4" y="1193.6" width="2.2" height="2" fill="#888"/>
<rect x="1421.2" y="1193" width="5.6" height="9.9" fill="#383838"/>
<rect x="1431.7" y="1194.9" width="1.4" height="4" fill="#555"/>
<rect x="1431.7" y="1203" width="1.4" height="3.8" fill="#555"/>
<rect x="1421" y="1210.8" width="1.8" height="3" fill="#666"/>
<rect x="1504" y="1194.6" width="5.5" height="3.8" fill="#909090"/>
<rect x="1504.5" y="1203" width="4.5" height="3.6" fill="#8a8a8a"/>
<rect x="1510" y="1193" width="4.4" height="10" fill="#383838"/>
<rect x="1503" y="1210.6" width="1" height="3" fill="#777"/>
<rect x="1520.2" y="1193" width="24.8" height="29.9" fill="#000"/>
<rect x="1524" y="1196.8" width="21" height="26.1" fill="#828282"/>
<rect x="1540.5" y="1195" width="5.3" height="8.7" fill="#3a3a3a"/>
<rect x="1546" y="1192.2" width="4.9" height="7.7" fill="#353535"/>
<rect x="1547.4" y="1193.6" width="2.2" height="2" fill="#888"/>
<rect x="1576.2" y="1193" width="5.6" height="9.9" fill="#383838"/>
<rect x="1586.7" y="1194.9" width="1.4" height="4" fill="#555"/>
<rect x="1586.7" y="1203" width="1.4" height="3.8" fill="#555"/>
<rect x="1576" y="1210.8" width="1.8" height="3" fill="#666"/>
<rect x="1659" y="1194.6" width="5.5" height="3.8" fill="#909090"/>
<rect x="1659.5" y="1203" width="4.5" height="3.6" fill="#8a8a8a"/>
<rect x="1665" y="1193" width="4.4" height="10" fill="#383838"/>
<rect x="1658" y="1210.6" width="1" height="3" fill="#777"/>
<rect x="1675.2" y="1193" width="24.8" height="29.9" fill="#000"/>
<rect x="1679" y="1196.8" width="21" height="26.1" fill="#828282"/>
<rect x="1695.5" y="1195" width="5.3" height="8.7" fill="#3a3a3a"/>
<rect x="1701" y="1192.2" width="4.9" height="7.7" fill="#353535"/>
<rect x="1702.4" y="1193.6" width="2.2" height="2" fill="#888"/>
<rect x="1731.2" y="1193" width="5.6" height="9.9" fill="#383838"/>
<rect x="1741.7" y="1194.9" width="1.4" height="4" fill="#555"/>
<rect x="1741.7" y="1203" width="1.4" height="3.8" fill="#555"/>
<rect x="1731" y="1210.8" width="1.8" height="3" fill="#666"/>
<rect x="1814" y="1194.6" width="5.5" height="3.8" fill="#909090"/>
<rect x="1814.5" y="1203" width="4.5" height="3.6" fill="#8a8a8a"/>
<rect x="1820" y="1193" width="4.4" height="10" fill="#383838"/>
<rect x="1813" y="1210.6" width="1" height="3" fill="#777"/>
<rect x="1830.2" y="1193" width="24.8" height="29.9" fill="#000"/>
<rect x="1834" y="1196.8" width="21" height="26.1" fill="#828282"/>
<rect x="1850.5" y="1195" width="5.3" height="8.7" fill="#3a3a3a"/>
<rect x="1856" y="1192.2" width="4.9" height="7.7" fill="#353535"/>
<rect x="1857.4" y="1193.6" width="2.2" height="2" fill="#888"/>
<rect x="1886.2" y="1193" width="5.6" height="9.9" fill="#383838"/>
<rect x="1896.7" y="1194.9" width="1.4" height="4" fill="#555"/>
<rect x="1896.7" y="1203" width="1.4" height="3.8" fill="#555"/>
<rect x="1886" y="1210.8" width="1.8" height="3" fill="#666"/>
<rect x="1964" y="1194.6" width="5.5" height="3.8" fill="#909090"/>
<rect x="1964.5" y="1203" width="4.5" height="3.6" fill="#8a8a8a"/>
<rect x="1970" y="1193" width="4.4" height="10" fill="#383838"/>
<rect x="1963" y="1210.6" width="1" height="3" fill="#777"/>
<rect x="1980.2" y="1193" width="24.8" height="29.9" fill="#000"/>
<rect x="1984" y="1196.8" width="21" height="26.1" fill="#828282"/>
<rect x="2000.5" y="1195" width="5.3" height="8.7" fill="#3a3a3a"/>
<rect x="2006" y="1192.2" width="4.9" height="7.7" fill="#353535"/>
<rect x="2007.4" y="1193.6" width="2.2" height="2" fill="#888"/>
<rect x="2036.2" y="1193" width="5.6" height="9.9" fill="#383838"/>
<rect x="2046.7" y="1194.9" width="1.4" height="4" fill="#555"/>
<rect x="2046.7" y="1203" width="1.4" height="3.8" fill="#555"/>
<rect x="2036" y="1210.8" width="1.8" height="3" fill="#666"/>
<rect x="1194" y="1229.6" width="5.5" height="3.8" fill="#909090"/>
<rect x="1194.5" y="1238" width="4.5" height="3.6" fill="#8a8a8a"/>
<rect x="1200" y="1228" width="4.4" height="10" fill="#383838"/>
<rect x="1193" y="1245.6" width="1" height="3" fill="#777"/>
<rect x="1210.2" y="1228" width="24.8" height="29.9" fill="#000"/>
<rect x="1214" y="1231.8" width="21" height="26.1" fill="#828282"/>
<rect x="1230.5" y="1230" width="5.3" height="8.7" fill="#3a3a3a"/>
<rect x="1236" y="1227.2" width="4.9" height="7.7" fill="#353535"/>
<rect x="1237.4" y="1228.6" width="2.2" height="2" fill="#888"/>
<rect x="1266.2" y="1228" width="5.6" height="9.9" fill="#383838"/>
<rect x="1276.7" y="1229.9" width="1.4" height="4" fill="#555"/>
<rect x="1276.7" y="1238" width="1.4" height="3.8" fill="#555"/>
<rect x="1266" y="1245.8" width="1.8" height="3" fill="#666"/>
<rect x="1349" y="1229.6" width="5.5" height="3.8" fill="#909090"/>
<rect x="1349.5" y="1238" width="4.5" height="3.6" fill="#8a8a8a"/>
<rect x="1355" y="1228" width="4.4" height="10" fill="#383838"/>
<rect x="1348" y="1245.6" width="1" height="3" fill="#777"/>
<rect x="1365.2" y="1228" width="24.8" height="29.9" fill="#000"/>
<rect x="1369" y="1231.8" width="21" height="26.1" fill="#828282"/>
<rect x="1385.5" y="1230" width="5.3" height="8.7" fill="#3a3a3a"/>
<rect x="1391" y="1227.2" width="4.9" height="7.7" fill="#353535"/>
<rect x="1392.4" y="1228.6" width="2.2" height="2" fill="#888"/>
<rect x="1421.2" y="1228" width="5.6" height="9.9" fill="#383838"/>
<rect x="1431.7" y="1229.9" width="1.4" height="4" fill="#555"/>
<rect x="1431.7" y="1238" width="1.4" height="3.8" fill="#555"/>
<rect x="1421" y="1245.8" width="1.8" height="3" fill="#666"/>
<rect x="1504" y="1229.6" width="5.5" height="3.8" fill="#909090"/>
<rect x="1504.5" y="1238" width="4.5" height="3.6" fill="#8a8a8a"/>
<rect x="1510" y="1228" width="4.4" height="10" fill="#383838"/>
<rect x="1503" y="1245.6" width="1" height="3" fill="#777"/>
<rect x="1520.2" y="1228" width="24.8" height="29.9" fill="#000"/>
<rect x="1524" y="1231.8" width="21" height="26.1" fill="#828282"/>
<rect x="1540.5" y="1230" width="5.3" height="8.7" fill="#3a3a3a"/>
<rect x="1546" y="1227.2" width="4.9" height="7.7" fill="#353535"/>
<rect x="1547.4" y="1228.6" width="2.2" height="2" fill="#888"/>
<rect x="1576.2" y="1228" width="5.6" height="9.9" fill="#383838"/>
<rect x="1586.7" y="1229.9" width="1.4" height="4" fill="#555"/>
<rect x="1586.7" y="1238" width="1.4" height="3.8" fill="#555"/>
<rect x="1576" y="1245.8" width="1.8" height="3" fill="#666"/>
<rect x="1659" y="1229.6" width="5.5" height="3.8" fill="#909090"/>
<rect x="1659.5" y="1238" width="4.5" height="3.6" fill="#8a8a8a"/>
<rect x="1665" y="1228" width="4.4" height="10" fill="#383838"/>
<rect x="1658" y="1245.6" width="1" height="3" fill="#777"/>
<rect x="1675.2" y="1228" width="24.8" height="29.9" fill="#000"/>
<rect x="1679" y="1231.8" width="21" height="26.1" fill="#828282"/>
<rect x="1695.5" y="1230" width="5.3" height="8.7" fill="#3a3a3a"/>
<rect x="1701" y="1227.2" width="4.9" height="7.7" fill="#353535"/>
<rect x="1702.4" y="1228.6" width="2.2" height="2" fill="#888"/>
<rect x="1731.2" y="1228" width="5.6" height="9.9" fill="#383838"/>
<rect x="1741.7" y="1229.9" width="1.4" height="4" fill="#555"/>
<rect x="1741.7" y="1238" width="1.4" height="3.8" fill="#555"/>
<rect x="1731" y="1245.8" width="1.8" height="3" fill="#666"/>
<rect x="1814" y="1229.6" width="5.5" height="3.8" fill="#909090"/>
<rect x="1814.5" y="1238" width="4.5" height="3.6" fill="#8a8a8a"/>
<rect x="1820" y="1228" width="4.4" height="10" fill="#383838"/>
<rect x="1813" y="1245.6" width="1" height="3" fill="#777"/>
<rect x="1830.2" y="1228" width="24.8" height="29.9" fill="#000"/>
<rect x="1834" y="1231.8" width="21" height="26.1" fill="#828282"/>
<rect x="1850.5" y="1230" width="5.3" height="8.7" fill="#3a3a3a"/>
<rect x="1856" y="1227.2" width="4.9" height="7.7" fill="#353535"/>
<rect x="1857.4" y="1228.6" width="2.2" height="2" fill="#888"/>
<rect x="1886.2" y="1228" width="5.6" height="9.9" fill="#383838"/>
<rect x="1896.7" y="1229.9" width="1.4" height="4" fill="#555"/>
<rect x="1896.7" y="1238" width="1.4" height="3.8" fill="#555"/>
<rect x="1886" y="1245.8" width="1.8" height="3" fill="#666"/>
<rect x="1964" y="1229.6" width="5.5" height="3.8" fill="#909090"/>
<rect x="1964.5" y="1238" width="4.5" height="3.6" fill="#8a8a8a"/>
<rect x="1970" y="1228" width="4.4" height="10" fill="#383838"/>
<rect x="1963" y="1245.6" width="1" height="3" fill="#777"/>
<rect x="1980.2" y="1228" width="24.8" height="29.9" fill="#000"/>
<rect x="1984" y="1231.8" width="21" height="26.1" fill="#828282"/>
<rect x="2000.5" y="1230" width="5.3" height="8.7" fill="#3a3a3a"/>
<rect x="2006" y="1227.2" width="4.9" height="7.7" fill="#353535"/>
<rect x="2007.4" y="1228.6" width="2.2" height="2" fill="#888"/>
<rect x="2036.2" y="1228" width="5.6" height="9.9" fill="#383838"/>
<rect x="2046.7" y="1229.9" width="1.4" height="4" fill="#555"/>
<rect x="2046.7" y="1238" width="1.4" height="3.8" fill="#555"/>
<rect x="2036" y="1245.8" width="1.8" height="3" fill="#666"/>
<rect x="1194" y="1264.6" width="5.5" height="3.8" fill="#909090"/>
<rect x="1194.5" y="1273" width="4.5" height="3.6" fill="#8a8a8a"/>
<rect x="1200" y="1263" width="4.4" height="10" fill="#383838"/>
<rect x="1193" y="1280.6" width="1" height="3" fill="#777"/>
<rect x="1210.2" y="1263" width="24.8" height="29.9" fill="#000"/>
<rect x="1214" y="1266.8" width="21" height="26.1" fill="#828282"/>
<rect x="1230.5" y="1265" width="5.3" height="8.7" fill="#3a3a3a"/>
<rect x="1236" y="1262.2" width="4.9" height="7.7" fill="#353535"/>
<rect x="1237.4" y="1263.6" width="2.2" height="2" fill="#888"/>
<rect x="1266.2" y="1263" width="5.6" height="9.9" fill="#383838"/>
<rect x="1276.7" y="1264.9" width="1.4" height="4" fill="#555"/>
<rect x="1276.7" y="1273" width="1.4" height="3.8" fill="#555"/>
<rect x="1266" y="1280.8" width="1.8" height="3" fill="#666"/>
<rect x="1349" y="1264.6" width="5.5" height="3.8" fill="#909090"/>
<rect x="1349.5" y="1273" width="4.5" height="3.6" fill="#8a8a8a"/>
<rect x="1355" y="1263" width="4.4" height="10" fill="#383838"/>
<rect x="1348" y="1280.6" width="1" height="3" fill="#777"/>
<rect x="1365.2" y="1263" width="24.8" height="29.9" fill="#000"/>
<rect x="1369" y="1266.8" width="21" height="26.1" fill="#828282"/>
<rect x="1385.5" y="1265" width="5.3" height="8.7" fill="#3a3a3a"/>
<rect x="1391" y="1262.2" width="4.9" height="7.7" fill="#353535"/>
<rect x="1392.4" y="1263.6" width="2.2" height="2" fill="#888"/>
<rect x="1421.2" y="1263" width="5.6" height="9.9" fill="#383838"/>
<rect x="1431.7" y="1264.9" width="1.4" height="4" fill="#555"/>
<rect x="1431.7" y="1273" width="1.4" height="3.8" fill="#555"/>
<rect x="1421" y="1280.8" width="1.8" height="3" fill="#666"/>
<rect x="1504" y="1264.6" width="5.5" height="3.8" fill="#909090"/>
<rect x="1504.5" y="1273" width="4.5" height="3.6" fill="#8a8a8a"/>
<rect x="1510" y="1263" width="4.4" height="10" fill="#383838"/>
<rect x="1503" y="1280.6" width="1" height="3" fill="#777"/>
<rect x="1520.2" y="1263" width="24.8" height="29.9" fill="#000"/>
<rect x="1524" y="1266.8" width="21" height="26.1" fill="#828282"/>
<rect x="1540.5" y="1265" width="5.3" height="8.7" fill="#3a3a3a"/>
<rect x="1546" y="1262.2" width="4.9" height="7.7" fill="#353535"/>
<rect x="1547.4" y="1263.6" width="2.2" height="2" fill="#888"/>
<rect x="1576.2" y="1263" width="5.6" height="9.9" fill="#383838"/>
<rect x="1586.7" y="1264.9" width="1.4" height="4" fill="#555"/>
<rect x="1586.7" y="1273" width="1.4" height="3.8" fill="#555"/>
<rect x="1576" y="1280.8" width="1.8" height="3" fill="#666"/>
<rect x="1659" y="1264.6" width="5.5" height="3.8" fill="#909090"/>
<rect x="1659.5" y="1273" width="4.5" height="3.6" fill="#8a8a8a"/>
<rect x="1665" y="1263" width="4.4" height="10" fill="#383838"/>
<rect x="1658" y="1280.6" width="1" height="3" fill="#777"/>
<rect x="1675.2" y="1263" width="24.8" height="29.9" fill="#000"/>
<rect x="1679" y="1266.8" width="21" height="26.1" fill="#828282"/>
<rect x="1695.5" y="1265" width="5.3" height="8.7" fill="#3a3a3a"/>
<rect x="1701" y="1262.2" width="4.9" height="7.7" fill="#353535"/>
<rect x="1702.4" y="1263.6" width="2.2" height="2" fill="#888"/>
<rect x="1731.2" y="1263" width="5.6" height="9.9" fill="#383838"/>
<rect x="1741.7" y="1264.9" width="1.4" height="4" fill="#555"/>
<rect x="1741.7" y="1273" width="1.4" height="3.8" fill="#555"/>
<rect x="1731" y="1280.8" width="1.8" height="3" fill="#666"/>
<rect x="1814" y="1264.6" width="5.5" height="3.8" fill="#909090"/>
<rect x="1814.5" y="1273" width="4.5" height="3.6" fill="#8a8a8a"/>
<rect x="1820" y="1263" width="4.4" height="10" fill="#383838"/>
<rect x="1813" y="1280.6" width="1" height="3" fill="#777"/>
<rect x="1830.2" y="1263" width="24.8" height="29.9" fill="#000"/>
<rect x="1834" y="1266.8" width="21" height="26.1" fill="#828282"/>
<rect x="1850.5" y="1265" width="5.3" height="8.7" fill="#3a3a3a"/>
<rect x="1856" y="1262.2" width="4.9" height="7.7" fill="#353535"/>
<rect x="1857.4" y="1263.6" width="2.2" height="2" fill="#888"/>
<rect x="1886.2" y="1263" width="5.6" height="9.9" fill="#383838"/>
<rect x="1896.7" y="1264.9" width="1.4" height="4" fill="#555"/>
<rect x="1896.7" y="1273" width="1.4" height="3.8" fill="#555"/>
<rect x="1886" y="1280.8" width="1.8" height="3" fill="#666"/>
<rect x="1964" y="1264.6" width="5.5" height="3.8" fill="#909090"/>
<rect x="1964.5" y="1273" width="4.5" height="3.6" fill="#8a8a8a"/>
<rect x="1970" y="1263" width="4.4" height="10" fill="#383838"/>
<rect x="1963" y="1280.6" width="1" height="3" fill="#777"/>
<rect x="1980.2" y="1263" width="24.8" height="29.9" fill="#000"/>
<rect x="1984" y="1266.8" width="21" height="26.1" fill="#828282"/>
<rect x="2000.5" y="1265" width="5.3" height="8.7" fill="#3a3a3a"/>
<rect x="2006" y="1262.2" width="4.9" height="7.7" fill="#353535"/>
<rect x="2007.4" y="1263.6" width="2.2" height="2" fill="#888"/>
<rect x="2036.2" y="1263" width="5.6" height="9.9" fill="#383838"/>
<rect x="2046.7" y="1264.9" width="1.4" height="4" fill="#555"/>
<rect x="2046.7" y="1273" width="1.4" height="3.8" fill="#555"/>
<rect x="2036" y="1280.8" width="1.8" height="3" fill="#666"/>
<rect x="1194" y="1299.6" width="5.5" height="3.8" fill="#909090"/>
<rect x="1194.5" y="1308" width="4.5" height="3.6" fill="#8a8a8a"/>
<rect x="1200" y="1298" width="4.4" height="10" fill="#383838"/>
<rect x="1193" y="1315.6" width="1" height="3" fill="#777"/>
<rect x="1210.2" y="1298" width="24.8" height="29.9" fill="#000"/>
<rect x="1214" y="1301.8" width="21" height="26.1" fill="#828282"/>
<rect x="1230.5" y="1300" width="5.3" height="8.7" fill="#3a3a3a"/>
<rect x="1236" y="1297.2" width="4.9" height="7.7" fill="#353535"/>
<rect x="1237.4" y="1298.6" width="2.2" height="2" fill="#888"/>
<rect x="1266.2" y="1298" width="5.6" height="9.9" fill="#383838"/>
<rect x="1276.7" y="1299.9" width="1.4" height="4" fill="#555"/>
<rect x="1276.7" y="1308" width="1.4" height="3.8" fill="#555"/>
<rect x="1266" y="1315.8" width="1.8" height="3" fill="#666"/>
<rect x="1349" y="1299.6" width="5.5" height="3.8" fill="#909090"/>
<rect x="1349.5" y="1308" width="4.5" height="3.6" fill="#8a8a8a"/>
<rect x="1355" y="1298" width="4.4" height="10" fill="#383838"/>
<rect x="1348" y="1315.6" width="1" height="3" fill="#777"/>
<rect x="1365.2" y="1298" width="24.8" height="29.9" fill="#000"/>
<rect x="1369" y="1301.8" width="21" height="26.1" fill="#828282"/>
<rect x="1385.5" y="1300" width="5.3" height="8.7" fill="#3a3a3a"/>
<rect x="1391" y="1297.2" width="4.9" height="7.7" fill="#353535"/>
<rect x="1392.4" y="1298.6" width="2.2" height="2" fill="#888"/>
<rect x="1421.2" y="1298" width="5.6" height="9.9" fill="#383838"/>
<rect x="1431.7" y="1299.9" width="1.4" height="4" fill="#555"/>
<rect x="1431.7" y="1308" width="1.4" height="3.8" fill="#555"/>
<rect x="1421" y="1315.8" width="1.8" height="3" fill="#666"/>
<rect x="1504" y="1299.6" width="5.5" height="3.8" fill="#909090"/>
<rect x="1504.5" y="1308" width="4.5" height="3.6" fill="#8a8a8a"/>
<rect x="1510" y="1298" width="4.4" height="10" fill="#383838"/>
<rect x="1503" y="1315.6" width="1" height="3" fill="#777"/>
<rect x="1520.2" y="1298" width="24.8" height="29.9" fill="#000"/>
<rect x="1524" y="1301.8" width="21" height="26.1" fill="#828282"/>
<rect x="1540.5" y="1300" width="5.3" height="8.7" fill="#3a3a3a"/>
<rect x="1546" y="1297.2" width="4.9" height="7.7" fill="#353535"/>
<rect x="1547.4" y="1298.6" width="2.2" height="2" fill="#888"/>
<rect x="1576.2" y="1298" width="5.6" height="9.9" fill="#383838"/>
<rect x="1586.7" y="1299.9" width="1.4" height="4" fill="#555"/>
<rect x="1586.7" y="1308" width="1.4" height="3.8" fill="#555"/>
<rect x="1576" y="1315.8" width="1.8" height="3" fill="#666"/>
<rect x="1659" y="1299.6" width="5.5" height="3.8" fill="#909090"/>
<rect x="1659.5" y="1308" width="4.5" height="3.6" fill="#8a8a8a"/>
<rect x="1665" y="1298" width="4.4" height="10" fill="#383838"/>
<rect x="1658" y="1315.6" width="1" height="3" fill="#777"/>
<rect x="1675.2" y="1298" width="24.8" height="29.9" fill="#000"/>
<rect x="1679" y="1301.8" width="21" height="26.1" fill="#828282"/>
<rect x="1695.5" y="1300" width="5.3" height="8.7" fill="#3a3a3a"/>
<rect x="1701" y="1297.2" width="4.9" height="7.7" fill="#353535"/>
<rect x="1702.4" y="1298.6" width="2.2" height="2" fill="#888"/>
<rect x="1731.2" y="1298" width="5.6" height="9.9" fill="#383838"/>
<rect x="1741.7" y="1299.9" width="1.4" height="4" fill="#555"/>
<rect x="1741.7" y="1308" width="1.4" height="3.8" fill="#555"/>
<rect x="1731" y="1315.8" width="1.8" height="3" fill="#666"/>
<rect x="1814" y="1299.6" width="5.5" height="3.8" fill="#909090"/>
<rect x="1814.5" y="1308" width="4.5" height="3.6" fill="#8a8a8a"/>
<rect x="1820" y="1298" width="4.4" height="10" fill="#383838"/>
<rect x="1813" y="1315.6" width="1" height="3" fill="#777"/>
<rect x="1830.2" y="1298" width="24.8" height="29.9" fill="#000"/>
<rect x="1834" y="1301.8" width="21" height="26.1" fill="#828282"/>
<rect x="1850.5" y="1300" width="5.3" height="8.7" fill="#3a3a3a"/>
<rect x="1856" y="1297.2" width="4.9" height="7.7" fill="#353535"/>
<rect x="1857.4" y="1298.6" width="2.2" height="2" fill="#888"/>
<rect x="1886.2" y="1298" width="5.6" height="9.9" fill="#383838"/>
<rect x="1896.7" y="1299.9" width="1.4" height="4" fill="#555"/>
<rect x="1896.7" y="1308" width="1.4" height="3.8" fill="#555"/>
<rect x="1886" y="1315.8" width="1.8" height="3" fill="#666"/>
<rect x="1964" y="1299.6" width="5.5" height="3.8" fill="#909090"/>
<rect x="1964.5" y="1308" width="4.5" height="3.6" fill="#8a8a8a"/>
<rect x="1970" y="1298" width="4.4" height="10" fill="#383838"/>
<rect x="1963" y="1315.6" width="1" height="3" fill="#777"/>
<rect x="1980.2" y="1298" width="24.8" height="29.9" fill="#000"/>
<rect x="1984" y="1301.8" width="21" height="26.1" fill="#828282"/>
<rect x="2000.5" y="1300" width="5.3" height="8.7" fill="#3a3a3a"/>
<rect x="2006" y="1297.2" width="4.9" height="7.7" fill="#353535"/>
<rect x="2007.4" y="1298.6" width="2.2" height="2" fill="#888"/>
<rect x="2036.2" y="1298" width="5.6" height="9.9" fill="#383838"/>
<rect x="2046.7" y="1299.9" width="1.4" height="4" fill="#555"/>
<rect x="2046.7" y="1308" width="1.4" height="3.8" fill="#555"/>
<rect x="2036" y="1315.8" width="1.8" height="3" fill="#666"/>
<rect x="1194" y="1334.6" width="5.5" height="3.8" fill="#909090"/>
<rect x="1194.5" y="1343" width="4.5" height="3.6" fill="#8a8a8a"/>
<rect x="1200" y="1333" width="4.4" height="10" fill="#383838"/>
<rect x="1193" y="1350.6" width="1" height="3" fill="#777"/>
<rect x="1210.2" y="1333" width="24.8" height="29.9" fill="#000"/>
<rect x="1214" y="1336.8" width="21" height="26.1" fill="#828282"/>
<rect x="1230.5" y="1335" width="5.3" height="8.7" fill="#3a3a3a"/>
<rect x="1236" y="1332.2" width="4.9" height="7.7" fill="#353535"/>
<rect x="1237.4" y="1333.6" width="2.2" height="2" fill="#888"/>
<rect x="1266.2" y="1333" width="5.6" height="9.9" fill="#383838"/>
<rect x="1276.7" y="1334.9" width="1.4" height="4" fill="#555"/>
<rect x="1276.7" y="1343" width="1.4" height="3.8" fill="#555"/>
<rect x="1266" y="1350.8" width="1.8" height="3" fill="#666"/>
<rect x="1349" y="1334.6" width="5.5" height="3.8" fill="#909090"/>
<rect x="1349.5" y="1343" width="4.5" height="3.6" fill="#8a8a8a"/>
<rect x="1355" y="1333" width="4.4" height="10" fill="#383838"/>
<rect x="1348" y="1350.6" width="1" height="3" fill="#777"/>
<rect x="1365.2" y="1333" width="24.8" height="29.9" fill="#000"/>
<rect x="1369" y="1336.8" width="21" height="26.1" fill="#828282"/>
<rect x="1385.5" y="1335" width="5.3" height="8.7" fill="#3a3a3a"/>
<rect x="1391" y="1332.2" width="4.9" height="7.7" fill="#353535"/>
<rect x="1392.4" y="1333.6" width="2.2" height="2" fill="#888"/>
<rect x="1421.2" y="1333" width="5.6" height="9.9" fill="#383838"/>
<rect x="1431.7" y="1334.9" width="1.4" height="4" fill="#555"/>
<rect x="1431.7" y="1343" width="1.4" height="3.8" fill="#555"/>
<rect x="1421" y="1350.8" width="1.8" height="3" fill="#666"/>
<rect x="1504" y="1334.6" width="5.5" height="3.8" fill="#909090"/>
<rect x="1504.5" y="1343" width="4.5" height="3.6" fill="#8a8a8a"/>
<rect x="1510" y="1333" width="4.4" height="10" fill="#383838"/>
<rect x="1503" y="1350.6" width="1" height="3" fill="#777"/>
<rect x="1520.2" y="1333" width="24.8" height="29.9" fill="#000"/>
<rect x="1524" y="1336.8" width="21" height="26.1" fill="#828282"/>
<rect x="1540.5" y="1335" width="5.3" height="8.7" fill="#3a3a3a"/>
<rect x="1546" y="1332.2" width="4.9" height="7.7" fill="#353535"/>
<rect x="1547.4" y="1333.6" width="2.2" height="2" fill="#888"/>
<rect x="1576.2" y="1333" width="5.6" height="9.9" fill="#383838"/>
<rect x="1586.7" y="1334.9" width="1.4" height="4" fill="#555"/>
<rect x="1586.7" y="1343" width="1.4" height="3.8" fill="#555"/>
<rect x="1576" y="1350.8" width="1.8" height="3" fill="#666"/>
<rect x="1659" y="1334.6" width="5.5" height="3.8" fill="#909090"/>
<rect x="1659.5" y="1343" width="4.5" height="3.6" fill="#8a8a8a"/>
<rect x="1665" y="1333" width="4.4" height="10" fill="#383838"/>
<rect x="1658" y="1350.6" width="1" height="3" fill="#777"/>
<rect x="1675.2" y="1333" width="24.8" height="29.9" fill="#000"/>
<rect x="1679" y="1336.8" width="21" height="26.1" fill="#828282"/>
<rect x="1695.5" y="1335" width="5.3" height="8.7" fill="#3a3a3a"/>
<rect x="1701" y="1332.2" width="4.9" height="7.7" fill="#353535"/>
<rect x="1702.4" y="1333.6" width="2.2" height="2" fill="#888"/>
<rect x="1731.2" y="1333" width="5.6" height="9.9" fill="#383838"/>
<rect x="1741.7" y="1334.9" width="1.4" height="4" fill="#555"/>
<rect x="1741.7" y="1343" width="1.4" height="3.8" fill="#555"/>
<rect x="1731" y="1350.8" width="1.8" height="3" fill="#666"/>
<rect x="1814" y="1334.6" width="5.5" height="3.8" fill="#909090"/>
<rect x="1814.5" y="1343" width="4.5" height="3.6" fill="#8a8a8a"/>
<rect x="1820" y="1333" width="4.4" height="10" fill="#383838"/>
<rect x="1813" y="1350.6" width="1" height="3" fill="#777"/>
<rect x="1830.2" y="1333" width="24.8" height="29.9" fill="#000"/>
<rect x="1834" y="1336.8" width="21" height="26.1" fill="#828282"/>
<rect x="1850.5" y="1335" width="5.3" height="8.7" fill="#3a3a3a"/>
<rect x="1856" y="1332.2" width="4.9" height="7.7" fill="#353535"/>
<rect x="1857.4" y="1333.6" width="2.2" height="2" fill="#888"/>
<rect x="1886.2" y="1333" width="5.6" height="9.9" fill="#383838"/>
<rect x="1896.7" y="1334.9" width="1.4" height="4" fill="#555"/>
<rect x="1896.7" y="1343" width="1.4" height="3.8" fill="#555"/>
<rect x="1886" y="1350.8" width="1.8" height="3" fill="#666"/>
<rect x="1964" y="1334.6" width="5.5" height="3.8" fill="#909090"/>
<rect x="1964.5" y="1343" width="4.5" height="3.6" fill="#8a8a8a"/>
<rect x="1970" y="1333" width="4.4" height="10" fill="#383838"/>
<rect x="1963" y="1350.6" width="1" height="3" fill="#777"/>
<rect x="1980.2" y="1333" width="24.8" height="29.9" fill="#000"/>
<rect x="1984" y="1336.8" width="21" height="26.1" fill="#828282"/>
<rect x="2000.5" y="1335" width="5.3" height="8.7" fill="#3a3a3a"/>
<rect x="2006" y="1332.2" width="4.9" height="7.7" fill="#353535"/>
<rect x="2007.4" y="1333.6" width="2.2" height="2" fill="#888"/>
<rect x="2036.2" y="1333" width="5.6" height="9.9" fill="#383838"/>
<rect x="2046.7" y="1334.9" width="1.4" height="4" fill="#555"/>
<rect x="2046.7" y="1343" width="1.4" height="3.8" fill="#555"/>
<rect x="2036" y="1350.8" width="1.8" height="3" fill="#666"/>
<rect x="1194" y="1369.6" width="5.5" height="3.8" fill="#909090"/>
<rect x="1194.5" y="1378" width="4.5" height="3.6" fill="#8a8a8a"/>
<rect x="1200" y="1368" width="4.4" height="10" fill="#383838"/>
<rect x="1193" y="1385.6" width="1" height="3" fill="#777"/>
<rect x="1210.2" y="1368" width="24.8" height="29.9" fill="#000"/>
<rect x="1214" y="1371.8" width="21" height="26.1" fill="#828282"/>
<rect x="1230.5" y="1370" width="5.3" height="8.7" fill="#3a3a3a"/>
<rect x="1236" y="1367.2" width="4.9" height="7.7" fill="#353535"/>
<rect x="1237.4" y="1368.6" width="2.2" height="2" fill="#888"/>
<rect x="1266.2" y="1368" width="5.6" height="9.9" fill="#383838"/>
<rect x="1276.7" y="1369.9" width="1.4" height="4" fill="#555"/>
<rect x="1276.7" y="1378" width="1.4" height="3.8" fill="#555"/>
<rect x="1266" y="1385.8" width="1.8" height="3" fill="#666"/>
<rect x="1349" y="1369.6" width="5.5" height="3.8" fill="#909090"/>
<rect x="1349.5" y="1378" width="4.5" height="3.6" fill="#8a8a8a"/>
<rect x="1355" y="1368" width="4.4" height="10" fill="#383838"/>
<rect x="1348" y="1385.6" width="1" height="3" fill="#777"/>
<rect x="1365.2" y="1368" width="24.8" height="29.9" fill="#000"/>
<rect x="1369" y="1371.8" width="21" height="26.1" fill="#828282"/>
<rect x="1385.5" y="1370" width="5.3" height="8.7" fill="#3a3a3a"/>
<rect x="1391" y="1367.2" width="4.9" height="7.7" fill="#353535"/>
<rect x="1392.4" y="1368.6" width="2.2" height="2" fill="#888"/>
<rect x="1421.2" y="1368" width="5.6" height="9.9" fill="#383838"/>
<rect x="1431.7" y="1369.9" width="1.4" height="4" fill="#555"/>
<rect x="1431.7" y="1378" width="1.4" height="3.8" fill="#555"/>
<rect x="1421" y="1385.8" width="1.8" height="3" fill="#666"/>
<rect x="1504" y="1369.6" width="5.5" height="3.8" fill="#909090"/>
<rect x="1504.5" y="1378" width="4.5" height="3.6" fill="#8a8a8a"/>
<rect x="1510" y="1368" width="4.4" height="10" fill="#383838"/>
<rect x="1503" y="1385.6" width="1" height="3" fill="#777"/>
<rect x="1520.2" y="1368" width="24.8" height="29.9" fill="#000"/>
<rect x="1524" y="1371.8" width="21" height="26.1" fill="#828282"/>
<rect x="1540.5" y="1370" width="5.3" height="8.7" fill="#3a3a3a"/>
<rect x="1546" y="1367.2" width="4.9" height="7.7" fill="#353535"/>
<rect x="1547.4" y="1368.6" width="2.2" height="2" fill="#888"/>
<rect x="1576.2" y="1368" width="5.6" height="9.9" fill="#383838"/>
<rect x="1586.7" y="1369.9" width="1.4" height="4" fill="#555"/>
<rect x="1586.7" y="1378" width="1.4" height="3.8" fill="#555"/>
<rect x="1576" y="1385.8" width="1.8" height="3" fill="#666"/>
<rect x="1659" y="1369.6" width="5.5" height="3.8" fill="#909090"/>
<rect x="1659.5" y="1378" width="4.5" height="3.6" fill="#8a8a8a"/>
<rect x="1665" y="1368" width="4.4" height="10" fill="#383838"/>
<rect x="1658" y="1385.6" width="1" height="3" fill="#777"/>
<rect x="1675.2" y="1368" width="24.8" height="29.9" fill="#000"/>
<rect x="1679" y="1371.8" width="21" height="26.1" fill="#828282"/>
<rect x="1695.5" y="1370" width="5.3" height="8.7" fill="#3a3a3a"/>
<rect x="1701" y="1367.2" width="4.9" height="7.7" fill="#353535"/>
<rect x="1702.4" y="1368.6" width="2.2" height="2" fill="#888"/>
<rect x="1731.2" y="1368" width="5.6" height="9.9" fill="#383838"/>
<rect x="1741.7" y="1369.9" width="1.4" height="4" fill="#555"/>
<rect x="1741.7" y="1378" width="1.4" height="3.8" fill="#555"/>
<rect x="1731" y="1385.8" width="1.8" height="3" fill="#666"/>
<rect x="1814" y="1369.6" width="5.5" height="3.8" fill="#909090"/>
<rect x="1814.5" y="1378" width="4.5" height="3.6" fill="#8a8a8a"/>
<rect x="1820" y="1368" width="4.4" height="10" fill="#383838"/>
<rect x="1813" y="1385.6" width="1" height="3" fill="#777"/>
<rect x="1830.2" y="1368" width="24.8" height="29.9" fill="#000"/>
<rect x="1834" y="1371.8" width="21" height="26.1" fill="#828282"/>
<rect x="1850.5" y="1370" width="5.3" height="8.7" fill="#3a3a3a"/>
<rect x="1856" y="1367.2" width="4.9" height="7.7" fill="#353535"/>
<rect x="1857.4" y="1368.6" width="2.2" height="2" fill="#888"/>
<rect x="1886.2" y="1368" width="5.6" height="9.9" fill="#383838"/>
<rect x="1896.7" y="1369.9" width="1.4" height="4" fill="#555"/>
<rect x="1896.7" y="1378" width="1.4" height="3.8" fill="#555"/>
<rect x="1886" y="1385.8" width="1.8" height="3" fill="#666"/>
<rect x="1964" y="1369.6" width="5.5" height="3.8" fill="#909090"/>
<rect x="1964.5" y="1378" width="4.5" height="3.6" fill="#8a8a8a"/>
<rect x="1970" y="1368" width="4.4" height="10" fill="#383838"/>
<rect x="1963" y="1385.6" width="1" height="3" fill="#777"/>
<rect x="1980.2" y="1368" width="24.8" height="29.9" fill="#000"/>
<rect x="1984" y="1371.8" width="21" height="26.1" fill="#828282"/>
<rect x="2000.5" y="1370" width="5.3" height="8.7" fill="#3a3a3a"/>
<rect x="2006" y="1367.2" width="4.9" height="7.7" fill="#353535"/>
<rect x="2007.4" y="1368.6" width="2.2" height="2" fill="#888"/>
<rect x="2036.2" y="1368" width="5.6" height="9.9" fill="#383838"/>
<rect x="2046.7" y="1369.9" width="1.4" height="4" fill="#555"/>
<rect x="2046.7" y="1378" width="1.4" height="3.8" fill="#555"/>
<rect x="2036" y="1385.8" width="1.8" height="3" fill="#666"/>
<rect x="66.8" y="938" width="133.7" height="15" fill="#a9a9a9" stroke="#4a4a4a" stroke-width="0.8"/>
<path d="M156.2 938L156.2 953" stroke="#333" stroke-width="1"/>
<rect x="206.35" y="963.25" width="84.5" height="14" fill="#a9a9a9" stroke="#4a4a4a" stroke-width="0.8" transform="rotate(30.2 248.6 970.25)"/>
<rect x="222.4" y="929.7" width="9.4" height="17" fill="#ffffff"/>
<rect x="223.6" y="930.9" width="7" height="14.6" fill="#a9a9a9" stroke="#3a3a3a" stroke-width="0.8"/>
<text x="227.1" y="937" font-size="7.5" fill="#2e2e2e" font-weight="bold" text-anchor="middle">B</text>
<path d="M223.2 938.2L231 938.2" stroke="#444" stroke-width="0.7"/>
<text x="227.1" y="944.7" font-size="7.5" fill="#2e2e2e" font-weight="bold" text-anchor="middle">A</text>
<text x="208.5" y="936" font-size="7.5" fill="#484848" text-anchor="middle" transform="rotate(25 208.5 936)" dominant-baseline="central">FL4-4</text>
<text x="281" y="1004.5" font-size="7.5" fill="#484848" text-anchor="middle" transform="rotate(25 281 1004.5)" dominant-baseline="central">FL4-2</text>
<rect x="66.8" y="982" width="133.7" height="15" fill="#a9a9a9" stroke="#4a4a4a" stroke-width="0.8"/>
<path d="M156.2 982L156.2 997" stroke="#333" stroke-width="1"/>
<rect x="206.35" y="1006.85" width="84.5" height="14" fill="#a9a9a9" stroke="#4a4a4a" stroke-width="0.8" transform="rotate(30.2 248.6 1013.85)"/>
<rect x="222.4" y="973.3" width="9.4" height="17" fill="#ffffff"/>
<rect x="223.6" y="974.5" width="7" height="14.6" fill="#a9a9a9" stroke="#3a3a3a" stroke-width="0.8"/>
<text x="227.1" y="980.6" font-size="7.5" fill="#2e2e2e" font-weight="bold" text-anchor="middle">B</text>
<path d="M223.2 981.8L231 981.8" stroke="#444" stroke-width="0.7"/>
<text x="227.1" y="988.3" font-size="7.5" fill="#2e2e2e" font-weight="bold" text-anchor="middle">A</text>
<text x="208.5" y="979.6" font-size="7.5" fill="#484848" text-anchor="middle" transform="rotate(25 208.5 979.6)" dominant-baseline="central">FL3-4</text>
<text x="281" y="1048.1" font-size="7.5" fill="#484848" text-anchor="middle" transform="rotate(25 281 1048.1)" dominant-baseline="central">FL3-2</text>
<rect x="66.8" y="1025.5" width="133.7" height="15" fill="#a9a9a9" stroke="#4a4a4a" stroke-width="0.8"/>
<path d="M156.2 1025.5L156.2 1040.5" stroke="#333" stroke-width="1"/>
<rect x="206.35" y="1050.45" width="84.5" height="14" fill="#a9a9a9" stroke="#4a4a4a" stroke-width="0.8" transform="rotate(30.2 248.6 1057.45)"/>
<rect x="222.4" y="1016.9" width="9.4" height="17" fill="#ffffff"/>
<rect x="223.6" y="1018.1" width="7" height="14.6" fill="#a9a9a9" stroke="#3a3a3a" stroke-width="0.8"/>
<text x="227.1" y="1024.2" font-size="7.5" fill="#2e2e2e" font-weight="bold" text-anchor="middle">B</text>
<path d="M223.2 1025.4L231 1025.4" stroke="#444" stroke-width="0.7"/>
<text x="227.1" y="1031.9" font-size="7.5" fill="#2e2e2e" font-weight="bold" text-anchor="middle">A</text>
<text x="208.5" y="1023.2" font-size="7.5" fill="#484848" text-anchor="middle" transform="rotate(25 208.5 1023.2)" dominant-baseline="central">FL2-4</text>
<text x="281" y="1091.7" font-size="7.5" fill="#484848" text-anchor="middle" transform="rotate(25 281 1091.7)" dominant-baseline="central">FL2-2</text>
<rect x="66.8" y="1069" width="133.7" height="15" fill="#a9a9a9" stroke="#4a4a4a" stroke-width="0.8"/>
<path d="M156.2 1069L156.2 1084" stroke="#333" stroke-width="1"/>
<rect x="206.35" y="1094.05" width="84.5" height="14" fill="#a9a9a9" stroke="#4a4a4a" stroke-width="0.8" transform="rotate(30.2 248.6 1101.05)"/>
<rect x="222.4" y="1060.5" width="9.4" height="17" fill="#ffffff"/>
<rect x="223.6" y="1061.7" width="7" height="14.6" fill="#a9a9a9" stroke="#3a3a3a" stroke-width="0.8"/>
<text x="227.1" y="1067.8" font-size="7.5" fill="#2e2e2e" font-weight="bold" text-anchor="middle">B</text>
<path d="M223.2 1069L231 1069" stroke="#444" stroke-width="0.7"/>
<text x="227.1" y="1075.5" font-size="7.5" fill="#2e2e2e" font-weight="bold" text-anchor="middle">A</text>
<text x="208.5" y="1066.8" font-size="7.5" fill="#484848" text-anchor="middle" transform="rotate(25 208.5 1066.8)" dominant-baseline="central">FL1-4</text>
<text x="281" y="1135.3" font-size="7.5" fill="#484848" text-anchor="middle" transform="rotate(25 281 1135.3)" dominant-baseline="central">FL1-2</text>
<rect x="296.2" y="987" width="324.6" height="15.2" fill="#a9a9a9" stroke="#4a4a4a" stroke-width="0.8"/>
<rect x="302.4" y="970.4" width="9.4" height="17.2" fill="#ffffff"/>
<rect x="303.6" y="971.6" width="7" height="14.8" fill="#a9a9a9" stroke="#3a3a3a" stroke-width="0.8"/>
<text x="307.1" y="977.8" font-size="7.5" fill="#2e2e2e" font-weight="bold" text-anchor="middle">H</text>
<path d="M303.2 979L311 979" stroke="#444" stroke-width="0.7"/>
<text x="307.1" y="985.6" font-size="7.5" fill="#2e2e2e" font-weight="bold" text-anchor="middle">A</text>
<rect x="442.4" y="977.6" width="9.4" height="9.8" fill="#ffffff"/>
<rect x="443.6" y="978.8" width="7" height="7.4" fill="#a9a9a9" stroke="#3a3a3a" stroke-width="0.8"/>
<text x="447.1" y="985.2" font-size="7.5" fill="#2e2e2e" font-weight="bold" text-anchor="middle">A</text>
<rect x="296.2" y="1030.2" width="324.6" height="15.2" fill="#a9a9a9" stroke="#4a4a4a" stroke-width="0.8"/>
<rect x="302.4" y="1013.6" width="9.4" height="17.2" fill="#ffffff"/>
<rect x="303.6" y="1014.8" width="7" height="14.8" fill="#a9a9a9" stroke="#3a3a3a" stroke-width="0.8"/>
<text x="307.1" y="1021" font-size="7.5" fill="#2e2e2e" font-weight="bold" text-anchor="middle">H</text>
<path d="M303.2 1022.2L311 1022.2" stroke="#444" stroke-width="0.7"/>
<text x="307.1" y="1028.8" font-size="7.5" fill="#2e2e2e" font-weight="bold" text-anchor="middle">A</text>
<rect x="442.4" y="1020.8" width="9.4" height="9.8" fill="#ffffff"/>
<rect x="443.6" y="1022" width="7" height="7.4" fill="#a9a9a9" stroke="#3a3a3a" stroke-width="0.8"/>
<text x="447.1" y="1028.4" font-size="7.5" fill="#2e2e2e" font-weight="bold" text-anchor="middle">A</text>
<rect x="296.2" y="1074" width="324.6" height="15.2" fill="#a9a9a9" stroke="#4a4a4a" stroke-width="0.8"/>
<rect x="302.4" y="1057.4" width="9.4" height="17.2" fill="#ffffff"/>
<rect x="303.6" y="1058.6" width="7" height="14.8" fill="#a9a9a9" stroke="#3a3a3a" stroke-width="0.8"/>
<text x="307.1" y="1064.8" font-size="7.5" fill="#2e2e2e" font-weight="bold" text-anchor="middle">H</text>
<path d="M303.2 1066L311 1066" stroke="#444" stroke-width="0.7"/>
<text x="307.1" y="1072.6" font-size="7.5" fill="#2e2e2e" font-weight="bold" text-anchor="middle">A</text>
<rect x="442.4" y="1064.6" width="9.4" height="9.8" fill="#ffffff"/>
<rect x="443.6" y="1065.8" width="7" height="7.4" fill="#a9a9a9" stroke="#3a3a3a" stroke-width="0.8"/>
<text x="447.1" y="1072.2" font-size="7.5" fill="#2e2e2e" font-weight="bold" text-anchor="middle">A</text>
<rect x="296.2" y="1117.2" width="324.6" height="15.2" fill="#a9a9a9" stroke="#4a4a4a" stroke-width="0.8"/>
<rect x="302.4" y="1100.6" width="9.4" height="17.2" fill="#ffffff"/>
<rect x="303.6" y="1101.8" width="7" height="14.8" fill="#a9a9a9" stroke="#3a3a3a" stroke-width="0.8"/>
<text x="307.1" y="1108" font-size="7.5" fill="#2e2e2e" font-weight="bold" text-anchor="middle">H</text>
<path d="M303.2 1109.2L311 1109.2" stroke="#444" stroke-width="0.7"/>
<text x="307.1" y="1115.8" font-size="7.5" fill="#2e2e2e" font-weight="bold" text-anchor="middle">A</text>
<rect x="442.4" y="1107.8" width="9.4" height="9.8" fill="#ffffff"/>
<rect x="443.6" y="1109" width="7" height="7.4" fill="#a9a9a9" stroke="#3a3a3a" stroke-width="0.8"/>
<text x="447.1" y="1115.4" font-size="7.5" fill="#2e2e2e" font-weight="bold" text-anchor="middle">A</text>
<rect x="651.2" y="1117.2" width="184.3" height="15.3" fill="#a9a9a9" stroke="#4a4a4a" stroke-width="0.8"/>
<rect x="1034.7" y="1117.2" width="1014" height="15.3" fill="#a9a9a9" stroke="#4a4a4a" stroke-width="0.8" rx="1.5"/>
<path d="M1329.3 1117.2L1329.3 1132.5" stroke="#333" stroke-width="1"/>
<path d="M1688.3 1117.2L1688.3 1132.5" stroke="#333" stroke-width="1"/>
<rect x="870.3" y="939" width="15.5" height="163.5" fill="#808080" stroke="#4a4a4a" stroke-width="0.8" rx="1"/>
<text x="880.05" y="1007" font-size="6.5" fill="#464646" text-anchor="middle" transform="rotate(-90 880.05 1007)">PRS1-6</text>
<rect x="850.3" y="980.2" width="15.5" height="122.3" fill="#a9a9a9" stroke="#4a4a4a" stroke-width="0.8" rx="1.5"/>
<rect x="862.5" y="949.5" width="17" height="17" fill="#a9a9a9" stroke="#4a4a4a" stroke-width="0.8" transform="rotate(-42 871 958)"/>
<path d="M870.2 818L870.2 890.5" stroke="#d0d0d0" stroke-width="0.8"/>
<text x="854.5" y="956.5" font-size="8" fill="#484848" text-anchor="middle" transform="rotate(-42 854.5 956.5)" dominant-baseline="central">PRS2-3CH</text>
<text x="855.5" y="1130.5" font-size="8" fill="#484848" text-anchor="middle" transform="rotate(-42 855.5 1130.5)" dominant-baseline="central">PRS2-2</text>
<text x="878" y="1130.5" font-size="8" fill="#484848" text-anchor="middle" transform="rotate(48 878 1130.5)" dominant-baseline="central">PRS1-4</text>
<rect x="236.3" y="1510.6" width="798.2" height="15.1" fill="#a9a9a9" stroke="#4a4a4a" stroke-width="0.8"/>
<path d="M475.6 1510.6L475.6 1525.7" stroke="#333" stroke-width="1"/>
<path d="M875.6 1510.6L875.6 1525.7" stroke="#333" stroke-width="1"/>
<rect x="1169.3" y="1510.6" width="955.4" height="15.1" fill="#a9a9a9" stroke="#4a4a4a" stroke-width="0.8"/>
<path d="M1473.3 1510.6L1473.3 1525.7" stroke="#333" stroke-width="1"/>
<path d="M1798.3 1510.6L1798.3 1525.7" stroke="#333" stroke-width="1"/>
<rect x="2153.2" y="910" width="14.6" height="607.5" fill="#a9a9a9" stroke="#4a4a4a" stroke-width="0.8"/>
<path d="M2153.2 1122L2167.8 1122" stroke="#333" stroke-width="1"/>
<path d="M2153.2 1309L2167.8 1309" stroke="#333" stroke-width="1"/>
<rect x="2203.4" y="654" width="15.5" height="213.3" fill="#a9a9a9" stroke="#4a4a4a" stroke-width="0.8" rx="1.5"/>
<rect x="2172.2" y="890.2" width="150.5" height="15.5" fill="#a9a9a9" stroke="#4a4a4a" stroke-width="0.8" rx="1.5"/>
<rect x="2185.1" y="751" width="15.8" height="476.5" fill="#808080" stroke="#4a4a4a" stroke-width="0.8" rx="1.5"/>
<path d="M2185.1 1092L2200.9 1092" stroke="#333" stroke-width="1"/>
<text x="2195" y="927" font-size="6.5" fill="#464646" text-anchor="middle" transform="rotate(-90 2195 927)">PS3-2</text>
<text x="2195" y="1160" font-size="6.5" fill="#464646" text-anchor="middle" transform="rotate(-90 2195 1160)">PS3-2</text>
<path d="M2331.25 902.75L2362.7 885.3L2355.6 872.6L2324.1 889.9Z" fill="#a9a9a9" stroke="#4a4a4a" stroke-width="0.8"/>
<rect x="2256.2" y="775.2" width="15.7" height="97.2" fill="#a9a9a9" stroke="#4a4a4a" stroke-width="0.8" rx="1.5"/>
<rect x="2276.2" y="756.5" width="758.6" height="14.1" fill="#a9a9a9" stroke="#4a4a4a" stroke-width="0.8"/>
<path d="M2500.2 756.5L2500.2 770.6" stroke="#333" stroke-width="1"/>
<path d="M2750.2 756.5L2750.2 770.6" stroke="#333" stroke-width="1"/>
<rect x="3119.2" y="756.5" width="861.6" height="14.1" fill="#a9a9a9" stroke="#4a4a4a" stroke-width="0.8"/>
<path d="M3394.5 756.5L3394.5 770.6" stroke="#333" stroke-width="1"/>
<path d="M3703.3 756.5L3703.3 770.6" stroke="#333" stroke-width="1"/>
<rect x="2302.3" y="717.2" width="23.8" height="39.3" fill="#a9a9a9" stroke="#555" stroke-width="0.8"/>
<rect x="2305" y="720" width="18.2" height="34" fill="#000"/>
<rect x="2391.3" y="717.2" width="23.8" height="39.3" fill="#a9a9a9" stroke="#555" stroke-width="0.8"/>
<rect x="2394" y="720" width="18.2" height="34" fill="#000"/>
<rect x="2452.3" y="717.2" width="23.8" height="39.3" fill="#a9a9a9" stroke="#555" stroke-width="0.8"/>
<rect x="2455" y="720" width="18.2" height="34" fill="#000"/>
<rect x="2548.3" y="717.2" width="23.8" height="39.3" fill="#a9a9a9" stroke="#555" stroke-width="0.8"/>
<rect x="2551" y="720" width="18.2" height="34" fill="#000"/>
<rect x="2611.3" y="717.2" width="23.8" height="39.3" fill="#a9a9a9" stroke="#555" stroke-width="0.8"/>
<rect x="2614" y="720" width="18.2" height="34" fill="#000"/>
<rect x="2706.3" y="717.2" width="23.8" height="39.3" fill="#a9a9a9" stroke="#555" stroke-width="0.8"/>
<rect x="2709" y="720" width="18.2" height="34" fill="#000"/>
<rect x="2769.3" y="717.2" width="23.8" height="39.3" fill="#a9a9a9" stroke="#555" stroke-width="0.8"/>
<rect x="2772" y="720" width="18.2" height="34" fill="#000"/>
<rect x="2865.3" y="717.2" width="23.8" height="39.3" fill="#a9a9a9" stroke="#555" stroke-width="0.8"/>
<rect x="2868" y="720" width="18.2" height="34" fill="#000"/>
<rect x="2929.3" y="717.2" width="23.8" height="39.3" fill="#a9a9a9" stroke="#555" stroke-width="0.8"/>
<rect x="2932" y="720" width="18.2" height="34" fill="#000"/>
<rect x="2996.3" y="717.2" width="23.8" height="39.3" fill="#a9a9a9" stroke="#555" stroke-width="0.8"/>
<rect x="2999" y="720" width="18.2" height="34" fill="#000"/>
<rect x="3133.3" y="717.2" width="23.8" height="39.3" fill="#a9a9a9" stroke="#555" stroke-width="0.8"/>
<rect x="3136" y="720" width="18.2" height="34" fill="#000"/>
<rect x="3193.3" y="717.2" width="23.8" height="39.3" fill="#a9a9a9" stroke="#555" stroke-width="0.8"/>
<rect x="3196" y="720" width="18.2" height="34" fill="#000"/>
<rect x="3255.3" y="717.2" width="23.8" height="39.3" fill="#a9a9a9" stroke="#555" stroke-width="0.8"/>
<rect x="3258" y="720" width="18.2" height="34" fill="#000"/>
<rect x="3350.55" y="717.2" width="23.8" height="39.3" fill="#a9a9a9" stroke="#555" stroke-width="0.8"/>
<rect x="3353.25" y="720" width="18.2" height="34" fill="#000"/>
<rect x="3412.55" y="717.2" width="23.8" height="39.3" fill="#a9a9a9" stroke="#555" stroke-width="0.8"/>
<rect x="3415.25" y="720" width="18.2" height="34" fill="#000"/>
<rect x="3508.55" y="717.2" width="23.8" height="39.3" fill="#a9a9a9" stroke="#555" stroke-width="0.8"/>
<rect x="3511.25" y="720" width="18.2" height="34" fill="#000"/>
<rect x="3570.55" y="717.2" width="23.8" height="39.3" fill="#a9a9a9" stroke="#555" stroke-width="0.8"/>
<rect x="3573.25" y="720" width="18.2" height="34" fill="#000"/>
<rect x="3666.55" y="717.2" width="23.8" height="39.3" fill="#a9a9a9" stroke="#555" stroke-width="0.8"/>
<rect x="3669.25" y="720" width="18.2" height="34" fill="#000"/>
<rect x="3729.55" y="717.2" width="23.8" height="39.3" fill="#a9a9a9" stroke="#555" stroke-width="0.8"/>
<rect x="3732.25" y="720" width="18.2" height="34" fill="#000"/>
<rect x="3824.55" y="717.2" width="23.8" height="39.3" fill="#a9a9a9" stroke="#555" stroke-width="0.8"/>
<rect x="3827.25" y="720" width="18.2" height="34" fill="#000"/>
<rect x="3888.55" y="717.2" width="23.8" height="39.3" fill="#a9a9a9" stroke="#555" stroke-width="0.8"/>
<rect x="3891.25" y="720" width="18.2" height="34" fill="#000"/>
<rect x="2223.2" y="872.2" width="852.3" height="14.4" fill="#a9a9a9" stroke="#4a4a4a" stroke-width="0.8"/>
<path d="M2557.6 872.2L2557.6 886.6" stroke="#333" stroke-width="1"/>
<path d="M2791.5 872.2L2791.5 886.6" stroke="#333" stroke-width="1"/>
<path d="M2836 872.2L2836 886.6" stroke="#333" stroke-width="1"/>
<path d="M2840.5 872.2L2840.5 886.6" stroke="#333" stroke-width="1"/>
<path d="M3033.5 872.2L3033.5 886.6" stroke="#333" stroke-width="1"/>
<path d="M3070 872.2L3070 886.6" stroke="#333" stroke-width="1"/>
<rect x="3049.2" y="785.2" width="15.6" height="76.8" fill="#a9a9a9" stroke="#4a4a4a" stroke-width="0.8" rx="1.5"/>
<rect x="3049.2" y="862" width="15.6" height="10.2" fill="#a9a9a9" stroke="#4a4a4a" stroke-width="0.8"/>
<rect x="3051.8" y="865" width="10.2" height="5" fill="#000"/>
<rect x="3104.8" y="833.2" width="929" height="15.1" fill="#a9a9a9" stroke="#4a4a4a" stroke-width="0.8" rx="1.5"/>
<path d="M3334.4 833.2L3334.4 848.3" stroke="#333" stroke-width="1"/>
<path d="M3683.5 833.2L3683.5 848.3" stroke="#333" stroke-width="1"/>
<rect x="3090.2" y="785.2" width="14.6" height="72.3" fill="#a9a9a9" stroke="#4a4a4a" stroke-width="0.8" rx="1"/>
<rect x="3985.3" y="775.2" width="14.3" height="58" fill="#a9a9a9" stroke="#4a4a4a" stroke-width="0.8"/>
<rect x="2510.2" y="886.6" width="14.4" height="335.9" fill="#a9a9a9" stroke="#4a4a4a" stroke-width="0.8"/>
<rect x="2510.2" y="1222.5" width="14.4" height="9.7" fill="#a9a9a9" stroke="#4a4a4a" stroke-width="0.8"/>
<rect x="2512.6" y="1225" width="9.6" height="5" fill="#000"/>
<rect x="2805.2" y="896.5" width="14.6" height="335.5" fill="#a9a9a9" stroke="#4a4a4a" stroke-width="0.8"/>
<rect x="2805.2" y="886.6" width="14.6" height="10" fill="#a9a9a9" stroke="#4a4a4a" stroke-width="0.8"/>
<rect x="2807.8" y="889" width="9.7" height="5" fill="#000"/>
<rect x="2205.2" y="1232.2" width="966.6" height="14.4" fill="#a9a9a9" stroke="#4a4a4a" stroke-width="0.8"/>
<path d="M2492.2 1232.2L2492.2 1246.6" stroke="#333" stroke-width="1"/>
<path d="M2531.5 1232.2L2531.5 1246.6" stroke="#333" stroke-width="1"/>
<path d="M2536.8 1232.2L2536.8 1246.6" stroke="#333" stroke-width="1"/>
<path d="M2865.2 1232.2L2865.2 1246.6" stroke="#333" stroke-width="1"/>
<path d="M3090.5 1232.2L3090.5 1246.6" stroke="#333" stroke-width="1"/>
<path d="M3134.5 1232.2L3134.5 1246.6" stroke="#333" stroke-width="1"/>
<path d="M3139.5 1232.2L3139.5 1246.6" stroke="#333" stroke-width="1"/>
<rect x="3110.2" y="1246.6" width="14.6" height="10.2" fill="#a9a9a9" stroke="#4a4a4a" stroke-width="0.8"/>
<rect x="3112.8" y="1249" width="9.7" height="5" fill="#000"/>
<rect x="2275.2" y="1246.6" width="15.5" height="140.9" fill="#a9a9a9" stroke="#4a4a4a" stroke-width="0.8" rx="1.5"/>
<rect x="3186.3" y="1261.2" width="15.4" height="116.3" fill="#a9a9a9" stroke="#4a4a4a" stroke-width="0.8" rx="1.5"/>
<rect x="3201.7" y="1270.3" width="741.1" height="15.2" fill="#a9a9a9" stroke="#4a4a4a" stroke-width="0.8" rx="1.5"/>
<path d="M3555.3 1270.3L3555.3 1285.5" stroke="#333" stroke-width="1"/>
<rect x="3110.3" y="1315.8" width="14.2" height="61.7" fill="#a9a9a9" stroke="#4a4a4a" stroke-width="0.8"/>
<rect x="3124.5" y="1317.3" width="5.2" height="40.2" fill="#a0a0a0" stroke="#666" stroke-width="0.8"/>
<path d="M3127.2 1318L3127.2 1357" stroke="#777" stroke-width="0.7"/>
<rect x="3129.3" y="1364.5" width="15.4" height="42" fill="#a9a9a9" stroke="#4a4a4a" stroke-width="0.8"/>
<rect x="3181.8" y="1317.3" width="4.5" height="40.2" fill="#a0a0a0" stroke="#666" stroke-width="0.8"/>
<path d="M3184 1318L3184 1357" stroke="#777" stroke-width="0.7"/>
<rect x="3167.2" y="1312.3" width="14.6" height="94.2" fill="#a9a9a9" stroke="#4a4a4a" stroke-width="0.8"/>
<rect x="2295.3" y="1392.3" width="800.2" height="14.2" fill="#a9a9a9" stroke="#4a4a4a" stroke-width="0.8"/>
<path d="M2454.3 1392.3L2454.3 1406.5" stroke="#333" stroke-width="1"/>
<path d="M2769.4 1392.3L2769.4 1406.5" stroke="#333" stroke-width="1"/>
<rect x="3216.2" y="1392.3" width="736.6" height="14.2" fill="#a9a9a9" stroke="#4a4a4a" stroke-width="0.8"/>
<path d="M3425.5 1392.3L3425.5 1406.5" stroke="#333" stroke-width="1"/>
<path d="M3740.4 1392.3L3740.4 1406.5" stroke="#333" stroke-width="1"/>
<rect x="2365.25" y="1406.5" width="14.4" height="65" fill="#a9a9a9" stroke="#4a4a4a" stroke-width="0.8"/>
<path d="M2365.25 1451L2379.65 1451" stroke="#333" stroke-width="1"/>
<rect x="2486.25" y="1406.5" width="15.2" height="65" fill="#a9a9a9" stroke="#4a4a4a" stroke-width="0.8"/>
<path d="M2486.25 1451L2501.45 1451" stroke="#333" stroke-width="1"/>
<rect x="2365.25" y="1471.5" width="136.2" height="14.8" fill="#a9a9a9" stroke="#4a4a4a" stroke-width="0.8"/>
<path d="M2396.55 1471.5L2396.55 1486.3" stroke="#333" stroke-width="1"/>
<path d="M2469.55 1471.5L2469.55 1486.3" stroke="#333" stroke-width="1"/>
<rect x="2425.25" y="1471.5" width="15.2" height="50.5" fill="#999" stroke="#666" stroke-width="0.8"/>
<rect x="2427.85" y="1474.2" width="10" height="45.4" fill="#000"/>
<rect x="2356.25" y="1407.3" width="8.2" height="23.25" fill="#a9a9a9" stroke="#555" stroke-width="0.8" rx="1.5"/>
<text x="2360.35" y="1413.85" font-size="7.5" fill="#2e2e2e" font-weight="bold" text-anchor="middle">B</text>
<path d="M2356.25 1415.05L2364.45 1415.05" stroke="#444" stroke-width="0.7"/>
<text x="2360.35" y="1421.6" font-size="7.5" fill="#2e2e2e" font-weight="bold" text-anchor="middle">A</text>
<path d="M2356.25 1422.8L2364.45 1422.8" stroke="#444" stroke-width="0.7"/>
<text x="2360.35" y="1429.35" font-size="7.5" fill="#2e2e2e" font-weight="bold" text-anchor="middle">G</text>
<rect x="2502.05" y="1407.3" width="8.2" height="23.25" fill="#a9a9a9" stroke="#555" stroke-width="0.8" rx="1.5"/>
<text x="2506.15" y="1413.85" font-size="7.5" fill="#2e2e2e" font-weight="bold" text-anchor="middle">B</text>
<path d="M2502.05 1415.05L2510.25 1415.05" stroke="#444" stroke-width="0.7"/>
<text x="2506.15" y="1421.6" font-size="7.5" fill="#2e2e2e" font-weight="bold" text-anchor="middle">A</text>
<path d="M2502.05 1422.8L2510.25 1422.8" stroke="#444" stroke-width="0.7"/>
<text x="2506.15" y="1429.35" font-size="7.5" fill="#2e2e2e" font-weight="bold" text-anchor="middle">G</text>
<rect x="2364.45" y="1486.4" width="9.2" height="17" fill="#ffffff"/>
<rect x="2365.65" y="1487.6" width="6.8" height="14.6" fill="#a9a9a9" stroke="#3a3a3a" stroke-width="0.8"/>
<text x="2369.05" y="1493.7" font-size="7.5" fill="#2e2e2e" font-weight="bold" text-anchor="middle">R</text>
<path d="M2365.25 1494.9L2372.85 1494.9" stroke="#444" stroke-width="0.7"/>
<text x="2369.05" y="1501.4" font-size="7.5" fill="#2e2e2e" font-weight="bold" text-anchor="middle">A</text>
<rect x="2493.25" y="1487.2" width="8.2" height="15.4" fill="#a9a9a9" stroke="#555" stroke-width="0.8" rx="1.5"/>
<text x="2497.35" y="1493.7" font-size="7.5" fill="#2e2e2e" font-weight="bold" text-anchor="middle">R</text>
<path d="M2493.25 1494.9L2501.45 1494.9" stroke="#444" stroke-width="0.7"/>
<text x="2497.35" y="1501.4" font-size="7.5" fill="#2e2e2e" font-weight="bold" text-anchor="middle">A</text>
<rect x="2414.45" y="1494.5" width="9.2" height="17" fill="#ffffff"/>
<rect x="2415.65" y="1495.7" width="6.8" height="14.6" fill="#a9a9a9" stroke="#3a3a3a" stroke-width="0.8"/>
<text x="2419.05" y="1501.8" font-size="7.5" fill="#2e2e2e" font-weight="bold" text-anchor="middle">B</text>
<path d="M2415.25 1503L2422.85 1503" stroke="#444" stroke-width="0.7"/>
<text x="2419.05" y="1509.5" font-size="7.5" fill="#2e2e2e" font-weight="bold" text-anchor="middle">A</text>
<rect x="2523.25" y="1406.5" width="14.4" height="65" fill="#a9a9a9" stroke="#4a4a4a" stroke-width="0.8"/>
<path d="M2523.25 1451L2537.65 1451" stroke="#333" stroke-width="1"/>
<rect x="2644.25" y="1406.5" width="15.2" height="65" fill="#a9a9a9" stroke="#4a4a4a" stroke-width="0.8"/>
<path d="M2644.25 1451L2659.45 1451" stroke="#333" stroke-width="1"/>
<rect x="2523.25" y="1471.5" width="136.2" height="14.8" fill="#a9a9a9" stroke="#4a4a4a" stroke-width="0.8"/>
<path d="M2554.55 1471.5L2554.55 1486.3" stroke="#333" stroke-width="1"/>
<path d="M2627.55 1471.5L2627.55 1486.3" stroke="#333" stroke-width="1"/>
<rect x="2583.25" y="1471.5" width="15.2" height="50.5" fill="#999" stroke="#666" stroke-width="0.8"/>
<rect x="2585.85" y="1474.2" width="10" height="45.4" fill="#000"/>
<rect x="2514.25" y="1407.3" width="8.2" height="23.25" fill="#a9a9a9" stroke="#555" stroke-width="0.8" rx="1.5"/>
<text x="2518.35" y="1413.85" font-size="7.5" fill="#2e2e2e" font-weight="bold" text-anchor="middle">B</text>
<path d="M2514.25 1415.05L2522.45 1415.05" stroke="#444" stroke-width="0.7"/>
<text x="2518.35" y="1421.6" font-size="7.5" fill="#2e2e2e" font-weight="bold" text-anchor="middle">A</text>
<path d="M2514.25 1422.8L2522.45 1422.8" stroke="#444" stroke-width="0.7"/>
<text x="2518.35" y="1429.35" font-size="7.5" fill="#2e2e2e" font-weight="bold" text-anchor="middle">G</text>
<rect x="2660.05" y="1407.3" width="8.2" height="23.25" fill="#a9a9a9" stroke="#555" stroke-width="0.8" rx="1.5"/>
<text x="2664.15" y="1413.85" font-size="7.5" fill="#2e2e2e" font-weight="bold" text-anchor="middle">B</text>
<path d="M2660.05 1415.05L2668.25 1415.05" stroke="#444" stroke-width="0.7"/>
<text x="2664.15" y="1421.6" font-size="7.5" fill="#2e2e2e" font-weight="bold" text-anchor="middle">A</text>
<path d="M2660.05 1422.8L2668.25 1422.8" stroke="#444" stroke-width="0.7"/>
<text x="2664.15" y="1429.35" font-size="7.5" fill="#2e2e2e" font-weight="bold" text-anchor="middle">G</text>
<rect x="2522.45" y="1486.4" width="9.2" height="17" fill="#ffffff"/>
<rect x="2523.65" y="1487.6" width="6.8" height="14.6" fill="#a9a9a9" stroke="#3a3a3a" stroke-width="0.8"/>
<text x="2527.05" y="1493.7" font-size="7.5" fill="#2e2e2e" font-weight="bold" text-anchor="middle">R</text>
<path d="M2523.25 1494.9L2530.85 1494.9" stroke="#444" stroke-width="0.7"/>
<text x="2527.05" y="1501.4" font-size="7.5" fill="#2e2e2e" font-weight="bold" text-anchor="middle">A</text>
<rect x="2651.25" y="1487.2" width="8.2" height="15.4" fill="#a9a9a9" stroke="#555" stroke-width="0.8" rx="1.5"/>
<text x="2655.35" y="1493.7" font-size="7.5" fill="#2e2e2e" font-weight="bold" text-anchor="middle">R</text>
<path d="M2651.25 1494.9L2659.45 1494.9" stroke="#444" stroke-width="0.7"/>
<text x="2655.35" y="1501.4" font-size="7.5" fill="#2e2e2e" font-weight="bold" text-anchor="middle">A</text>
<rect x="2572.45" y="1494.5" width="9.2" height="17" fill="#ffffff"/>
<rect x="2573.65" y="1495.7" width="6.8" height="14.6" fill="#a9a9a9" stroke="#3a3a3a" stroke-width="0.8"/>
<text x="2577.05" y="1501.8" font-size="7.5" fill="#2e2e2e" font-weight="bold" text-anchor="middle">B</text>
<path d="M2573.25 1503L2580.85 1503" stroke="#444" stroke-width="0.7"/>
<text x="2577.05" y="1509.5" font-size="7.5" fill="#2e2e2e" font-weight="bold" text-anchor="middle">A</text>
<rect x="2681.25" y="1406.5" width="14.4" height="65" fill="#a9a9a9" stroke="#4a4a4a" stroke-width="0.8"/>
<path d="M2681.25 1451L2695.65 1451" stroke="#333" stroke-width="1"/>
<rect x="2802.25" y="1406.5" width="15.2" height="65" fill="#a9a9a9" stroke="#4a4a4a" stroke-width="0.8"/>
<path d="M2802.25 1451L2817.45 1451" stroke="#333" stroke-width="1"/>
<rect x="2681.25" y="1471.5" width="136.2" height="14.8" fill="#a9a9a9" stroke="#4a4a4a" stroke-width="0.8"/>
<path d="M2712.55 1471.5L2712.55 1486.3" stroke="#333" stroke-width="1"/>
<path d="M2785.55 1471.5L2785.55 1486.3" stroke="#333" stroke-width="1"/>
<rect x="2741.25" y="1471.5" width="15.2" height="50.5" fill="#999" stroke="#666" stroke-width="0.8"/>
<rect x="2743.85" y="1474.2" width="10" height="45.4" fill="#000"/>
<rect x="2672.25" y="1407.3" width="8.2" height="23.25" fill="#a9a9a9" stroke="#555" stroke-width="0.8" rx="1.5"/>
<text x="2676.35" y="1413.85" font-size="7.5" fill="#2e2e2e" font-weight="bold" text-anchor="middle">B</text>
<path d="M2672.25 1415.05L2680.45 1415.05" stroke="#444" stroke-width="0.7"/>
<text x="2676.35" y="1421.6" font-size="7.5" fill="#2e2e2e" font-weight="bold" text-anchor="middle">A</text>
<path d="M2672.25 1422.8L2680.45 1422.8" stroke="#444" stroke-width="0.7"/>
<text x="2676.35" y="1429.35" font-size="7.5" fill="#2e2e2e" font-weight="bold" text-anchor="middle">G</text>
<rect x="2818.05" y="1407.3" width="8.2" height="23.25" fill="#a9a9a9" stroke="#555" stroke-width="0.8" rx="1.5"/>
<text x="2822.15" y="1413.85" font-size="7.5" fill="#2e2e2e" font-weight="bold" text-anchor="middle">B</text>
<path d="M2818.05 1415.05L2826.25 1415.05" stroke="#444" stroke-width="0.7"/>
<text x="2822.15" y="1421.6" font-size="7.5" fill="#2e2e2e" font-weight="bold" text-anchor="middle">A</text>
<path d="M2818.05 1422.8L2826.25 1422.8" stroke="#444" stroke-width="0.7"/>
<text x="2822.15" y="1429.35" font-size="7.5" fill="#2e2e2e" font-weight="bold" text-anchor="middle">G</text>
<rect x="2680.45" y="1486.4" width="9.2" height="17" fill="#ffffff"/>
<rect x="2681.65" y="1487.6" width="6.8" height="14.6" fill="#a9a9a9" stroke="#3a3a3a" stroke-width="0.8"/>
<text x="2685.05" y="1493.7" font-size="7.5" fill="#2e2e2e" font-weight="bold" text-anchor="middle">R</text>
<path d="M2681.25 1494.9L2688.85 1494.9" stroke="#444" stroke-width="0.7"/>
<text x="2685.05" y="1501.4" font-size="7.5" fill="#2e2e2e" font-weight="bold" text-anchor="middle">A</text>
<rect x="2809.25" y="1487.2" width="8.2" height="15.4" fill="#a9a9a9" stroke="#555" stroke-width="0.8" rx="1.5"/>
<text x="2813.35" y="1493.7" font-size="7.5" fill="#2e2e2e" font-weight="bold" text-anchor="middle">R</text>
<path d="M2809.25 1494.9L2817.45 1494.9" stroke="#444" stroke-width="0.7"/>
<text x="2813.35" y="1501.4" font-size="7.5" fill="#2e2e2e" font-weight="bold" text-anchor="middle">A</text>
<rect x="2730.45" y="1494.5" width="9.2" height="17" fill="#ffffff"/>
<rect x="2731.65" y="1495.7" width="6.8" height="14.6" fill="#a9a9a9" stroke="#3a3a3a" stroke-width="0.8"/>
<text x="2735.05" y="1501.8" font-size="7.5" fill="#2e2e2e" font-weight="bold" text-anchor="middle">B</text>
<path d="M2731.25 1503L2738.85 1503" stroke="#444" stroke-width="0.7"/>
<text x="2735.05" y="1509.5" font-size="7.5" fill="#2e2e2e" font-weight="bold" text-anchor="middle">A</text>
<rect x="2840.25" y="1406.5" width="14.4" height="65" fill="#a9a9a9" stroke="#4a4a4a" stroke-width="0.8"/>
<path d="M2840.25 1451L2854.65 1451" stroke="#333" stroke-width="1"/>
<rect x="2961.25" y="1406.5" width="15.2" height="65" fill="#a9a9a9" stroke="#4a4a4a" stroke-width="0.8"/>
<path d="M2961.25 1451L2976.45 1451" stroke="#333" stroke-width="1"/>
<rect x="2840.25" y="1471.5" width="136.2" height="14.8" fill="#a9a9a9" stroke="#4a4a4a" stroke-width="0.8"/>
<path d="M2871.55 1471.5L2871.55 1486.3" stroke="#333" stroke-width="1"/>
<path d="M2944.55 1471.5L2944.55 1486.3" stroke="#333" stroke-width="1"/>
<rect x="2900.25" y="1471.5" width="15.2" height="50.5" fill="#999" stroke="#666" stroke-width="0.8"/>
<rect x="2902.85" y="1474.2" width="10" height="45.4" fill="#000"/>
<rect x="2831.25" y="1407.3" width="8.2" height="23.25" fill="#a9a9a9" stroke="#555" stroke-width="0.8" rx="1.5"/>
<text x="2835.35" y="1413.85" font-size="7.5" fill="#2e2e2e" font-weight="bold" text-anchor="middle">B</text>
<path d="M2831.25 1415.05L2839.45 1415.05" stroke="#444" stroke-width="0.7"/>
<text x="2835.35" y="1421.6" font-size="7.5" fill="#2e2e2e" font-weight="bold" text-anchor="middle">A</text>
<path d="M2831.25 1422.8L2839.45 1422.8" stroke="#444" stroke-width="0.7"/>
<text x="2835.35" y="1429.35" font-size="7.5" fill="#2e2e2e" font-weight="bold" text-anchor="middle">G</text>
<rect x="2977.05" y="1407.3" width="8.2" height="23.25" fill="#a9a9a9" stroke="#555" stroke-width="0.8" rx="1.5"/>
<text x="2981.15" y="1413.85" font-size="7.5" fill="#2e2e2e" font-weight="bold" text-anchor="middle">B</text>
<path d="M2977.05 1415.05L2985.25 1415.05" stroke="#444" stroke-width="0.7"/>
<text x="2981.15" y="1421.6" font-size="7.5" fill="#2e2e2e" font-weight="bold" text-anchor="middle">A</text>
<path d="M2977.05 1422.8L2985.25 1422.8" stroke="#444" stroke-width="0.7"/>
<text x="2981.15" y="1429.35" font-size="7.5" fill="#2e2e2e" font-weight="bold" text-anchor="middle">G</text>
<rect x="2839.45" y="1486.4" width="9.2" height="17" fill="#ffffff"/>
<rect x="2840.65" y="1487.6" width="6.8" height="14.6" fill="#a9a9a9" stroke="#3a3a3a" stroke-width="0.8"/>
<text x="2844.05" y="1493.7" font-size="7.5" fill="#2e2e2e" font-weight="bold" text-anchor="middle">R</text>
<path d="M2840.25 1494.9L2847.85 1494.9" stroke="#444" stroke-width="0.7"/>
<text x="2844.05" y="1501.4" font-size="7.5" fill="#2e2e2e" font-weight="bold" text-anchor="middle">A</text>
<rect x="2968.25" y="1487.2" width="8.2" height="15.4" fill="#a9a9a9" stroke="#555" stroke-width="0.8" rx="1.5"/>
<text x="2972.35" y="1493.7" font-size="7.5" fill="#2e2e2e" font-weight="bold" text-anchor="middle">R</text>
<path d="M2968.25 1494.9L2976.45 1494.9" stroke="#444" stroke-width="0.7"/>
<text x="2972.35" y="1501.4" font-size="7.5" fill="#2e2e2e" font-weight="bold" text-anchor="middle">A</text>
<rect x="2889.45" y="1494.5" width="9.2" height="17" fill="#ffffff"/>
<rect x="2890.65" y="1495.7" width="6.8" height="14.6" fill="#a9a9a9" stroke="#3a3a3a" stroke-width="0.8"/>
<text x="2894.05" y="1501.8" font-size="7.5" fill="#2e2e2e" font-weight="bold" text-anchor="middle">B</text>
<path d="M2890.25 1503L2897.85 1503" stroke="#444" stroke-width="0.7"/>
<text x="2894.05" y="1509.5" font-size="7.5" fill="#2e2e2e" font-weight="bold" text-anchor="middle">A</text>
<rect x="3008.5" y="1406.5" width="14.4" height="65" fill="#a9a9a9" stroke="#4a4a4a" stroke-width="0.8"/>
<path d="M3008.5 1451L3022.9 1451" stroke="#333" stroke-width="1"/>
<rect x="3129.5" y="1408.6" width="15.2" height="62.9" fill="#a9a9a9" stroke="#4a4a4a" stroke-width="0.8"/>
<path d="M3129.5 1451L3144.7 1451" stroke="#333" stroke-width="1"/>
<rect x="3008.5" y="1471.5" width="136.2" height="14.8" fill="#a9a9a9" stroke="#4a4a4a" stroke-width="0.8"/>
<path d="M3039.8 1471.5L3039.8 1486.3" stroke="#333" stroke-width="1"/>
<path d="M3112.8 1471.5L3112.8 1486.3" stroke="#333" stroke-width="1"/>
<rect x="3068.5" y="1471.5" width="15.2" height="50.5" fill="#999" stroke="#666" stroke-width="0.8"/>
<rect x="3071.1" y="1474.2" width="10" height="45.4" fill="#000"/>
<rect x="2999.5" y="1407.3" width="8.2" height="23.25" fill="#a9a9a9" stroke="#555" stroke-width="0.8" rx="1.5"/>
<text x="3003.6" y="1413.85" font-size="7.5" fill="#2e2e2e" font-weight="bold" text-anchor="middle">B</text>
<path d="M2999.5 1415.05L3007.7 1415.05" stroke="#444" stroke-width="0.7"/>
<text x="3003.6" y="1421.6" font-size="7.5" fill="#2e2e2e" font-weight="bold" text-anchor="middle">A</text>
<path d="M2999.5 1422.8L3007.7 1422.8" stroke="#444" stroke-width="0.7"/>
<text x="3003.6" y="1429.35" font-size="7.5" fill="#2e2e2e" font-weight="bold" text-anchor="middle">G</text>
<rect x="3145.3" y="1407.3" width="8.2" height="23.25" fill="#a9a9a9" stroke="#555" stroke-width="0.8" rx="1.5"/>
<text x="3149.4" y="1413.85" font-size="7.5" fill="#2e2e2e" font-weight="bold" text-anchor="middle">B</text>
<path d="M3145.3 1415.05L3153.5 1415.05" stroke="#444" stroke-width="0.7"/>
<text x="3149.4" y="1421.6" font-size="7.5" fill="#2e2e2e" font-weight="bold" text-anchor="middle">A</text>
<path d="M3145.3 1422.8L3153.5 1422.8" stroke="#444" stroke-width="0.7"/>
<text x="3149.4" y="1429.35" font-size="7.5" fill="#2e2e2e" font-weight="bold" text-anchor="middle">G</text>
<rect x="3007.7" y="1486.4" width="9.2" height="17" fill="#ffffff"/>
<rect x="3008.9" y="1487.6" width="6.8" height="14.6" fill="#a9a9a9" stroke="#3a3a3a" stroke-width="0.8"/>
<text x="3012.3" y="1493.7" font-size="7.5" fill="#2e2e2e" font-weight="bold" text-anchor="middle">R</text>
<path d="M3008.5 1494.9L3016.1 1494.9" stroke="#444" stroke-width="0.7"/>
<text x="3012.3" y="1501.4" font-size="7.5" fill="#2e2e2e" font-weight="bold" text-anchor="middle">A</text>
<rect x="3136.5" y="1487.2" width="8.2" height="15.4" fill="#a9a9a9" stroke="#555" stroke-width="0.8" rx="1.5"/>
<text x="3140.6" y="1493.7" font-size="7.5" fill="#2e2e2e" font-weight="bold" text-anchor="middle">R</text>
<path d="M3136.5 1494.9L3144.7 1494.9" stroke="#444" stroke-width="0.7"/>
<text x="3140.6" y="1501.4" font-size="7.5" fill="#2e2e2e" font-weight="bold" text-anchor="middle">A</text>
<rect x="3057.7" y="1494.5" width="9.2" height="17" fill="#ffffff"/>
<rect x="3058.9" y="1495.7" width="6.8" height="14.6" fill="#a9a9a9" stroke="#3a3a3a" stroke-width="0.8"/>
<text x="3062.3" y="1501.8" font-size="7.5" fill="#2e2e2e" font-weight="bold" text-anchor="middle">B</text>
<path d="M3058.5 1503L3066.1 1503" stroke="#444" stroke-width="0.7"/>
<text x="3062.3" y="1509.5" font-size="7.5" fill="#2e2e2e" font-weight="bold" text-anchor="middle">A</text>
<rect x="3167" y="1406.5" width="14.4" height="65" fill="#a9a9a9" stroke="#4a4a4a" stroke-width="0.8"/>
<path d="M3167 1451L3181.4 1451" stroke="#333" stroke-width="1"/>
<rect x="3288" y="1406.5" width="15.2" height="65" fill="#a9a9a9" stroke="#4a4a4a" stroke-width="0.8"/>
<path d="M3288 1451L3303.2 1451" stroke="#333" stroke-width="1"/>
<rect x="3167" y="1471.5" width="136.2" height="14.8" fill="#a9a9a9" stroke="#4a4a4a" stroke-width="0.8"/>
<path d="M3198.3 1471.5L3198.3 1486.3" stroke="#333" stroke-width="1"/>
<path d="M3271.3 1471.5L3271.3 1486.3" stroke="#333" stroke-width="1"/>
<rect x="3227" y="1471.5" width="15.2" height="50.5" fill="#999" stroke="#666" stroke-width="0.8"/>
<rect x="3229.6" y="1474.2" width="10" height="45.4" fill="#000"/>
<rect x="3158" y="1407.3" width="8.2" height="23.25" fill="#a9a9a9" stroke="#555" stroke-width="0.8" rx="1.5"/>
<text x="3162.1" y="1413.85" font-size="7.5" fill="#2e2e2e" font-weight="bold" text-anchor="middle">B</text>
<path d="M3158 1415.05L3166.2 1415.05" stroke="#444" stroke-width="0.7"/>
<text x="3162.1" y="1421.6" font-size="7.5" fill="#2e2e2e" font-weight="bold" text-anchor="middle">A</text>
<path d="M3158 1422.8L3166.2 1422.8" stroke="#444" stroke-width="0.7"/>
<text x="3162.1" y="1429.35" font-size="7.5" fill="#2e2e2e" font-weight="bold" text-anchor="middle">G</text>
<rect x="3303.8" y="1407.3" width="8.2" height="23.25" fill="#a9a9a9" stroke="#555" stroke-width="0.8" rx="1.5"/>
<text x="3307.9" y="1413.85" font-size="7.5" fill="#2e2e2e" font-weight="bold" text-anchor="middle">B</text>
<path d="M3303.8 1415.05L3312 1415.05" stroke="#444" stroke-width="0.7"/>
<text x="3307.9" y="1421.6" font-size="7.5" fill="#2e2e2e" font-weight="bold" text-anchor="middle">A</text>
<path d="M3303.8 1422.8L3312 1422.8" stroke="#444" stroke-width="0.7"/>
<text x="3307.9" y="1429.35" font-size="7.5" fill="#2e2e2e" font-weight="bold" text-anchor="middle">G</text>
<rect x="3166.2" y="1486.4" width="9.2" height="17" fill="#ffffff"/>
<rect x="3167.4" y="1487.6" width="6.8" height="14.6" fill="#a9a9a9" stroke="#3a3a3a" stroke-width="0.8"/>
<text x="3170.8" y="1493.7" font-size="7.5" fill="#2e2e2e" font-weight="bold" text-anchor="middle">R</text>
<path d="M3167 1494.9L3174.6 1494.9" stroke="#444" stroke-width="0.7"/>
<text x="3170.8" y="1501.4" font-size="7.5" fill="#2e2e2e" font-weight="bold" text-anchor="middle">A</text>
<rect x="3295" y="1487.2" width="8.2" height="15.4" fill="#a9a9a9" stroke="#555" stroke-width="0.8" rx="1.5"/>
<text x="3299.1" y="1493.7" font-size="7.5" fill="#2e2e2e" font-weight="bold" text-anchor="middle">R</text>
<path d="M3295 1494.9L3303.2 1494.9" stroke="#444" stroke-width="0.7"/>
<text x="3299.1" y="1501.4" font-size="7.5" fill="#2e2e2e" font-weight="bold" text-anchor="middle">A</text>
<rect x="3216.2" y="1494.5" width="9.2" height="17" fill="#ffffff"/>
<rect x="3217.4" y="1495.7" width="6.8" height="14.6" fill="#a9a9a9" stroke="#3a3a3a" stroke-width="0.8"/>
<text x="3220.8" y="1501.8" font-size="7.5" fill="#2e2e2e" font-weight="bold" text-anchor="middle">B</text>
<path d="M3217 1503L3224.6 1503" stroke="#444" stroke-width="0.7"/>
<text x="3220.8" y="1509.5" font-size="7.5" fill="#2e2e2e" font-weight="bold" text-anchor="middle">A</text>
<rect x="3325.4" y="1406.5" width="14.4" height="65" fill="#a9a9a9" stroke="#4a4a4a" stroke-width="0.8"/>
<path d="M3325.4 1451L3339.8 1451" stroke="#333" stroke-width="1"/>
<rect x="3446.4" y="1406.5" width="15.2" height="65" fill="#a9a9a9" stroke="#4a4a4a" stroke-width="0.8"/>
<path d="M3446.4 1451L3461.6 1451" stroke="#333" stroke-width="1"/>
<rect x="3325.4" y="1471.5" width="136.2" height="14.8" fill="#a9a9a9" stroke="#4a4a4a" stroke-width="0.8"/>
<path d="M3356.7 1471.5L3356.7 1486.3" stroke="#333" stroke-width="1"/>
<path d="M3429.7 1471.5L3429.7 1486.3" stroke="#333" stroke-width="1"/>
<rect x="3385.4" y="1471.5" width="15.2" height="50.5" fill="#999" stroke="#666" stroke-width="0.8"/>
<rect x="3388" y="1474.2" width="10" height="45.4" fill="#000"/>
<rect x="3316.4" y="1407.3" width="8.2" height="23.25" fill="#a9a9a9" stroke="#555" stroke-width="0.8" rx="1.5"/>
<text x="3320.5" y="1413.85" font-size="7.5" fill="#2e2e2e" font-weight="bold" text-anchor="middle">B</text>
<path d="M3316.4 1415.05L3324.6 1415.05" stroke="#444" stroke-width="0.7"/>
<text x="3320.5" y="1421.6" font-size="7.5" fill="#2e2e2e" font-weight="bold" text-anchor="middle">A</text>
<path d="M3316.4 1422.8L3324.6 1422.8" stroke="#444" stroke-width="0.7"/>
<text x="3320.5" y="1429.35" font-size="7.5" fill="#2e2e2e" font-weight="bold" text-anchor="middle">G</text>
<rect x="3462.2" y="1407.3" width="8.2" height="23.25" fill="#a9a9a9" stroke="#555" stroke-width="0.8" rx="1.5"/>
<text x="3466.3" y="1413.85" font-size="7.5" fill="#2e2e2e" font-weight="bold" text-anchor="middle">B</text>
<path d="M3462.2 1415.05L3470.4 1415.05" stroke="#444" stroke-width="0.7"/>
<text x="3466.3" y="1421.6" font-size="7.5" fill="#2e2e2e" font-weight="bold" text-anchor="middle">A</text>
<path d="M3462.2 1422.8L3470.4 1422.8" stroke="#444" stroke-width="0.7"/>
<text x="3466.3" y="1429.35" font-size="7.5" fill="#2e2e2e" font-weight="bold" text-anchor="middle">G</text>
<rect x="3324.6" y="1486.4" width="9.2" height="17" fill="#ffffff"/>
<rect x="3325.8" y="1487.6" width="6.8" height="14.6" fill="#a9a9a9" stroke="#3a3a3a" stroke-width="0.8"/>
<text x="3329.2" y="1493.7" font-size="7.5" fill="#2e2e2e" font-weight="bold" text-anchor="middle">R</text>
<path d="M3325.4 1494.9L3333 1494.9" stroke="#444" stroke-width="0.7"/>
<text x="3329.2" y="1501.4" font-size="7.5" fill="#2e2e2e" font-weight="bold" text-anchor="middle">A</text>
<rect x="3453.4" y="1487.2" width="8.2" height="15.4" fill="#a9a9a9" stroke="#555" stroke-width="0.8" rx="1.5"/>
<text x="3457.5" y="1493.7" font-size="7.5" fill="#2e2e2e" font-weight="bold" text-anchor="middle">R</text>
<path d="M3453.4 1494.9L3461.6 1494.9" stroke="#444" stroke-width="0.7"/>
<text x="3457.5" y="1501.4" font-size="7.5" fill="#2e2e2e" font-weight="bold" text-anchor="middle">A</text>
<rect x="3374.6" y="1494.5" width="9.2" height="17" fill="#ffffff"/>
<rect x="3375.8" y="1495.7" width="6.8" height="14.6" fill="#a9a9a9" stroke="#3a3a3a" stroke-width="0.8"/>
<text x="3379.2" y="1501.8" font-size="7.5" fill="#2e2e2e" font-weight="bold" text-anchor="middle">B</text>
<path d="M3375.4 1503L3383 1503" stroke="#444" stroke-width="0.7"/>
<text x="3379.2" y="1509.5" font-size="7.5" fill="#2e2e2e" font-weight="bold" text-anchor="middle">A</text>
<rect x="3483.25" y="1406.5" width="14.4" height="65" fill="#a9a9a9" stroke="#4a4a4a" stroke-width="0.8"/>
<path d="M3483.25 1451L3497.65 1451" stroke="#333" stroke-width="1"/>
<rect x="3604.25" y="1406.5" width="15.2" height="65" fill="#a9a9a9" stroke="#4a4a4a" stroke-width="0.8"/>
<path d="M3604.25 1451L3619.45 1451" stroke="#333" stroke-width="1"/>
<rect x="3483.25" y="1471.5" width="136.2" height="14.8" fill="#a9a9a9" stroke="#4a4a4a" stroke-width="0.8"/>
<path d="M3514.55 1471.5L3514.55 1486.3" stroke="#333" stroke-width="1"/>
<path d="M3587.55 1471.5L3587.55 1486.3" stroke="#333" stroke-width="1"/>
<rect x="3543.25" y="1471.5" width="15.2" height="50.5" fill="#999" stroke="#666" stroke-width="0.8"/>
<rect x="3545.85" y="1474.2" width="10" height="45.4" fill="#000"/>
<rect x="3474.25" y="1407.3" width="8.2" height="23.25" fill="#a9a9a9" stroke="#555" stroke-width="0.8" rx="1.5"/>
<text x="3478.35" y="1413.85" font-size="7.5" fill="#2e2e2e" font-weight="bold" text-anchor="middle">B</text>
<path d="M3474.25 1415.05L3482.45 1415.05" stroke="#444" stroke-width="0.7"/>
<text x="3478.35" y="1421.6" font-size="7.5" fill="#2e2e2e" font-weight="bold" text-anchor="middle">A</text>
<path d="M3474.25 1422.8L3482.45 1422.8" stroke="#444" stroke-width="0.7"/>
<text x="3478.35" y="1429.35" font-size="7.5" fill="#2e2e2e" font-weight="bold" text-anchor="middle">G</text>
<rect x="3620.05" y="1407.3" width="8.2" height="23.25" fill="#a9a9a9" stroke="#555" stroke-width="0.8" rx="1.5"/>
<text x="3624.15" y="1413.85" font-size="7.5" fill="#2e2e2e" font-weight="bold" text-anchor="middle">B</text>
<path d="M3620.05 1415.05L3628.25 1415.05" stroke="#444" stroke-width="0.7"/>
<text x="3624.15" y="1421.6" font-size="7.5" fill="#2e2e2e" font-weight="bold" text-anchor="middle">A</text>
<path d="M3620.05 1422.8L3628.25 1422.8" stroke="#444" stroke-width="0.7"/>
<text x="3624.15" y="1429.35" font-size="7.5" fill="#2e2e2e" font-weight="bold" text-anchor="middle">G</text>
<rect x="3482.45" y="1486.4" width="9.2" height="17" fill="#ffffff"/>
<rect x="3483.65" y="1487.6" width="6.8" height="14.6" fill="#a9a9a9" stroke="#3a3a3a" stroke-width="0.8"/>
<text x="3487.05" y="1493.7" font-size="7.5" fill="#2e2e2e" font-weight="bold" text-anchor="middle">R</text>
<path d="M3483.25 1494.9L3490.85 1494.9" stroke="#444" stroke-width="0.7"/>
<text x="3487.05" y="1501.4" font-size="7.5" fill="#2e2e2e" font-weight="bold" text-anchor="middle">A</text>
<rect x="3611.25" y="1487.2" width="8.2" height="15.4" fill="#a9a9a9" stroke="#555" stroke-width="0.8" rx="1.5"/>
<text x="3615.35" y="1493.7" font-size="7.5" fill="#2e2e2e" font-weight="bold" text-anchor="middle">R</text>
<path d="M3611.25 1494.9L3619.45 1494.9" stroke="#444" stroke-width="0.7"/>
<text x="3615.35" y="1501.4" font-size="7.5" fill="#2e2e2e" font-weight="bold" text-anchor="middle">A</text>
<rect x="3532.45" y="1494.5" width="9.2" height="17" fill="#ffffff"/>
<rect x="3533.65" y="1495.7" width="6.8" height="14.6" fill="#a9a9a9" stroke="#3a3a3a" stroke-width="0.8"/>
<text x="3537.05" y="1501.8" font-size="7.5" fill="#2e2e2e" font-weight="bold" text-anchor="middle">B</text>
<path d="M3533.25 1503L3540.85 1503" stroke="#444" stroke-width="0.7"/>
<text x="3537.05" y="1509.5" font-size="7.5" fill="#2e2e2e" font-weight="bold" text-anchor="middle">A</text>
<rect x="3641.25" y="1406.5" width="14.4" height="65" fill="#a9a9a9" stroke="#4a4a4a" stroke-width="0.8"/>
<path d="M3641.25 1451L3655.65 1451" stroke="#333" stroke-width="1"/>
<rect x="3762.25" y="1406.5" width="15.2" height="65" fill="#a9a9a9" stroke="#4a4a4a" stroke-width="0.8"/>
<path d="M3762.25 1451L3777.45 1451" stroke="#333" stroke-width="1"/>
<rect x="3641.25" y="1471.5" width="136.2" height="14.8" fill="#a9a9a9" stroke="#4a4a4a" stroke-width="0.8"/>
<path d="M3672.55 1471.5L3672.55 1486.3" stroke="#333" stroke-width="1"/>
<path d="M3745.55 1471.5L3745.55 1486.3" stroke="#333" stroke-width="1"/>
<rect x="3701.25" y="1471.5" width="15.2" height="50.5" fill="#999" stroke="#666" stroke-width="0.8"/>
<rect x="3703.85" y="1474.2" width="10" height="45.4" fill="#000"/>
<rect x="3632.25" y="1407.3" width="8.2" height="23.25" fill="#a9a9a9" stroke="#555" stroke-width="0.8" rx="1.5"/>
<text x="3636.35" y="1413.85" font-size="7.5" fill="#2e2e2e" font-weight="bold" text-anchor="middle">B</text>
<path d="M3632.25 1415.05L3640.45 1415.05" stroke="#444" stroke-width="0.7"/>
<text x="3636.35" y="1421.6" font-size="7.5" fill="#2e2e2e" font-weight="bold" text-anchor="middle">A</text>
<path d="M3632.25 1422.8L3640.45 1422.8" stroke="#444" stroke-width="0.7"/>
<text x="3636.35" y="1429.35" font-size="7.5" fill="#2e2e2e" font-weight="bold" text-anchor="middle">G</text>
<rect x="3778.05" y="1407.3" width="8.2" height="23.25" fill="#a9a9a9" stroke="#555" stroke-width="0.8" rx="1.5"/>
<text x="3782.15" y="1413.85" font-size="7.5" fill="#2e2e2e" font-weight="bold" text-anchor="middle">B</text>
<path d="M3778.05 1415.05L3786.25 1415.05" stroke="#444" stroke-width="0.7"/>
<text x="3782.15" y="1421.6" font-size="7.5" fill="#2e2e2e" font-weight="bold" text-anchor="middle">A</text>
<path d="M3778.05 1422.8L3786.25 1422.8" stroke="#444" stroke-width="0.7"/>
<text x="3782.15" y="1429.35" font-size="7.5" fill="#2e2e2e" font-weight="bold" text-anchor="middle">G</text>
<rect x="3640.45" y="1486.4" width="9.2" height="17" fill="#ffffff"/>
<rect x="3641.65" y="1487.6" width="6.8" height="14.6" fill="#a9a9a9" stroke="#3a3a3a" stroke-width="0.8"/>
<text x="3645.05" y="1493.7" font-size="7.5" fill="#2e2e2e" font-weight="bold" text-anchor="middle">R</text>
<path d="M3641.25 1494.9L3648.85 1494.9" stroke="#444" stroke-width="0.7"/>
<text x="3645.05" y="1501.4" font-size="7.5" fill="#2e2e2e" font-weight="bold" text-anchor="middle">A</text>
<rect x="3769.25" y="1487.2" width="8.2" height="15.4" fill="#a9a9a9" stroke="#555" stroke-width="0.8" rx="1.5"/>
<text x="3773.35" y="1493.7" font-size="7.5" fill="#2e2e2e" font-weight="bold" text-anchor="middle">R</text>
<path d="M3769.25 1494.9L3777.45 1494.9" stroke="#444" stroke-width="0.7"/>
<text x="3773.35" y="1501.4" font-size="7.5" fill="#2e2e2e" font-weight="bold" text-anchor="middle">A</text>
<rect x="3690.45" y="1494.5" width="9.2" height="17" fill="#ffffff"/>
<rect x="3691.65" y="1495.7" width="6.8" height="14.6" fill="#a9a9a9" stroke="#3a3a3a" stroke-width="0.8"/>
<text x="3695.05" y="1501.8" font-size="7.5" fill="#2e2e2e" font-weight="bold" text-anchor="middle">B</text>
<path d="M3691.25 1503L3698.85 1503" stroke="#444" stroke-width="0.7"/>
<text x="3695.05" y="1509.5" font-size="7.5" fill="#2e2e2e" font-weight="bold" text-anchor="middle">A</text>
<rect x="3799.25" y="1406.5" width="14.4" height="65" fill="#a9a9a9" stroke="#4a4a4a" stroke-width="0.8"/>
<path d="M3799.25 1451L3813.65 1451" stroke="#333" stroke-width="1"/>
<rect x="3920.25" y="1406.5" width="15.2" height="65" fill="#a9a9a9" stroke="#4a4a4a" stroke-width="0.8"/>
<path d="M3920.25 1451L3935.45 1451" stroke="#333" stroke-width="1"/>
<rect x="3799.25" y="1471.5" width="136.2" height="14.8" fill="#a9a9a9" stroke="#4a4a4a" stroke-width="0.8"/>
<path d="M3830.55 1471.5L3830.55 1486.3" stroke="#333" stroke-width="1"/>
<path d="M3903.55 1471.5L3903.55 1486.3" stroke="#333" stroke-width="1"/>
<rect x="3859.25" y="1471.5" width="15.2" height="50.5" fill="#999" stroke="#666" stroke-width="0.8"/>
<rect x="3861.85" y="1474.2" width="10" height="45.4" fill="#000"/>
<rect x="3790.25" y="1407.3" width="8.2" height="23.25" fill="#a9a9a9" stroke="#555" stroke-width="0.8" rx="1.5"/>
<text x="3794.35" y="1413.85" font-size="7.5" fill="#2e2e2e" font-weight="bold" text-anchor="middle">B</text>
<path d="M3790.25 1415.05L3798.45 1415.05" stroke="#444" stroke-width="0.7"/>
<text x="3794.35" y="1421.6" font-size="7.5" fill="#2e2e2e" font-weight="bold" text-anchor="middle">A</text>
<path d="M3790.25 1422.8L3798.45 1422.8" stroke="#444" stroke-width="0.7"/>
<text x="3794.35" y="1429.35" font-size="7.5" fill="#2e2e2e" font-weight="bold" text-anchor="middle">G</text>
<rect x="3936.05" y="1407.3" width="8.2" height="23.25" fill="#a9a9a9" stroke="#555" stroke-width="0.8" rx="1.5"/>
<text x="3940.15" y="1413.85" font-size="7.5" fill="#2e2e2e" font-weight="bold" text-anchor="middle">B</text>
<path d="M3936.05 1415.05L3944.25 1415.05" stroke="#444" stroke-width="0.7"/>
<text x="3940.15" y="1421.6" font-size="7.5" fill="#2e2e2e" font-weight="bold" text-anchor="middle">A</text>
<path d="M3936.05 1422.8L3944.25 1422.8" stroke="#444" stroke-width="0.7"/>
<text x="3940.15" y="1429.35" font-size="7.5" fill="#2e2e2e" font-weight="bold" text-anchor="middle">G</text>
<rect x="3798.45" y="1486.4" width="9.2" height="17" fill="#ffffff"/>
<rect x="3799.65" y="1487.6" width="6.8" height="14.6" fill="#a9a9a9" stroke="#3a3a3a" stroke-width="0.8"/>
<text x="3803.05" y="1493.7" font-size="7.5" fill="#2e2e2e" font-weight="bold" text-anchor="middle">R</text>
<path d="M3799.25 1494.9L3806.85 1494.9" stroke="#444" stroke-width="0.7"/>
<text x="3803.05" y="1501.4" font-size="7.5" fill="#2e2e2e" font-weight="bold" text-anchor="middle">A</text>
<rect x="3927.25" y="1487.2" width="8.2" height="15.4" fill="#a9a9a9" stroke="#555" stroke-width="0.8" rx="1.5"/>
<text x="3931.35" y="1493.7" font-size="7.5" fill="#2e2e2e" font-weight="bold" text-anchor="middle">R</text>
<path d="M3927.25 1494.9L3935.45 1494.9" stroke="#444" stroke-width="0.7"/>
<text x="3931.35" y="1501.4" font-size="7.5" fill="#2e2e2e" font-weight="bold" text-anchor="middle">A</text>
<rect x="3848.45" y="1494.5" width="9.2" height="17" fill="#ffffff"/>
<rect x="3849.65" y="1495.7" width="6.8" height="14.6" fill="#a9a9a9" stroke="#3a3a3a" stroke-width="0.8"/>
<text x="3853.05" y="1501.8" font-size="7.5" fill="#2e2e2e" font-weight="bold" text-anchor="middle">B</text>
<path d="M3849.25 1503L3856.85 1503" stroke="#444" stroke-width="0.7"/>
<text x="3853.05" y="1509.5" font-size="7.5" fill="#2e2e2e" font-weight="bold" text-anchor="middle">A</text>
<rect x="2172.2" y="1522.3" width="1834.3" height="14.2" fill="#a9a9a9" stroke="#4a4a4a" stroke-width="0.8"/>
<path d="M2422.3 1522.3L2422.3 1536.5" stroke="#333" stroke-width="1"/>
<path d="M2796.5 1522.3L2796.5 1536.5" stroke="#333" stroke-width="1"/>
<path d="M3161.5 1522.3L3161.5 1536.5" stroke="#333" stroke-width="1"/>
<path d="M3475.6 1522.3L3475.6 1536.5" stroke="#333" stroke-width="1"/>
<path d="M3815.5 1522.3L3815.5 1536.5" stroke="#333" stroke-width="1"/>
<rect x="3475" y="1537.6" width="26" height="9.4" fill="#a9a9a9" rx="1"/>
<text x="3488" y="1545.6" font-size="8" fill="#2e2e2e" font-weight="bold" text-anchor="middle" textLength="25" lengthAdjust="spacingAndGlyphs">RCP06A</text>
<rect x="3957.3" y="1300" width="14.5" height="87.5" fill="#a9a9a9" stroke="#4a4a4a" stroke-width="0.8"/>
<rect x="4011.3" y="1293.8" width="14.5" height="63.7" fill="#a9a9a9" stroke="#4a4a4a" stroke-width="0.8"/>
<rect x="4011.3" y="1453" width="14.5" height="64.5" fill="#a9a9a9" stroke="#4a4a4a" stroke-width="0.8"/>
<rect x="4048.3" y="1130.8" width="14.5" height="27" fill="#a9a9a9" stroke="#4a4a4a" stroke-width="0.8"/>
<rect x="4019.75" y="1177.9" width="34.5" height="14.7" fill="#a9a9a9" stroke="#4a4a4a" stroke-width="0.8" transform="rotate(-45 4037 1185.25)"/>
<rect x="4013.5" y="1167.4" width="10" height="9.2" fill="#ffffff"/>
<rect x="4014.7" y="1168.6" width="7.6" height="6.8" fill="#808080" stroke="#3a3a3a" stroke-width="0.8"/>
<text x="4018.5" y="1174.7" font-size="7.5" fill="#2e2e2e" font-weight="bold" text-anchor="middle">A</text>
<rect x="2386.3" y="1383.3" width="7.8" height="8.5" fill="#a9a9a9" stroke="#555" stroke-width="0.8" rx="1.5"/>
<text x="2390.2" y="1390.25" font-size="7.5" fill="#2e2e2e" font-weight="bold" text-anchor="middle">A</text>
<rect x="2773.3" y="1383.3" width="7.8" height="8.5" fill="#a9a9a9" stroke="#555" stroke-width="0.8" rx="1.5"/>
<text x="2777.2" y="1390.25" font-size="7.5" fill="#2e2e2e" font-weight="bold" text-anchor="middle">A</text>
<rect x="3047.6" y="1383.3" width="7.8" height="8.5" fill="#a9a9a9" stroke="#555" stroke-width="0.8" rx="1.5"/>
<text x="3051.5" y="1390.25" font-size="7.5" fill="#2e2e2e" font-weight="bold" text-anchor="middle">A</text>
<rect x="3256.3" y="1383.3" width="7.8" height="8.5" fill="#a9a9a9" stroke="#555" stroke-width="0.8" rx="1.5"/>
<text x="3260.2" y="1390.25" font-size="7.5" fill="#2e2e2e" font-weight="bold" text-anchor="middle">A</text>
<rect x="2656.3" y="1381.3" width="8.2" height="8.4" fill="#a9a9a9" stroke="#555" stroke-width="0.8" rx="1.5"/>
<text x="2660.4" y="1388.2" font-size="7.5" fill="#2e2e2e" font-weight="bold" text-anchor="middle">A</text>
<rect x="3495.3" y="1381.3" width="8.2" height="8.4" fill="#a9a9a9" stroke="#555" stroke-width="0.8" rx="1.5"/>
<text x="3499.4" y="1388.2" font-size="7.5" fill="#2e2e2e" font-weight="bold" text-anchor="middle">A</text>
<rect x="3603.3" y="1381.3" width="8.2" height="8.4" fill="#a9a9a9" stroke="#555" stroke-width="0.8" rx="1.5"/>
<text x="3607.4" y="1388.2" font-size="7.5" fill="#2e2e2e" font-weight="bold" text-anchor="middle">A</text>
<rect x="3830.3" y="1381.3" width="8.2" height="8.4" fill="#a9a9a9" stroke="#555" stroke-width="0.8" rx="1.5"/>
<text x="3834.4" y="1388.2" font-size="7.5" fill="#2e2e2e" font-weight="bold" text-anchor="middle">A</text>
<rect x="3938.3" y="1381.3" width="8.2" height="8.4" fill="#a9a9a9" stroke="#555" stroke-width="0.8" rx="1.5"/>
<text x="3942.4" y="1388.2" font-size="7.5" fill="#2e2e2e" font-weight="bold" text-anchor="middle">A</text>
<rect x="2564.5" y="1375.4" width="9.2" height="17.1" fill="#ffffff"/>
<rect x="2565.7" y="1376.6" width="6.8" height="14.7" fill="#a9a9a9" stroke="#3a3a3a" stroke-width="0.8"/>
<text x="2569.1" y="1382.75" font-size="7.5" fill="#2e2e2e" font-weight="bold" text-anchor="middle">R</text>
<path d="M2565.3 1383.95L2572.9 1383.95" stroke="#444" stroke-width="0.7"/>
<text x="2569.1" y="1390.5" font-size="7.5" fill="#2e2e2e" font-weight="bold" text-anchor="middle">A</text>
<rect x="2899.5" y="1375.4" width="9.2" height="17.1" fill="#ffffff"/>
<rect x="2900.7" y="1376.6" width="6.8" height="14.7" fill="#a9a9a9" stroke="#3a3a3a" stroke-width="0.8"/>
<text x="2904.1" y="1382.75" font-size="7.5" fill="#2e2e2e" font-weight="bold" text-anchor="middle">R</text>
<path d="M2900.3 1383.95L2907.9 1383.95" stroke="#444" stroke-width="0.7"/>
<text x="2904.1" y="1390.5" font-size="7.5" fill="#2e2e2e" font-weight="bold" text-anchor="middle">A</text>
<rect x="3373.5" y="1375.4" width="9.2" height="17.1" fill="#ffffff"/>
<rect x="3374.7" y="1376.6" width="6.8" height="14.7" fill="#a9a9a9" stroke="#3a3a3a" stroke-width="0.8"/>
<text x="3378.1" y="1382.75" font-size="7.5" fill="#2e2e2e" font-weight="bold" text-anchor="middle">R</text>
<path d="M3374.3 1383.95L3381.9 1383.95" stroke="#444" stroke-width="0.7"/>
<text x="3378.1" y="1390.5" font-size="7.5" fill="#2e2e2e" font-weight="bold" text-anchor="middle">A</text>
<rect x="3709.5" y="1375.4" width="9.2" height="17.1" fill="#ffffff"/>
<rect x="3710.7" y="1376.6" width="6.8" height="14.7" fill="#a9a9a9" stroke="#3a3a3a" stroke-width="0.8"/>
<text x="3714.1" y="1382.75" font-size="7.5" fill="#2e2e2e" font-weight="bold" text-anchor="middle">R</text>
<path d="M3710.3 1383.95L3717.9 1383.95" stroke="#444" stroke-width="0.7"/>
<text x="3714.1" y="1390.5" font-size="7.5" fill="#2e2e2e" font-weight="bold" text-anchor="middle">A</text>
<rect x="2602.5" y="1383.5" width="16.1" height="9.1" fill="#ffffff"/>
<rect x="2603.7" y="1384.7" width="13.7" height="6.7" fill="#808080" stroke="#3a3a3a" stroke-width="0.8"/>
<text x="2610.55" y="1390.75" font-size="7.5" fill="#2e2e2e" font-weight="bold" text-anchor="middle" textLength="12" lengthAdjust="spacingAndGlyphs">SIO</text>
<rect x="2927.2" y="1383.5" width="16.3" height="9.1" fill="#ffffff"/>
<rect x="2928.4" y="1384.7" width="13.9" height="6.7" fill="#808080" stroke="#3a3a3a" stroke-width="0.8"/>
<text x="2935.35" y="1390.75" font-size="7.5" fill="#2e2e2e" font-weight="bold" text-anchor="middle" textLength="12.2" lengthAdjust="spacingAndGlyphs">SIO</text>
<rect x="3365.3" y="1407.5" width="15.5" height="7.3" fill="#a9a9a9" stroke="#555" stroke-width="0.8" rx="1.5"/>
<text x="3373.05" y="1413.85" font-size="7.5" fill="#2e2e2e" font-weight="bold" text-anchor="middle" textLength="13" lengthAdjust="spacingAndGlyphs">SIO</text>
<rect x="3701.3" y="1407.5" width="15.5" height="7.3" fill="#a9a9a9" stroke="#555" stroke-width="0.8" rx="1.5"/>
<text x="3709.05" y="1413.85" font-size="7.5" fill="#2e2e2e" font-weight="bold" text-anchor="middle" textLength="13" lengthAdjust="spacingAndGlyphs">SIO</text>
<rect x="2800.3" y="1537.5" width="24.7" height="10" fill="#a9a9a9" stroke="#555" stroke-width="0.8" rx="1.5"/>
<text x="2812.65" y="1545.38" font-size="8" fill="#2e2e2e" font-weight="bold" text-anchor="middle" textLength="22.2" lengthAdjust="spacingAndGlyphs">HMI04</text>
<rect x="2825" y="1537.5" width="25.7" height="10" fill="#a9a9a9" stroke="#555" stroke-width="0.8" rx="1.5"/>
<text x="2837.85" y="1545.38" font-size="8" fill="#2e2e2e" font-weight="bold" text-anchor="middle" textLength="23.2" lengthAdjust="spacingAndGlyphs">MCP06</text>
<rect x="2219.2" y="837.2" width="15.5" height="7.4" fill="#a9a9a9" stroke="#555" stroke-width="0.8" rx="1.5"/>
<text x="2226.95" y="843.6" font-size="7.5" fill="#2e2e2e" font-weight="bold" text-anchor="middle" textLength="13" lengthAdjust="spacingAndGlyphs">SIO</text>
<rect x="2228.3" y="845.2" width="8.5" height="15.6" fill="#a9a9a9" stroke="#555" stroke-width="0.8" rx="1.5"/>
<text x="2232.55" y="851.8" font-size="7.5" fill="#2e2e2e" font-weight="bold" text-anchor="middle">R</text>
<path d="M2228.3 853L2236.8 853" stroke="#444" stroke-width="0.7"/>
<text x="2232.55" y="859.6" font-size="7.5" fill="#2e2e2e" font-weight="bold" text-anchor="middle">A</text>
<rect x="2248.2" y="856.2" width="8" height="15.3" fill="#a9a9a9" stroke="#555" stroke-width="0.8" rx="1.5"/>
<text x="2254.9" y="863.85" font-size="7.5" font-weight="bold" fill="#2e2e2e" text-anchor="middle" textLength="12.8" lengthAdjust="spacingAndGlyphs" transform="rotate(-90 2254.9 863.85)">SIO</text>
<rect x="2271.2" y="855.4" width="9.6" height="17" fill="#ffffff"/>
<rect x="2272.4" y="856.6" width="7.2" height="14.6" fill="#a9a9a9" stroke="#3a3a3a" stroke-width="0.8"/>
<text x="2276" y="862.7" font-size="7.5" fill="#2e2e2e" font-weight="bold" text-anchor="middle">R</text>
<path d="M2272 863.9L2280 863.9" stroke="#444" stroke-width="0.7"/>
<text x="2276" y="870.4" font-size="7.5" fill="#2e2e2e" font-weight="bold" text-anchor="middle">A</text>
<rect x="2507.2" y="855.4" width="9.6" height="17" fill="#ffffff"/>
<rect x="2508.4" y="856.6" width="7.2" height="14.6" fill="#a9a9a9" stroke="#3a3a3a" stroke-width="0.8"/>
<text x="2512" y="862.7" font-size="7.5" fill="#2e2e2e" font-weight="bold" text-anchor="middle">R</text>
<path d="M2508 863.9L2516 863.9" stroke="#444" stroke-width="0.7"/>
<text x="2512" y="870.4" font-size="7.5" fill="#2e2e2e" font-weight="bold" text-anchor="middle">A</text>
<rect x="2144.2" y="915.3" width="8.7" height="15.6" fill="#a9a9a9" stroke="#555" stroke-width="0.8" rx="1.5"/>
<text x="2148.55" y="921.9" font-size="7.5" fill="#2e2e2e" font-weight="bold" text-anchor="middle">R</text>
<path d="M2144.2 923.1L2152.9 923.1" stroke="#444" stroke-width="0.7"/>
<text x="2148.55" y="929.7" font-size="7.5" fill="#2e2e2e" font-weight="bold" text-anchor="middle">A</text>
<rect x="2176.2" y="1071.2" width="9.6" height="17.1" fill="#ffffff"/>
<rect x="2177.4" y="1072.4" width="7.2" height="14.7" fill="#7a7a7a" stroke="#3a3a3a" stroke-width="0.8"/>
<text x="2181" y="1078.55" font-size="7.5" fill="#2e2e2e" font-weight="bold" text-anchor="middle">R</text>
<path d="M2177 1079.75L2185 1079.75" stroke="#444" stroke-width="0.7"/>
<text x="2181" y="1086.3" font-size="7.5" fill="#2e2e2e" font-weight="bold" text-anchor="middle">A</text>
<rect x="2143.4" y="1126.4" width="10.1" height="17.2" fill="#ffffff"/>
<rect x="2144.6" y="1127.6" width="7.7" height="14.8" fill="#a9a9a9" stroke="#3a3a3a" stroke-width="0.8"/>
<text x="2148.45" y="1133.8" font-size="7.5" fill="#2e2e2e" font-weight="bold" text-anchor="middle">R</text>
<path d="M2144.2 1135L2152.7 1135" stroke="#444" stroke-width="0.7"/>
<text x="2148.45" y="1141.6" font-size="7.5" fill="#2e2e2e" font-weight="bold" text-anchor="middle">A</text>
<rect x="2200.2" y="1186.4" width="16.3" height="9.3" fill="#ffffff"/>
<rect x="2201.4" y="1187.6" width="13.9" height="6.9" fill="#808080" stroke="#3a3a3a" stroke-width="0.8"/>
<text x="2208.35" y="1193.75" font-size="7.5" fill="#2e2e2e" font-weight="bold" text-anchor="middle" textLength="12.2" lengthAdjust="spacingAndGlyphs">SIO</text>
<rect x="2200.2" y="1194.2" width="16.3" height="9.3" fill="#ffffff"/>
<rect x="2201.4" y="1195.4" width="13.9" height="6.9" fill="#808080" stroke="#3a3a3a" stroke-width="0.8"/>
<text x="2208.35" y="1201.55" font-size="7.5" fill="#2e2e2e" font-weight="bold" text-anchor="middle" textLength="12.2" lengthAdjust="spacingAndGlyphs">FIO</text>
<rect x="2176.2" y="1204.4" width="9.6" height="17.1" fill="#ffffff"/>
<rect x="2177.4" y="1205.6" width="7.2" height="14.7" fill="#7a7a7a" stroke="#3a3a3a" stroke-width="0.8"/>
<text x="2181" y="1211.75" font-size="7.5" fill="#2e2e2e" font-weight="bold" text-anchor="middle">R</text>
<path d="M2177 1212.95L2185 1212.95" stroke="#444" stroke-width="0.7"/>
<text x="2181" y="1219.5" font-size="7.5" fill="#2e2e2e" font-weight="bold" text-anchor="middle">A</text>
<rect x="2212.2" y="1204.4" width="9.6" height="17.1" fill="#ffffff"/>
<rect x="2213.4" y="1205.6" width="7.2" height="14.7" fill="#a9a9a9" stroke="#3a3a3a" stroke-width="0.8"/>
<text x="2217" y="1211.75" font-size="7.5" fill="#2e2e2e" font-weight="bold" text-anchor="middle">R</text>
<path d="M2213 1212.95L2221 1212.95" stroke="#444" stroke-width="0.7"/>
<text x="2217" y="1219.5" font-size="7.5" fill="#2e2e2e" font-weight="bold" text-anchor="middle">A</text>
<rect x="2275.2" y="1224.2" width="15.5" height="7.4" fill="#a9a9a9" stroke="#555" stroke-width="0.8" rx="1.5"/>
<text x="2282.95" y="1230.6" font-size="7.5" fill="#2e2e2e" font-weight="bold" text-anchor="middle" textLength="13" lengthAdjust="spacingAndGlyphs">SIO</text>
<rect x="2441.2" y="1224.2" width="15.5" height="7.4" fill="#a9a9a9" stroke="#555" stroke-width="0.8" rx="1.5"/>
<text x="2448.95" y="1230.6" font-size="7.5" fill="#2e2e2e" font-weight="bold" text-anchor="middle" textLength="13" lengthAdjust="spacingAndGlyphs">SIO</text>
<rect x="2212.2" y="1246.7" width="16.3" height="8.8" fill="#ffffff"/>
<rect x="2213.4" y="1247.9" width="13.9" height="6.4" fill="#808080" stroke="#3a3a3a" stroke-width="0.8"/>
<text x="2220.35" y="1253.8" font-size="7.5" fill="#2e2e2e" font-weight="bold" text-anchor="middle" textLength="12.2" lengthAdjust="spacingAndGlyphs">SIO</text>
<rect x="2266.4" y="1257.4" width="9.4" height="17.1" fill="#ffffff"/>
<rect x="2267.6" y="1258.6" width="7" height="14.7" fill="#a9a9a9" stroke="#3a3a3a" stroke-width="0.8"/>
<text x="2271.1" y="1264.75" font-size="7.5" fill="#2e2e2e" font-weight="bold" text-anchor="middle">R</text>
<path d="M2267.2 1265.95L2275 1265.95" stroke="#444" stroke-width="0.7"/>
<text x="2271.1" y="1272.5" font-size="7.5" fill="#2e2e2e" font-weight="bold" text-anchor="middle">A</text>
<rect x="2456.4" y="1204.4" width="9.4" height="17.1" fill="#ffffff"/>
<rect x="2457.6" y="1205.6" width="7" height="14.7" fill="#a9a9a9" stroke="#3a3a3a" stroke-width="0.8"/>
<text x="2461.1" y="1211.75" font-size="7.5" fill="#2e2e2e" font-weight="bold" text-anchor="middle">R</text>
<path d="M2457.2 1212.95L2465 1212.95" stroke="#444" stroke-width="0.7"/>
<text x="2461.1" y="1219.5" font-size="7.5" fill="#2e2e2e" font-weight="bold" text-anchor="middle">A</text>
<rect x="2456.4" y="1257.4" width="9.4" height="17.1" fill="#ffffff"/>
<rect x="2457.6" y="1258.6" width="7" height="14.7" fill="#a9a9a9" stroke="#3a3a3a" stroke-width="0.8"/>
<text x="2461.1" y="1264.75" font-size="7.5" fill="#2e2e2e" font-weight="bold" text-anchor="middle">R</text>
<path d="M2457.2 1265.95L2465 1265.95" stroke="#444" stroke-width="0.7"/>
<text x="2461.1" y="1272.5" font-size="7.5" fill="#2e2e2e" font-weight="bold" text-anchor="middle">0</text>
<rect x="2478.4" y="886.4" width="17.2" height="9.1" fill="#ffffff"/>
<rect x="2479.6" y="887.6" width="14.8" height="6.7" fill="#808080" stroke="#3a3a3a" stroke-width="0.8"/>
<text x="2487" y="893.65" font-size="7.5" fill="#2e2e2e" font-weight="bold" text-anchor="middle" textLength="13.1" lengthAdjust="spacingAndGlyphs">SIO</text>
<rect x="2762.2" y="864.2" width="15.3" height="7.5" fill="#a9a9a9" stroke="#555" stroke-width="0.8" rx="1.5"/>
<text x="2769.85" y="870.65" font-size="7.5" fill="#2e2e2e" font-weight="bold" text-anchor="middle" textLength="12.8" lengthAdjust="spacingAndGlyphs">SIO</text>
<rect x="2792.4" y="855.4" width="9.2" height="17.1" fill="#ffffff"/>
<rect x="2793.6" y="856.6" width="6.8" height="14.7" fill="#a9a9a9" stroke="#3a3a3a" stroke-width="0.8"/>
<text x="2797" y="862.75" font-size="7.5" fill="#2e2e2e" font-weight="bold" text-anchor="middle">R</text>
<path d="M2793.2 863.95L2800.8 863.95" stroke="#444" stroke-width="0.7"/>
<text x="2797" y="870.5" font-size="7.5" fill="#2e2e2e" font-weight="bold" text-anchor="middle">A</text>
<rect x="2801.2" y="853.2" width="15.5" height="7.5" fill="#a9a9a9" stroke="#555" stroke-width="0.8" rx="1.5"/>
<text x="2808.95" y="859.65" font-size="7.5" fill="#2e2e2e" font-weight="bold" text-anchor="middle" textLength="13" lengthAdjust="spacingAndGlyphs">SIO</text>
<rect x="2761.4" y="897.4" width="9.4" height="17.1" fill="#ffffff"/>
<rect x="2762.6" y="898.6" width="7" height="14.7" fill="#a9a9a9" stroke="#3a3a3a" stroke-width="0.8"/>
<text x="2766.1" y="904.75" font-size="7.5" fill="#2e2e2e" font-weight="bold" text-anchor="middle">R</text>
<path d="M2762.2 905.95L2770 905.95" stroke="#444" stroke-width="0.7"/>
<text x="2766.1" y="912.5" font-size="7.5" fill="#2e2e2e" font-weight="bold" text-anchor="middle">A</text>
<rect x="2999.2" y="856.2" width="8.3" height="15.5" fill="#a9a9a9" stroke="#555" stroke-width="0.8" rx="1.5"/>
<text x="3003.35" y="862.75" font-size="7.5" fill="#2e2e2e" font-weight="bold" text-anchor="middle">R</text>
<path d="M2999.2 863.95L3007.5 863.95" stroke="#444" stroke-width="0.7"/>
<text x="3003.35" y="870.5" font-size="7.5" fill="#2e2e2e" font-weight="bold" text-anchor="middle">A</text>
<rect x="2999.2" y="887.2" width="8.3" height="15.5" fill="#a9a9a9" stroke="#555" stroke-width="0.8" rx="1.5"/>
<text x="3003.35" y="893.75" font-size="7.5" fill="#2e2e2e" font-weight="bold" text-anchor="middle">R</text>
<path d="M2999.2 894.95L3007.5 894.95" stroke="#444" stroke-width="0.7"/>
<text x="3003.35" y="901.5" font-size="7.5" fill="#2e2e2e" font-weight="bold" text-anchor="middle">A</text>
<rect x="3010.2" y="853.2" width="15.5" height="7.5" fill="#a9a9a9" stroke="#555" stroke-width="0.8" rx="1.5"/>
<text x="3017.95" y="859.65" font-size="7.5" fill="#2e2e2e" font-weight="bold" text-anchor="middle" textLength="13" lengthAdjust="spacingAndGlyphs">SIO</text>
<rect x="3030.2" y="826.2" width="8.5" height="15.5" fill="#a9a9a9" stroke="#555" stroke-width="0.8" rx="1.5"/>
<text x="3034.45" y="832.75" font-size="7.5" fill="#2e2e2e" font-weight="bold" text-anchor="middle">R</text>
<path d="M3030.2 833.95L3038.7 833.95" stroke="#444" stroke-width="0.7"/>
<text x="3034.45" y="840.5" font-size="7.5" fill="#2e2e2e" font-weight="bold" text-anchor="middle">A</text>
<rect x="3075.2" y="826.2" width="8.5" height="15.5" fill="#a9a9a9" stroke="#555" stroke-width="0.8" rx="1.5"/>
<text x="3079.45" y="832.75" font-size="7.5" fill="#2e2e2e" font-weight="bold" text-anchor="middle">R</text>
<path d="M3075.2 833.95L3083.7 833.95" stroke="#444" stroke-width="0.7"/>
<text x="3079.45" y="840.5" font-size="7.5" fill="#2e2e2e" font-weight="bold" text-anchor="middle">A</text>
<rect x="2786.2" y="1247.6" width="15.5" height="7.2" fill="#a9a9a9" stroke="#555" stroke-width="0.8" rx="1.5"/>
<text x="2793.95" y="1253.9" font-size="7.5" fill="#2e2e2e" font-weight="bold" text-anchor="middle" textLength="13" lengthAdjust="spacingAndGlyphs">SIO</text>
<rect x="2801.4" y="1257.4" width="9.2" height="17.1" fill="#ffffff"/>
<rect x="2802.6" y="1258.6" width="6.8" height="14.7" fill="#a9a9a9" stroke="#3a3a3a" stroke-width="0.8"/>
<text x="2806" y="1264.75" font-size="7.5" fill="#2e2e2e" font-weight="bold" text-anchor="middle">R</text>
<path d="M2802.2 1265.95L2809.8 1265.95" stroke="#444" stroke-width="0.7"/>
<text x="2806" y="1272.5" font-size="7.5" fill="#2e2e2e" font-weight="bold" text-anchor="middle">A</text>
<rect x="3041.2" y="1247.6" width="15.5" height="7.2" fill="#a9a9a9" stroke="#555" stroke-width="0.8" rx="1.5"/>
<text x="3048.95" y="1253.9" font-size="7.5" fill="#2e2e2e" font-weight="bold" text-anchor="middle" textLength="13" lengthAdjust="spacingAndGlyphs">SIO</text>
<rect x="3056.4" y="1204.4" width="9.4" height="17.1" fill="#ffffff"/>
<rect x="3057.6" y="1205.6" width="7" height="14.7" fill="#a9a9a9" stroke="#3a3a3a" stroke-width="0.8"/>
<text x="3061.1" y="1211.75" font-size="7.5" fill="#2e2e2e" font-weight="bold" text-anchor="middle">R</text>
<path d="M3057.2 1212.95L3065 1212.95" stroke="#444" stroke-width="0.7"/>
<text x="3061.1" y="1219.5" font-size="7.5" fill="#2e2e2e" font-weight="bold" text-anchor="middle">A</text>
<rect x="3056.4" y="1257.4" width="9.4" height="17.1" fill="#ffffff"/>
<rect x="3057.6" y="1258.6" width="7" height="14.7" fill="#a9a9a9" stroke="#3a3a3a" stroke-width="0.8"/>
<text x="3061.1" y="1264.75" font-size="7.5" fill="#2e2e2e" font-weight="bold" text-anchor="middle">R</text>
<path d="M3057.2 1265.95L3065 1265.95" stroke="#444" stroke-width="0.7"/>
<text x="3061.1" y="1272.5" font-size="7.5" fill="#2e2e2e" font-weight="bold" text-anchor="middle">A</text>
<text x="2256.5" y="761" font-size="8" fill="#484848" text-anchor="middle" transform="rotate(-45 2256.5 761)" dominant-baseline="central">RE3-1CH</text>
<text x="2153.5" y="894.5" font-size="8" fill="#484848" text-anchor="middle" transform="rotate(-45 2153.5 894.5)" dominant-baseline="central">RES-29CH</text>
<text x="2344" y="904" font-size="8" fill="#484848" text-anchor="middle" transform="rotate(-28 2344 904)" dominant-baseline="central">RES-31CH</text>
<text x="3064" y="768" font-size="8" fill="#484848" text-anchor="middle" transform="rotate(58 3064 768)" dominant-baseline="central">PS3-3</text>
<text x="3089" y="769" font-size="8" fill="#484848" text-anchor="middle" transform="rotate(-58 3089 769)" dominant-baseline="central">PS1-16</text>
<text x="3073" y="853.5" font-size="8" fill="#484848" text-anchor="middle" transform="rotate(-72 3073 853.5)" dominant-baseline="central">PS3-1CH</text>
<text x="2840.5" y="854" font-size="8" fill="#484848" text-anchor="middle" transform="rotate(-90 2840.5 854)" dominant-baseline="central">PS1-10CH</text>
<text x="2836" y="902.5" font-size="8" fill="#484848" text-anchor="middle" transform="rotate(27 2836 902.5)" dominant-baseline="central">BP1-1CH</text>
<text x="3074.5" y="904" font-size="8" fill="#484848" text-anchor="middle" transform="rotate(-90 3074.5 904)" dominant-baseline="central">PS1-13CH</text>
<text x="3095.5" y="887" font-size="8" fill="#484848" text-anchor="middle" transform="rotate(-45 3095.5 887)" dominant-baseline="central">PS1-14</text>
<text x="2189" y="1247" font-size="8" fill="#484848" text-anchor="middle" transform="rotate(45 2189 1247)" dominant-baseline="central">PS2-4CH</text>
<text x="2490" y="1221.5" font-size="8" fill="#484848" text-anchor="middle" transform="rotate(27 2490 1221.5)" dominant-baseline="central">BP2-1CH</text>
<text x="2535.5" y="1262.5" font-size="8" fill="#484848" text-anchor="middle" transform="rotate(-90 2535.5 1262.5)" dominant-baseline="central">PS2-7CH</text>
<text x="3092" y="1262.5" font-size="8" fill="#484848" text-anchor="middle" transform="rotate(-45 3092 1262.5)" dominant-baseline="central">PS4-1CH</text>
<text x="3139.3" y="1275.3" font-size="8" fill="#484848" text-anchor="middle" transform="rotate(-90 3139.3 1275.3)" dominant-baseline="central">PS2</text>
<text x="3200.5" y="1238" font-size="8" fill="#484848" text-anchor="middle" transform="rotate(45 3200.5 1238)" dominant-baseline="central">PS2-13CH</text>
<text x="3117" y="1406" font-size="8" fill="#484848" text-anchor="middle" transform="rotate(-45 3117 1406)" dominant-baseline="central">PS4-5</text>
<text x="3198" y="1410" font-size="8" fill="#484848" text-anchor="middle" transform="rotate(45 3198 1410)" dominant-baseline="central">PS2-17</text>
<text x="2275.5" y="1408.5" font-size="8" fill="#484848" text-anchor="middle" transform="rotate(45 2275.5 1408.5)" dominant-baseline="central">RE4-2</text>
<text x="2152" y="1532" font-size="8" fill="#484848" text-anchor="middle" transform="rotate(45 2152 1532)" dominant-baseline="central">RE5-25CH</text>
<text x="3974" y="1405" font-size="8" fill="#484848" text-anchor="middle" transform="rotate(-45 3974 1405)" dominant-baseline="central">RE2-1CH</text>
<text x="4029" y="1531" font-size="8" fill="#484848" text-anchor="middle" transform="rotate(-45 4029 1531)" dominant-baseline="central">RE5-16CH</text>
<text x="3968" y="1273" font-size="8" fill="#484848" text-anchor="middle" transform="rotate(45 3968 1273)" dominant-baseline="central">RE2-3</text>
<text x="4008.5" y="1198.5" font-size="8" fill="#484848" text-anchor="middle" transform="rotate(-70 4008.5 1198.5)" dominant-baseline="central">RE5-19</text>
<text x="4063.5" y="1178" font-size="8" fill="#484848" text-anchor="middle" transform="rotate(-70 4063.5 1178)" dominant-baseline="central">RE5-</text>
<text x="4006" y="768.5" font-size="8" fill="#484848" text-anchor="middle" transform="rotate(58 4006 768.5)" dominant-baseline="central">RE1-1</text>
<text x="2129" y="1230" font-size="5" fill="#444" text-anchor="middle" transform="rotate(20 2129 1230)">4</text>
</g>
</svg>
</body></html>
